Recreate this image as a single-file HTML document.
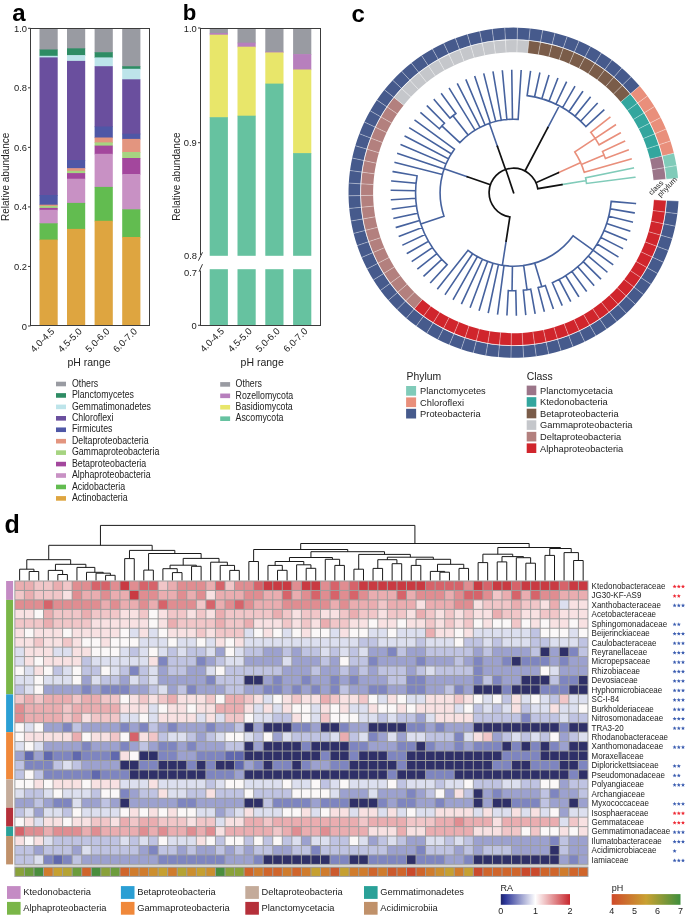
<!DOCTYPE html>
<html><head><meta charset="utf-8"><style>
html,body{margin:0;padding:0;background:#fff;}
svg{display:block;font-family:"Liberation Sans", sans-serif;will-change:transform;}
</style></head><body>
<svg width="685" height="917" viewBox="0 0 685 917">
<rect width="685" height="917" fill="#fff"/>
<text x="12.3" y="21" font-size="24" text-anchor="start" font-weight="bold" fill="#000">a</text>
<text x="182.8" y="19.9" font-size="22.2" text-anchor="start" font-weight="bold" fill="#000">b</text>
<text x="351.4" y="21.8" font-size="24" text-anchor="start" font-weight="bold" fill="#000">c</text>
<text x="4.4" y="532.9" font-size="25" text-anchor="start" font-weight="bold" fill="#000">d</text>
<rect x="39.5" y="28.3" width="18.2" height="21.8" fill="#999ba2"/>
<rect x="39.5" y="49.5" width="18.2" height="6.9" fill="#2e8c64"/>
<rect x="39.5" y="55.8" width="18.2" height="2.2" fill="#bde4ea"/>
<rect x="39.5" y="57.4" width="18.2" height="138.2" fill="#6a4f9e"/>
<rect x="39.5" y="195" width="18.2" height="10.3" fill="#4f57a6"/>
<rect x="39.5" y="204.7" width="18.2" height="1.8" fill="#e3957f"/>
<rect x="39.5" y="205.9" width="18.2" height="2.6" fill="#a6d481"/>
<rect x="39.5" y="207.9" width="18.2" height="2.5" fill="#a3479d"/>
<rect x="39.5" y="209.8" width="18.2" height="14.1" fill="#c891c4"/>
<rect x="39.5" y="223.3" width="18.2" height="16.9" fill="#62bc50"/>
<rect x="39.5" y="239.6" width="18.2" height="86.4" fill="#dea540"/>
<rect x="67" y="28.3" width="18.2" height="20.6" fill="#999ba2"/>
<rect x="67" y="48.3" width="18.2" height="7.4" fill="#2e8c64"/>
<rect x="67" y="55.1" width="18.2" height="6.4" fill="#bde4ea"/>
<rect x="67" y="60.9" width="18.2" height="99.7" fill="#6a4f9e"/>
<rect x="67" y="160" width="18.2" height="8.8" fill="#4f57a6"/>
<rect x="67" y="168.2" width="18.2" height="3.2" fill="#e3957f"/>
<rect x="67" y="170.8" width="18.2" height="2.9" fill="#a6d481"/>
<rect x="67" y="173.1" width="18.2" height="6.2" fill="#a3479d"/>
<rect x="67" y="178.7" width="18.2" height="24.8" fill="#c891c4"/>
<rect x="67" y="202.9" width="18.2" height="26.6" fill="#62bc50"/>
<rect x="67" y="228.9" width="18.2" height="97.1" fill="#dea540"/>
<rect x="94.6" y="28.3" width="18.2" height="24.5" fill="#999ba2"/>
<rect x="94.6" y="52.2" width="18.2" height="5.8" fill="#2e8c64"/>
<rect x="94.6" y="57.4" width="18.2" height="9.4" fill="#bde4ea"/>
<rect x="94.6" y="66.2" width="18.2" height="60.9" fill="#6a4f9e"/>
<rect x="94.6" y="126.5" width="18.2" height="11.6" fill="#4f57a6"/>
<rect x="94.6" y="137.5" width="18.2" height="5.5" fill="#e3957f"/>
<rect x="94.6" y="142.4" width="18.2" height="3.8" fill="#a6d481"/>
<rect x="94.6" y="145.6" width="18.2" height="8.8" fill="#a3479d"/>
<rect x="94.6" y="153.8" width="18.2" height="33.7" fill="#c891c4"/>
<rect x="94.6" y="186.9" width="18.2" height="34.5" fill="#62bc50"/>
<rect x="94.6" y="220.8" width="18.2" height="105.2" fill="#dea540"/>
<rect x="122.2" y="28.3" width="18.2" height="38.5" fill="#999ba2"/>
<rect x="122.2" y="66.2" width="18.2" height="3.2" fill="#2e8c64"/>
<rect x="122.2" y="68.8" width="18.2" height="11.1" fill="#bde4ea"/>
<rect x="122.2" y="79.3" width="18.2" height="55" fill="#6a4f9e"/>
<rect x="122.2" y="133.7" width="18.2" height="5.8" fill="#4f57a6"/>
<rect x="122.2" y="138.9" width="18.2" height="13.7" fill="#e3957f"/>
<rect x="122.2" y="152" width="18.2" height="6.6" fill="#a6d481"/>
<rect x="122.2" y="158" width="18.2" height="16.6" fill="#a3479d"/>
<rect x="122.2" y="174" width="18.2" height="35.9" fill="#c891c4"/>
<rect x="122.2" y="209.3" width="18.2" height="28.3" fill="#62bc50"/>
<rect x="122.2" y="237" width="18.2" height="89" fill="#dea540"/>
<rect x="30.5" y="28.5" width="119" height="297" fill="none" stroke="#3c3c3c" stroke-width="1"/>
<line x1="28" y1="326" x2="30.5" y2="326" stroke="#3c3c3c" stroke-width="1"/>
<text x="27" y="329.5" font-size="9.4" text-anchor="end" font-weight="normal" fill="#222">0</text>
<line x1="28" y1="266.46" x2="30.5" y2="266.46" stroke="#3c3c3c" stroke-width="1"/>
<text x="27" y="269.96" font-size="9.4" text-anchor="end" font-weight="normal" fill="#222">0.2</text>
<line x1="28" y1="206.92" x2="30.5" y2="206.92" stroke="#3c3c3c" stroke-width="1"/>
<text x="27" y="210.42" font-size="9.4" text-anchor="end" font-weight="normal" fill="#222">0.4</text>
<line x1="28" y1="147.38" x2="30.5" y2="147.38" stroke="#3c3c3c" stroke-width="1"/>
<text x="27" y="150.88" font-size="9.4" text-anchor="end" font-weight="normal" fill="#222">0.6</text>
<line x1="28" y1="87.84" x2="30.5" y2="87.84" stroke="#3c3c3c" stroke-width="1"/>
<text x="27" y="91.34" font-size="9.4" text-anchor="end" font-weight="normal" fill="#222">0.8</text>
<line x1="28" y1="28.3" x2="30.5" y2="28.3" stroke="#3c3c3c" stroke-width="1"/>
<text x="27" y="31.8" font-size="9.4" text-anchor="end" font-weight="normal" fill="#222">1.0</text>
<text transform="translate(9.4,176.9) rotate(-90) scale(1,1.12)" font-size="10" text-anchor="middle" fill="#222">Relative abundance</text>
<text transform="translate(55.1,332.0) rotate(-45)" font-size="9.5" text-anchor="end" fill="#222">4.0-4.5</text>
<text transform="translate(82.6,332.0) rotate(-45)" font-size="9.5" text-anchor="end" fill="#222">4.5-5.0</text>
<text transform="translate(110.2,332.0) rotate(-45)" font-size="9.5" text-anchor="end" fill="#222">5.0-6.0</text>
<text transform="translate(137.8,332.0) rotate(-45)" font-size="9.5" text-anchor="end" fill="#222">6.0-7.0</text>
<text x="89" y="366.2" font-size="10.5" text-anchor="middle" font-weight="normal" fill="#222">pH range</text>
<rect x="56" y="381.7" width="10" height="4.6" fill="#999ba2"/>
<text transform="translate(71.9,386.7) scale(1,1.17)" font-size="8.8" fill="#222">Others</text>
<rect x="56" y="393.14" width="10" height="4.6" fill="#2e8c64"/>
<text transform="translate(71.9,398.14) scale(1,1.17)" font-size="8.8" fill="#222">Planctomycetes</text>
<rect x="56" y="404.58" width="10" height="4.6" fill="#bde4ea"/>
<text transform="translate(71.9,409.58) scale(1,1.17)" font-size="8.8" fill="#222">Gemmatimonadetes</text>
<rect x="56" y="416.02" width="10" height="4.6" fill="#6a4f9e"/>
<text transform="translate(71.9,421.02) scale(1,1.17)" font-size="8.8" fill="#222">Chloroflexi</text>
<rect x="56" y="427.46" width="10" height="4.6" fill="#4f57a6"/>
<text transform="translate(71.9,432.46) scale(1,1.17)" font-size="8.8" fill="#222">Firmicutes</text>
<rect x="56" y="438.9" width="10" height="4.6" fill="#e3957f"/>
<text transform="translate(71.9,443.9) scale(1,1.17)" font-size="8.8" fill="#222">Deltaproteobacteria</text>
<rect x="56" y="450.34" width="10" height="4.6" fill="#a6d481"/>
<text transform="translate(71.9,455.34) scale(1,1.17)" font-size="8.8" fill="#222">Gammaproteobacteria</text>
<rect x="56" y="461.78" width="10" height="4.6" fill="#a3479d"/>
<text transform="translate(71.9,466.78) scale(1,1.17)" font-size="8.8" fill="#222">Betaproteobacteria</text>
<rect x="56" y="473.22" width="10" height="4.6" fill="#c891c4"/>
<text transform="translate(71.9,478.22) scale(1,1.17)" font-size="8.8" fill="#222">Alphaproteobacteria</text>
<rect x="56" y="484.66" width="10" height="4.6" fill="#62bc50"/>
<text transform="translate(71.9,489.66) scale(1,1.17)" font-size="8.8" fill="#222">Acidobacteria</text>
<rect x="56" y="496.1" width="10" height="4.6" fill="#dea540"/>
<text transform="translate(71.9,501.1) scale(1,1.17)" font-size="8.8" fill="#222">Actinobacteria</text>
<rect x="209.7" y="28" width="18.2" height="5.6" fill="#999ba2"/>
<rect x="209.7" y="33" width="18.2" height="2.3" fill="#b77fbd"/>
<rect x="209.7" y="34.7" width="18.2" height="83.1" fill="#e8e66a"/>
<rect x="209.7" y="117.2" width="18.2" height="138.6" fill="#66c2a0"/>
<rect x="209.7" y="269.2" width="18.2" height="56.1" fill="#66c2a0"/>
<rect x="237.5" y="28" width="18.2" height="15.3" fill="#999ba2"/>
<rect x="237.5" y="42.7" width="18.2" height="4.6" fill="#b77fbd"/>
<rect x="237.5" y="46.7" width="18.2" height="69.6" fill="#e8e66a"/>
<rect x="237.5" y="115.7" width="18.2" height="140.1" fill="#66c2a0"/>
<rect x="237.5" y="269.2" width="18.2" height="56.1" fill="#66c2a0"/>
<rect x="265.3" y="28" width="18.2" height="24.2" fill="#999ba2"/>
<rect x="265.3" y="51.6" width="18.2" height="1.4" fill="#b77fbd"/>
<rect x="265.3" y="52.4" width="18.2" height="31.8" fill="#e8e66a"/>
<rect x="265.3" y="83.6" width="18.2" height="172.2" fill="#66c2a0"/>
<rect x="265.3" y="269.2" width="18.2" height="56.1" fill="#66c2a0"/>
<rect x="293.1" y="28" width="18.2" height="26.7" fill="#999ba2"/>
<rect x="293.1" y="54.1" width="18.2" height="16" fill="#b77fbd"/>
<rect x="293.1" y="69.5" width="18.2" height="84.2" fill="#e8e66a"/>
<rect x="293.1" y="153.1" width="18.2" height="102.7" fill="#66c2a0"/>
<rect x="293.1" y="269.2" width="18.2" height="56.1" fill="#66c2a0"/>
<line x1="200" y1="28.5" x2="321" y2="28.5" stroke="#3c3c3c" stroke-width="1"/>
<line x1="320.5" y1="28.5" x2="320.5" y2="325.5" stroke="#3c3c3c" stroke-width="1"/>
<line x1="200" y1="325.5" x2="321" y2="325.5" stroke="#3c3c3c" stroke-width="1"/>
<line x1="200.5" y1="28.5" x2="200.5" y2="255" stroke="#3c3c3c" stroke-width="1"/>
<line x1="200.5" y1="270.5" x2="200.5" y2="325.5" stroke="#3c3c3c" stroke-width="1"/>
<line x1="202.5" y1="252.3" x2="198.4" y2="260.7" stroke="#3c3c3c" stroke-width="1"/>
<line x1="202.5" y1="264.2" x2="199" y2="271.8" stroke="#3c3c3c" stroke-width="1"/>
<line x1="198" y1="28" x2="200.5" y2="28" stroke="#3c3c3c" stroke-width="1"/>
<text x="196.8" y="31.5" font-size="9.4" text-anchor="end" font-weight="normal" fill="#222">1.0</text>
<line x1="198" y1="142.7" x2="200.5" y2="142.7" stroke="#3c3c3c" stroke-width="1"/>
<text x="196.8" y="146.2" font-size="9.4" text-anchor="end" font-weight="normal" fill="#222">0.9</text>
<text x="197" y="259.1" font-size="9.4" text-anchor="end" font-weight="normal" fill="#222">0.8</text>
<text x="197" y="275.7" font-size="9.4" text-anchor="end" font-weight="normal" fill="#222">0.7</text>
<line x1="198" y1="325.3" x2="200.5" y2="325.3" stroke="#3c3c3c" stroke-width="1"/>
<text x="196.8" y="328.8" font-size="9.4" text-anchor="end" font-weight="normal" fill="#222">0</text>
<text transform="translate(180.3,176.7) rotate(-90) scale(1,1.12)" font-size="10" text-anchor="middle" fill="#222">Relative abundance</text>
<text transform="translate(224.8,331.8) rotate(-45)" font-size="9.5" text-anchor="end" fill="#222">4.0-4.5</text>
<text transform="translate(252.6,331.8) rotate(-45)" font-size="9.5" text-anchor="end" fill="#222">4.5-5.0</text>
<text transform="translate(280.4,331.8) rotate(-45)" font-size="9.5" text-anchor="end" fill="#222">5.0-6.0</text>
<text transform="translate(308.2,331.8) rotate(-45)" font-size="9.5" text-anchor="end" fill="#222">6.0-7.0</text>
<text x="262.2" y="366.2" font-size="10.5" text-anchor="middle" font-weight="normal" fill="#222">pH range</text>
<rect x="220.2" y="382.1" width="9.9" height="4.6" fill="#999ba2"/>
<text transform="translate(235.6,387.1) scale(1,1.17)" font-size="8.8" fill="#222">Others</text>
<rect x="220.2" y="393.53" width="9.9" height="4.6" fill="#b77fbd"/>
<text transform="translate(235.6,398.53) scale(1,1.17)" font-size="8.8" fill="#222">Rozellomycota</text>
<rect x="220.2" y="404.96" width="9.9" height="4.6" fill="#e8e66a"/>
<text transform="translate(235.6,409.96) scale(1,1.17)" font-size="8.8" fill="#222">Basidiomycota</text>
<rect x="220.2" y="416.39" width="9.9" height="4.6" fill="#66c2a0"/>
<text transform="translate(235.6,421.39) scale(1,1.17)" font-size="8.8" fill="#222">Ascomycota</text>
<path d="M666.1,200.43 A152.7,152.7 0 0 1 665.06,212.1 L652.96,210.55 A140.5,140.5 0 0 0 653.92,199.81Z" fill="#d0252c"/>
<path d="M678.49,201.05 A165.1,165.1 0 0 1 677.36,213.68 L665.66,212.18 A153.3,153.3 0 0 0 666.7,200.46Z" fill="#465a8c"/>
<path d="M665.06,212.1 A152.7,152.7 0 0 1 663.13,223.67 L651.18,221.19 A140.5,140.5 0 0 0 652.96,210.55Z" fill="#d0252c"/>
<path d="M677.36,213.68 A165.1,165.1 0 0 1 675.27,226.18 L663.71,223.79 A153.3,153.3 0 0 0 665.66,212.18Z" fill="#465a8c"/>
<path d="M663.13,223.67 A152.7,152.7 0 0 1 660.31,235.05 L648.59,231.67 A140.5,140.5 0 0 0 651.18,221.19Z" fill="#d0252c"/>
<path d="M675.27,226.18 A165.1,165.1 0 0 1 672.22,238.49 L660.89,235.22 A153.3,153.3 0 0 0 663.71,223.79Z" fill="#465a8c"/>
<path d="M660.31,235.05 A152.7,152.7 0 0 1 656.63,246.18 L645.2,241.91 A140.5,140.5 0 0 0 648.59,231.67Z" fill="#d0252c"/>
<path d="M672.22,238.49 A165.1,165.1 0 0 1 668.24,250.53 L657.19,246.39 A153.3,153.3 0 0 0 660.89,235.22Z" fill="#465a8c"/>
<path d="M656.63,246.18 A152.7,152.7 0 0 1 652.1,257 L641.04,251.86 A140.5,140.5 0 0 0 645.2,241.91Z" fill="#d0252c"/>
<path d="M668.24,250.53 A165.1,165.1 0 0 1 663.35,262.22 L652.65,257.25 A153.3,153.3 0 0 0 657.19,246.39Z" fill="#465a8c"/>
<path d="M652.1,257 A152.7,152.7 0 0 1 646.76,267.44 L636.12,261.47 A140.5,140.5 0 0 0 641.04,251.86Z" fill="#d0252c"/>
<path d="M663.35,262.22 A165.1,165.1 0 0 1 657.57,273.51 L647.28,267.73 A153.3,153.3 0 0 0 652.65,257.25Z" fill="#465a8c"/>
<path d="M646.76,267.44 A152.7,152.7 0 0 1 640.63,277.43 L630.48,270.66 A140.5,140.5 0 0 0 636.12,261.47Z" fill="#d0252c"/>
<path d="M657.57,273.51 A165.1,165.1 0 0 1 650.95,284.32 L641.13,277.77 A153.3,153.3 0 0 0 647.28,267.73Z" fill="#465a8c"/>
<path d="M640.63,277.43 A152.7,152.7 0 0 1 633.76,286.93 L624.16,279.4 A140.5,140.5 0 0 0 630.48,270.66Z" fill="#d0252c"/>
<path d="M650.95,284.32 A165.1,165.1 0 0 1 643.51,294.58 L634.23,287.3 A153.3,153.3 0 0 0 641.13,277.77Z" fill="#465a8c"/>
<path d="M633.76,286.93 A152.7,152.7 0 0 1 626.17,295.87 L617.18,287.63 A140.5,140.5 0 0 0 624.16,279.4Z" fill="#d0252c"/>
<path d="M643.51,294.58 A165.1,165.1 0 0 1 635.31,304.25 L626.61,296.28 A153.3,153.3 0 0 0 634.23,287.3Z" fill="#465a8c"/>
<path d="M626.17,295.87 A152.7,152.7 0 0 1 617.92,304.21 L609.59,295.3 A140.5,140.5 0 0 0 617.18,287.63Z" fill="#d0252c"/>
<path d="M635.31,304.25 A165.1,165.1 0 0 1 626.4,313.26 L618.33,304.65 A153.3,153.3 0 0 0 626.61,296.28Z" fill="#465a8c"/>
<path d="M617.92,304.21 A152.7,152.7 0 0 1 609.06,311.88 L601.43,302.36 A140.5,140.5 0 0 0 609.59,295.3Z" fill="#d0252c"/>
<path d="M626.4,313.26 A165.1,165.1 0 0 1 616.81,321.56 L609.44,312.35 A153.3,153.3 0 0 0 618.33,304.65Z" fill="#465a8c"/>
<path d="M609.06,311.88 A152.7,152.7 0 0 1 599.63,318.86 L592.76,308.78 A140.5,140.5 0 0 0 601.43,302.36Z" fill="#d0252c"/>
<path d="M616.81,321.56 A165.1,165.1 0 0 1 606.62,329.1 L599.97,319.35 A153.3,153.3 0 0 0 609.44,312.35Z" fill="#465a8c"/>
<path d="M599.63,318.86 A152.7,152.7 0 0 1 589.7,325.09 L583.62,314.51 A140.5,140.5 0 0 0 592.76,308.78Z" fill="#d0252c"/>
<path d="M606.62,329.1 A165.1,165.1 0 0 1 595.88,335.84 L590,325.61 A153.3,153.3 0 0 0 599.97,319.35Z" fill="#465a8c"/>
<path d="M589.7,325.09 A152.7,152.7 0 0 1 579.32,330.53 L574.07,319.52 A140.5,140.5 0 0 0 583.62,314.51Z" fill="#d0252c"/>
<path d="M595.88,335.84 A165.1,165.1 0 0 1 584.65,341.73 L579.58,331.08 A153.3,153.3 0 0 0 590,325.61Z" fill="#465a8c"/>
<path d="M579.32,330.53 A152.7,152.7 0 0 1 568.55,335.17 L564.16,323.79 A140.5,140.5 0 0 0 574.07,319.52Z" fill="#d0252c"/>
<path d="M584.65,341.73 A165.1,165.1 0 0 1 573.01,346.74 L568.76,335.73 A153.3,153.3 0 0 0 579.58,331.08Z" fill="#465a8c"/>
<path d="M568.55,335.17 A152.7,152.7 0 0 1 557.45,338.97 L553.95,327.28 A140.5,140.5 0 0 0 564.16,323.79Z" fill="#d0252c"/>
<path d="M573.01,346.74 A165.1,165.1 0 0 1 561.02,350.84 L557.63,339.54 A153.3,153.3 0 0 0 568.76,335.73Z" fill="#465a8c"/>
<path d="M557.45,338.97 A152.7,152.7 0 0 1 546.1,341.9 L543.51,329.98 A140.5,140.5 0 0 0 553.95,327.28Z" fill="#d0252c"/>
<path d="M561.02,350.84 A165.1,165.1 0 0 1 548.74,354.02 L546.23,342.49 A153.3,153.3 0 0 0 557.63,339.54Z" fill="#465a8c"/>
<path d="M546.1,341.9 A152.7,152.7 0 0 1 534.56,343.95 L532.88,331.87 A140.5,140.5 0 0 0 543.51,329.98Z" fill="#d0252c"/>
<path d="M548.74,354.02 A165.1,165.1 0 0 1 536.26,356.24 L534.64,344.55 A153.3,153.3 0 0 0 546.23,342.49Z" fill="#465a8c"/>
<path d="M534.56,343.95 A152.7,152.7 0 0 1 522.89,345.12 L522.15,332.94 A140.5,140.5 0 0 0 532.88,331.87Z" fill="#d0252c"/>
<path d="M536.26,356.24 A165.1,165.1 0 0 1 523.64,357.49 L522.93,345.72 A153.3,153.3 0 0 0 534.64,344.55Z" fill="#465a8c"/>
<path d="M522.89,345.12 A152.7,152.7 0 0 1 511.17,345.38 L511.36,333.18 A140.5,140.5 0 0 0 522.15,332.94Z" fill="#d0252c"/>
<path d="M523.64,357.49 A165.1,165.1 0 0 1 510.97,357.78 L511.16,345.98 A153.3,153.3 0 0 0 522.93,345.72Z" fill="#465a8c"/>
<path d="M511.17,345.38 A152.7,152.7 0 0 1 499.46,344.74 L500.59,332.6 A140.5,140.5 0 0 0 511.36,333.18Z" fill="#d0252c"/>
<path d="M510.97,357.78 A165.1,165.1 0 0 1 498.31,357.09 L499.4,345.34 A153.3,153.3 0 0 0 511.16,345.98Z" fill="#465a8c"/>
<path d="M499.46,344.74 A152.7,152.7 0 0 1 487.84,343.21 L489.89,331.19 A140.5,140.5 0 0 0 500.59,332.6Z" fill="#d0252c"/>
<path d="M498.31,357.09 A165.1,165.1 0 0 1 485.74,355.43 L487.73,343.8 A153.3,153.3 0 0 0 499.4,345.34Z" fill="#465a8c"/>
<path d="M487.84,343.21 A152.7,152.7 0 0 1 476.36,340.79 L479.34,328.96 A140.5,140.5 0 0 0 489.89,331.19Z" fill="#d0252c"/>
<path d="M485.74,355.43 A165.1,165.1 0 0 1 473.34,352.82 L476.22,341.37 A153.3,153.3 0 0 0 487.73,343.8Z" fill="#465a8c"/>
<path d="M476.36,340.79 A152.7,152.7 0 0 1 465.11,337.5 L468.98,325.93 A140.5,140.5 0 0 0 479.34,328.96Z" fill="#d0252c"/>
<path d="M473.34,352.82 A165.1,165.1 0 0 1 461.17,349.25 L464.92,338.07 A153.3,153.3 0 0 0 476.22,341.37Z" fill="#465a8c"/>
<path d="M465.11,337.5 A152.7,152.7 0 0 1 454.14,333.35 L458.89,322.11 A140.5,140.5 0 0 0 468.98,325.93Z" fill="#d0252c"/>
<path d="M461.17,349.25 A165.1,165.1 0 0 1 449.31,344.77 L453.91,333.9 A153.3,153.3 0 0 0 464.92,338.07Z" fill="#465a8c"/>
<path d="M454.14,333.35 A152.7,152.7 0 0 1 443.53,328.37 L449.12,317.53 A140.5,140.5 0 0 0 458.89,322.11Z" fill="#d0252c"/>
<path d="M449.31,344.77 A165.1,165.1 0 0 1 437.84,339.39 L443.25,328.91 A153.3,153.3 0 0 0 453.91,333.9Z" fill="#465a8c"/>
<path d="M443.53,328.37 A152.7,152.7 0 0 1 433.32,322.6 L439.74,312.22 A140.5,140.5 0 0 0 449.12,317.53Z" fill="#d0252c"/>
<path d="M437.84,339.39 A165.1,165.1 0 0 1 426.8,333.14 L433.01,323.11 A153.3,153.3 0 0 0 443.25,328.91Z" fill="#465a8c"/>
<path d="M433.32,322.6 A152.7,152.7 0 0 1 423.59,316.05 L430.78,306.2 A140.5,140.5 0 0 0 439.74,312.22Z" fill="#d0252c"/>
<path d="M426.8,333.14 A165.1,165.1 0 0 1 416.28,326.07 L423.24,316.54 A153.3,153.3 0 0 0 433.01,323.11Z" fill="#465a8c"/>
<path d="M423.59,316.05 A152.7,152.7 0 0 1 414.39,308.78 L422.32,299.51 A140.5,140.5 0 0 0 430.78,306.2Z" fill="#d0252c"/>
<path d="M416.28,326.07 A165.1,165.1 0 0 1 406.34,318.21 L414,309.24 A153.3,153.3 0 0 0 423.24,316.54Z" fill="#465a8c"/>
<path d="M414.39,308.78 A152.7,152.7 0 0 1 405.78,300.83 L414.39,292.19 A140.5,140.5 0 0 0 422.32,299.51Z" fill="#b3807e"/>
<path d="M406.34,318.21 A165.1,165.1 0 0 1 397.02,309.61 L405.35,301.25 A153.3,153.3 0 0 0 414,309.24Z" fill="#465a8c"/>
<path d="M405.78,300.83 A152.7,152.7 0 0 1 397.8,292.24 L407.05,284.28 A140.5,140.5 0 0 0 414.39,292.19Z" fill="#b3807e"/>
<path d="M397.02,309.61 A165.1,165.1 0 0 1 388.4,300.32 L397.34,292.63 A153.3,153.3 0 0 0 405.35,301.25Z" fill="#465a8c"/>
<path d="M397.8,292.24 A152.7,152.7 0 0 1 390.5,283.06 L400.34,275.84 A140.5,140.5 0 0 0 407.05,284.28Z" fill="#b3807e"/>
<path d="M388.4,300.32 A165.1,165.1 0 0 1 380.51,290.39 L390.02,283.41 A153.3,153.3 0 0 0 397.34,292.63Z" fill="#465a8c"/>
<path d="M390.5,283.06 A152.7,152.7 0 0 1 383.93,273.35 L394.29,266.9 A140.5,140.5 0 0 0 400.34,275.84Z" fill="#b3807e"/>
<path d="M380.51,290.39 A165.1,165.1 0 0 1 373.4,279.89 L383.42,273.66 A153.3,153.3 0 0 0 390.02,283.41Z" fill="#465a8c"/>
<path d="M383.93,273.35 A152.7,152.7 0 0 1 378.13,263.16 L388.95,257.53 A140.5,140.5 0 0 0 394.29,266.9Z" fill="#b3807e"/>
<path d="M373.4,279.89 A165.1,165.1 0 0 1 367.13,268.88 L377.59,263.44 A153.3,153.3 0 0 0 383.42,273.66Z" fill="#465a8c"/>
<path d="M378.13,263.16 A152.7,152.7 0 0 1 373.12,252.56 L384.34,247.77 A140.5,140.5 0 0 0 388.95,257.53Z" fill="#b3807e"/>
<path d="M367.13,268.88 A165.1,165.1 0 0 1 361.71,257.42 L372.57,252.79 A153.3,153.3 0 0 0 377.59,263.44Z" fill="#465a8c"/>
<path d="M373.12,252.56 A152.7,152.7 0 0 1 368.94,241.6 L380.5,237.69 A140.5,140.5 0 0 0 384.34,247.77Z" fill="#b3807e"/>
<path d="M361.71,257.42 A165.1,165.1 0 0 1 357.19,245.57 L368.37,241.79 A153.3,153.3 0 0 0 372.57,252.79Z" fill="#465a8c"/>
<path d="M368.94,241.6 A152.7,152.7 0 0 1 365.62,230.36 L377.44,227.35 A140.5,140.5 0 0 0 380.5,237.69Z" fill="#b3807e"/>
<path d="M357.19,245.57 A165.1,165.1 0 0 1 353.6,233.41 L365.03,230.5 A153.3,153.3 0 0 0 368.37,241.79Z" fill="#465a8c"/>
<path d="M365.62,230.36 A152.7,152.7 0 0 1 363.16,218.89 L375.18,216.8 A140.5,140.5 0 0 0 377.44,227.35Z" fill="#b3807e"/>
<path d="M353.6,233.41 A165.1,165.1 0 0 1 350.95,221.02 L362.57,218.99 A153.3,153.3 0 0 0 365.03,230.5Z" fill="#465a8c"/>
<path d="M363.16,218.89 A152.7,152.7 0 0 1 361.6,207.27 L373.74,206.11 A140.5,140.5 0 0 0 375.18,216.8Z" fill="#b3807e"/>
<path d="M350.95,221.02 A165.1,165.1 0 0 1 349.25,208.45 L361,207.33 A153.3,153.3 0 0 0 362.57,218.99Z" fill="#465a8c"/>
<path d="M361.6,207.27 A152.7,152.7 0 0 1 360.93,195.56 L373.12,195.34 A140.5,140.5 0 0 0 373.74,206.11Z" fill="#b3807e"/>
<path d="M349.25,208.45 A165.1,165.1 0 0 1 348.53,195.8 L360.33,195.58 A153.3,153.3 0 0 0 361,207.33Z" fill="#465a8c"/>
<path d="M360.93,195.56 A152.7,152.7 0 0 1 361.16,183.84 L373.34,184.55 A140.5,140.5 0 0 0 373.12,195.34Z" fill="#b3807e"/>
<path d="M348.53,195.8 A165.1,165.1 0 0 1 348.78,183.12 L360.56,183.81 A153.3,153.3 0 0 0 360.33,195.58Z" fill="#465a8c"/>
<path d="M361.16,183.84 A152.7,152.7 0 0 1 362.29,172.17 L374.38,173.81 A140.5,140.5 0 0 0 373.34,184.55Z" fill="#b3807e"/>
<path d="M348.78,183.12 A165.1,165.1 0 0 1 350,170.5 L361.69,172.09 A153.3,153.3 0 0 0 360.56,183.81Z" fill="#465a8c"/>
<path d="M362.29,172.17 A152.7,152.7 0 0 1 364.31,160.62 L376.24,163.18 A140.5,140.5 0 0 0 374.38,173.81Z" fill="#b3807e"/>
<path d="M350,170.5 A165.1,165.1 0 0 1 352.18,158.02 L363.72,160.5 A153.3,153.3 0 0 0 361.69,172.09Z" fill="#465a8c"/>
<path d="M364.31,160.62 A152.7,152.7 0 0 1 367.21,149.26 L378.9,152.73 A140.5,140.5 0 0 0 376.24,163.18Z" fill="#b3807e"/>
<path d="M352.18,158.02 A165.1,165.1 0 0 1 355.32,145.73 L366.63,149.09 A153.3,153.3 0 0 0 363.72,160.5Z" fill="#465a8c"/>
<path d="M367.21,149.26 A152.7,152.7 0 0 1 370.97,138.16 L382.37,142.51 A140.5,140.5 0 0 0 378.9,152.73Z" fill="#b3807e"/>
<path d="M355.32,145.73 A165.1,165.1 0 0 1 359.39,133.73 L370.41,137.94 A153.3,153.3 0 0 0 366.63,149.09Z" fill="#465a8c"/>
<path d="M370.97,138.16 A152.7,152.7 0 0 1 375.58,127.37 L386.61,132.59 A140.5,140.5 0 0 0 382.37,142.51Z" fill="#b3807e"/>
<path d="M359.39,133.73 A165.1,165.1 0 0 1 364.37,122.07 L375.04,127.12 A153.3,153.3 0 0 0 370.41,137.94Z" fill="#465a8c"/>
<path d="M375.58,127.37 A152.7,152.7 0 0 1 381,116.98 L391.59,123.03 A140.5,140.5 0 0 0 386.61,132.59Z" fill="#b3807e"/>
<path d="M364.37,122.07 A165.1,165.1 0 0 1 370.23,110.83 L380.48,116.68 A153.3,153.3 0 0 0 375.04,127.12Z" fill="#465a8c"/>
<path d="M381,116.98 A152.7,152.7 0 0 1 387.2,107.02 L397.3,113.87 A140.5,140.5 0 0 0 391.59,123.03Z" fill="#b3807e"/>
<path d="M370.23,110.83 A165.1,165.1 0 0 1 376.94,100.07 L386.7,106.69 A153.3,153.3 0 0 0 380.48,116.68Z" fill="#465a8c"/>
<path d="M387.2,107.02 A152.7,152.7 0 0 1 394.15,97.58 L403.69,105.18 A140.5,140.5 0 0 0 397.3,113.87Z" fill="#b3807e"/>
<path d="M376.94,100.07 A165.1,165.1 0 0 1 384.45,89.85 L393.68,97.2 A153.3,153.3 0 0 0 386.7,106.69Z" fill="#465a8c"/>
<path d="M394.15,97.58 A152.7,152.7 0 0 1 401.8,88.69 L410.73,97 A140.5,140.5 0 0 0 403.69,105.18Z" fill="#c5c7cb"/>
<path d="M384.45,89.85 A165.1,165.1 0 0 1 392.72,80.25 L401.36,88.28 A153.3,153.3 0 0 0 393.68,97.2Z" fill="#465a8c"/>
<path d="M401.8,88.69 A152.7,152.7 0 0 1 410.11,80.42 L418.38,89.39 A140.5,140.5 0 0 0 410.73,97Z" fill="#c5c7cb"/>
<path d="M392.72,80.25 A165.1,165.1 0 0 1 401.7,71.3 L409.7,79.98 A153.3,153.3 0 0 0 401.36,88.28Z" fill="#465a8c"/>
<path d="M410.11,80.42 A152.7,152.7 0 0 1 419.03,72.81 L426.58,82.39 A140.5,140.5 0 0 0 418.38,89.39Z" fill="#c5c7cb"/>
<path d="M401.7,71.3 A165.1,165.1 0 0 1 411.35,63.08 L418.66,72.34 A153.3,153.3 0 0 0 409.7,79.98Z" fill="#465a8c"/>
<path d="M419.03,72.81 A152.7,152.7 0 0 1 428.51,65.91 L435.3,76.04 A140.5,140.5 0 0 0 426.58,82.39Z" fill="#c5c7cb"/>
<path d="M411.35,63.08 A165.1,165.1 0 0 1 421.6,55.61 L428.17,65.41 A153.3,153.3 0 0 0 418.66,72.34Z" fill="#465a8c"/>
<path d="M428.51,65.91 A152.7,152.7 0 0 1 438.49,59.75 L444.49,70.37 A140.5,140.5 0 0 0 435.3,76.04Z" fill="#c5c7cb"/>
<path d="M421.6,55.61 A165.1,165.1 0 0 1 432.39,48.96 L438.19,59.23 A153.3,153.3 0 0 0 428.17,65.41Z" fill="#465a8c"/>
<path d="M438.49,59.75 A152.7,152.7 0 0 1 448.91,54.38 L454.08,65.43 A140.5,140.5 0 0 0 444.49,70.37Z" fill="#c5c7cb"/>
<path d="M432.39,48.96 A165.1,165.1 0 0 1 443.65,43.15 L448.65,53.84 A153.3,153.3 0 0 0 438.19,59.23Z" fill="#465a8c"/>
<path d="M448.91,54.38 A152.7,152.7 0 0 1 459.71,49.82 L464.02,61.24 A140.5,140.5 0 0 0 454.08,65.43Z" fill="#c5c7cb"/>
<path d="M443.65,43.15 A165.1,165.1 0 0 1 455.34,38.22 L459.5,49.26 A153.3,153.3 0 0 0 448.65,53.84Z" fill="#465a8c"/>
<path d="M459.71,49.82 A152.7,152.7 0 0 1 470.83,46.11 L474.25,57.82 A140.5,140.5 0 0 0 464.02,61.24Z" fill="#c5c7cb"/>
<path d="M455.34,38.22 A165.1,165.1 0 0 1 467.36,34.21 L470.67,45.54 A153.3,153.3 0 0 0 459.5,49.26Z" fill="#465a8c"/>
<path d="M470.83,46.11 A152.7,152.7 0 0 1 482.21,43.26 L484.72,55.2 A140.5,140.5 0 0 0 474.25,57.82Z" fill="#c5c7cb"/>
<path d="M467.36,34.21 A165.1,165.1 0 0 1 479.66,31.13 L482.08,42.67 A153.3,153.3 0 0 0 470.67,45.54Z" fill="#465a8c"/>
<path d="M482.21,43.26 A152.7,152.7 0 0 1 493.77,41.29 L495.35,53.39 A140.5,140.5 0 0 0 484.72,55.2Z" fill="#c5c7cb"/>
<path d="M479.66,31.13 A165.1,165.1 0 0 1 492.16,29 L493.69,40.7 A153.3,153.3 0 0 0 482.08,42.67Z" fill="#465a8c"/>
<path d="M493.77,41.29 A152.7,152.7 0 0 1 505.44,40.22 L506.09,52.4 A140.5,140.5 0 0 0 495.35,53.39Z" fill="#c5c7cb"/>
<path d="M492.16,29 A165.1,165.1 0 0 1 504.78,27.84 L505.41,39.62 A153.3,153.3 0 0 0 493.69,40.7Z" fill="#465a8c"/>
<path d="M505.44,40.22 A152.7,152.7 0 0 1 517.17,40.04 L516.88,52.24 A140.5,140.5 0 0 0 506.09,52.4Z" fill="#c5c7cb"/>
<path d="M504.78,27.84 A165.1,165.1 0 0 1 517.46,27.65 L517.18,39.44 A153.3,153.3 0 0 0 505.41,39.62Z" fill="#465a8c"/>
<path d="M517.17,40.04 A152.7,152.7 0 0 1 528.87,40.77 L527.65,52.9 A140.5,140.5 0 0 0 516.88,52.24Z" fill="#c5c7cb"/>
<path d="M517.46,27.65 A165.1,165.1 0 0 1 530.11,28.43 L528.93,40.17 A153.3,153.3 0 0 0 517.18,39.44Z" fill="#465a8c"/>
<path d="M528.87,40.77 A152.7,152.7 0 0 1 540.48,42.38 L538.33,54.39 A140.5,140.5 0 0 0 527.65,52.9Z" fill="#7a5c49"/>
<path d="M530.11,28.43 A165.1,165.1 0 0 1 542.66,30.18 L540.59,41.79 A153.3,153.3 0 0 0 528.93,40.17Z" fill="#465a8c"/>
<path d="M540.48,42.38 A152.7,152.7 0 0 1 551.94,44.89 L548.87,56.7 A140.5,140.5 0 0 0 538.33,54.39Z" fill="#7a5c49"/>
<path d="M542.66,30.18 A165.1,165.1 0 0 1 555.05,32.89 L552.09,44.31 A153.3,153.3 0 0 0 540.59,41.79Z" fill="#465a8c"/>
<path d="M551.94,44.89 A152.7,152.7 0 0 1 563.16,48.27 L559.2,59.81 A140.5,140.5 0 0 0 548.87,56.7Z" fill="#7a5c49"/>
<path d="M555.05,32.89 A165.1,165.1 0 0 1 567.19,36.54 L563.36,47.7 A153.3,153.3 0 0 0 552.09,44.31Z" fill="#465a8c"/>
<path d="M563.16,48.27 A152.7,152.7 0 0 1 574.1,52.5 L569.27,63.7 A140.5,140.5 0 0 0 559.2,59.81Z" fill="#7a5c49"/>
<path d="M567.19,36.54 A165.1,165.1 0 0 1 579.01,41.11 L574.34,51.95 A153.3,153.3 0 0 0 563.36,47.7Z" fill="#465a8c"/>
<path d="M574.1,52.5 A152.7,152.7 0 0 1 584.68,57.55 L579,68.35 A140.5,140.5 0 0 0 569.27,63.7Z" fill="#7a5c49"/>
<path d="M579.01,41.11 A165.1,165.1 0 0 1 590.45,46.58 L584.96,57.02 A153.3,153.3 0 0 0 574.34,51.95Z" fill="#465a8c"/>
<path d="M584.68,57.55 A152.7,152.7 0 0 1 594.84,63.4 L588.35,73.73 A140.5,140.5 0 0 0 579,68.35Z" fill="#7a5c49"/>
<path d="M590.45,46.58 A165.1,165.1 0 0 1 601.44,52.91 L595.16,62.9 A153.3,153.3 0 0 0 584.96,57.02Z" fill="#465a8c"/>
<path d="M594.84,63.4 A152.7,152.7 0 0 1 604.52,70.02 L597.26,79.82 A140.5,140.5 0 0 0 588.35,73.73Z" fill="#7a5c49"/>
<path d="M601.44,52.91 A165.1,165.1 0 0 1 611.91,60.06 L604.88,69.54 A153.3,153.3 0 0 0 595.16,62.9Z" fill="#465a8c"/>
<path d="M604.52,70.02 A152.7,152.7 0 0 1 613.67,77.36 L605.67,86.57 A140.5,140.5 0 0 0 597.26,79.82Z" fill="#7a5c49"/>
<path d="M611.91,60.06 A165.1,165.1 0 0 1 621.79,67.99 L614.06,76.9 A153.3,153.3 0 0 0 604.88,69.54Z" fill="#465a8c"/>
<path d="M613.67,77.36 A152.7,152.7 0 0 1 622.22,85.38 L613.54,93.95 A140.5,140.5 0 0 0 605.67,86.57Z" fill="#7a5c49"/>
<path d="M621.79,67.99 A165.1,165.1 0 0 1 631.04,76.66 L622.65,84.95 A153.3,153.3 0 0 0 614.06,76.9Z" fill="#465a8c"/>
<path d="M622.22,85.38 A152.7,152.7 0 0 1 630.14,94.03 L620.83,101.91 A140.5,140.5 0 0 0 613.54,93.95Z" fill="#7a5c49"/>
<path d="M631.04,76.66 A165.1,165.1 0 0 1 639.6,86.01 L630.59,93.64 A153.3,153.3 0 0 0 622.65,84.95Z" fill="#465a8c"/>
<path d="M630.14,94.03 A152.7,152.7 0 0 1 637.36,103.26 L627.48,110.41 A140.5,140.5 0 0 0 620.83,101.91Z" fill="#33a69e"/>
<path d="M639.6,86.01 A165.1,165.1 0 0 1 647.41,96 L637.85,102.91 A153.3,153.3 0 0 0 630.59,93.64Z" fill="#e98f7b"/>
<path d="M637.36,103.26 A152.7,152.7 0 0 1 643.86,113.02 L633.46,119.39 A140.5,140.5 0 0 0 627.48,110.41Z" fill="#33a69e"/>
<path d="M647.41,96 A165.1,165.1 0 0 1 654.44,106.55 L644.37,112.71 A153.3,153.3 0 0 0 637.85,102.91Z" fill="#e98f7b"/>
<path d="M643.86,113.02 A152.7,152.7 0 0 1 649.59,123.25 L638.73,128.8 A140.5,140.5 0 0 0 633.46,119.39Z" fill="#33a69e"/>
<path d="M654.44,106.55 A165.1,165.1 0 0 1 660.64,117.61 L650.13,122.98 A153.3,153.3 0 0 0 644.37,112.71Z" fill="#e98f7b"/>
<path d="M649.59,123.25 A152.7,152.7 0 0 1 654.52,133.89 L643.26,138.59 A140.5,140.5 0 0 0 638.73,128.8Z" fill="#33a69e"/>
<path d="M660.64,117.61 A165.1,165.1 0 0 1 665.96,129.11 L655.07,133.66 A153.3,153.3 0 0 0 650.13,122.98Z" fill="#e98f7b"/>
<path d="M654.52,133.89 A152.7,152.7 0 0 1 658.62,144.88 L647.03,148.7 A140.5,140.5 0 0 0 643.26,138.59Z" fill="#33a69e"/>
<path d="M665.96,129.11 A165.1,165.1 0 0 1 670.39,140.99 L659.19,144.69 A153.3,153.3 0 0 0 655.07,133.66Z" fill="#e98f7b"/>
<path d="M658.62,144.88 A152.7,152.7 0 0 1 661.86,156.14 L650.01,159.06 A140.5,140.5 0 0 0 647.03,148.7Z" fill="#33a69e"/>
<path d="M670.39,140.99 A165.1,165.1 0 0 1 673.9,153.17 L662.44,156 A153.3,153.3 0 0 0 659.19,144.69Z" fill="#e98f7b"/>
<path d="M661.86,156.14 A152.7,152.7 0 0 1 664.23,167.63 L652.19,169.63 A140.5,140.5 0 0 0 650.01,159.06Z" fill="#9b7589"/>
<path d="M673.9,153.17 A165.1,165.1 0 0 1 676.46,165.59 L664.82,167.53 A153.3,153.3 0 0 0 662.44,156Z" fill="#80cbb9"/>
<path d="M664.23,167.63 A152.7,152.7 0 0 1 665.71,179.26 L653.55,180.33 A140.5,140.5 0 0 0 652.19,169.63Z" fill="#9b7589"/>
<path d="M676.46,165.59 A165.1,165.1 0 0 1 678.06,178.17 L666.3,179.21 A153.3,153.3 0 0 0 664.82,167.53Z" fill="#80cbb9"/>
<path d="M653.72,199.8L678.69,201.06M652.76,210.53L677.56,213.71M650.98,221.15L675.46,226.22M648.4,231.61L672.42,238.55M645.01,241.84L668.43,250.6M640.86,251.78L663.53,262.31M635.95,261.37L657.75,273.6M630.32,270.55L651.12,284.43M624,279.28L643.67,294.71M617.03,287.5L635.46,304.39M609.45,295.15L626.53,313.41M601.31,302.2L616.94,321.72M592.65,308.61L606.73,329.27M583.52,314.34L595.98,336.01M573.98,319.34L584.74,341.91M564.09,323.6L573.08,346.93M553.89,327.09L561.07,351.04M543.46,329.79L548.78,354.21M532.86,331.67L536.29,356.44M522.14,332.74L523.66,357.69M511.37,332.98L510.97,357.98M500.61,332.4L498.29,357.29M489.93,330.99L485.71,355.63M479.39,328.76L473.29,353.01M469.05,325.74L461.11,349.44M458.97,321.93L449.24,344.95M449.22,317.35L437.74,339.57M439.84,312.05L426.7,333.31M430.9,306.04L416.17,326.23M422.45,299.36L406.21,318.36M414.53,292.05L396.88,309.75M407.2,284.15L388.24,300.45M400.5,275.72L380.35,290.51M394.46,266.8L373.23,280M389.13,257.44L366.95,268.97M384.53,247.7L361.53,257.5M380.69,237.63L357.01,245.64M377.63,227.3L353.41,233.46M375.38,216.76L350.75,221.05M373.94,206.09L349.05,208.47M373.32,195.33L348.33,195.8M373.54,184.56L348.58,183.11M374.57,173.84L349.8,170.48M376.43,163.23L351.99,157.97M379.1,152.79L355.13,145.68M382.56,142.59L359.2,133.66M386.79,132.68L364.19,121.98M391.77,123.12L370.06,110.73M397.46,113.98L376.77,99.95M403.85,105.3L384.29,89.73M410.88,97.14L392.57,80.11M418.51,89.54L401.57,71.16M426.71,82.55L411.22,62.92M435.42,76.2L421.48,55.45M444.58,70.55L432.29,48.78M454.16,65.61L443.57,42.97M464.09,61.43L455.27,38.04M474.31,58.01L467.3,34.02M484.76,55.4L479.62,30.93M495.38,53.59L492.13,28.8M506.1,52.6L504.77,27.64M516.88,52.44L517.46,27.45M527.63,53.1L530.13,28.23M538.3,54.59L542.7,29.98M548.82,56.89L555.1,32.69M559.14,60L567.25,36.35M569.19,63.88L579.09,40.93M578.91,68.53L590.55,46.4M588.24,73.9L601.54,52.74M597.14,79.98L612.02,59.9M605.54,86.72L621.92,67.84M613.4,94.09L631.19,76.52M620.67,102.04L639.75,85.88M627.31,110.52L647.58,95.88M633.28,119.49L654.61,106.44M638.55,128.89L660.81,117.52M643.08,138.66L666.15,129.04M646.84,148.76L670.58,140.93M649.82,159.11L674.09,153.13M652,169.66L676.66,165.56M653.36,180.35L678.26,178.15" stroke="#fff" stroke-width="0.6" stroke-opacity="0.6" fill="none"/>
<path d="M666.4,200.44 A153,153 0 1 1 666.01,179.23" stroke="#fff" stroke-width="0.6" stroke-opacity="0.8" fill="none"/>
<path d="M573.13,235.8A73.5,73.5 0 0 1 468.03,250.37M573.13,235.8L592.98,250.17M611.21,201.41A98,98 0 0 1 552.35,282.71M611.21,201.41L635.32,203.56M610.26,208.88L634.12,212.87M608.73,216.24L632.22,222.06M606.64,223.47L629.62,231.07M604.01,230.52L626.33,239.86M600.84,237.35L622.38,248.37M597.16,243.91L617.79,256.56M592.98,250.17L612.58,264.36M588.34,256.09L606.79,271.75M583.25,261.64L600.45,278.66M577.76,266.78L593.6,285.07M571.88,271.49L586.28,290.94M565.67,275.73L578.52,296.23M559.14,279.48L570.39,300.9M552.35,282.71L561.92,304.94M534.71,263.1L541.74,286.57M545.33,285.42A98,98 0 0 1 538.12,287.58M545.33,285.42L553.16,308.32M538.12,287.58L544.18,311.01M523.69,265.5L527.05,289.77M530.77,289.18A98,98 0 0 1 523.31,290.22M530.77,289.18L535.01,313.01M523.31,290.22L525.71,314.3M512.43,266.19L512.04,290.69M515.8,290.68A98,98 0 0 1 508.28,290.56M515.8,290.68L516.35,314.87M508.28,290.56L506.96,314.72M503.99,265.57L497.62,313.85M498.43,264.62L488.37,312.27M492.95,263.24L479.27,309.98M487.6,261.45L470.37,307M482.4,259.25L461.73,303.35M477.39,256.66L453.4,299.04M472.59,253.69L445.41,294.11M468.03,250.37L437.83,288.58M443.97,216.24A73.5,73.5 0 0 1 454.39,149.16M443.97,216.24L420.76,224.08M447.12,264.7A98,98 0 0 1 417.07,175.81M447.12,264.7L430.7,282.48M441.79,259.39L424.06,275.85M436.88,253.68L417.94,268.74M432.43,247.61L412.39,261.17M428.46,241.22L407.43,253.21M424.98,234.55L403.1,244.88M422.03,227.62L399.42,236.25M419.62,220.5L396.42,227.36M417.77,213.2L394.1,218.27M416.48,205.79L392.49,209.02M415.76,198.3L391.6,199.68M415.62,190.78L391.42,190.3M416.06,183.26L391.97,180.93M417.07,175.81L393.23,171.63M442.39,174.51L395.2,162.46M443.99,169.1L397.87,153.46M446.01,163.83L401.22,144.7M448.42,158.73L405.24,136.22M451.22,153.83L409.89,128.07M454.39,149.16L415.15,120.3M459.79,142.64A73.5,73.5 0 0 1 518.14,119.34M459.79,142.64L441.85,125.95M439.34,128.75A98,98 0 0 1 444.46,123.24M439.34,128.75L421,112.96M444.46,123.24L427.39,106.09M468.08,134.99L452.91,115.76M450,118.14A98,98 0 0 1 455.9,113.48M450,118.14L434.29,99.73M455.9,113.48L441.66,93.92M475.01,130.14L449.45,88.69M479.93,127.37L457.62,84.08M485.04,124.98L466.12,80.1M490.32,122.98L474.9,76.79M495.74,121.4L483.9,74.16M501.26,120.24L493.09,72.23M506.86,119.51L502.39,71.02M512.49,119.21L511.76,70.51M518.14,119.34L521.14,70.73M527.14,95.64A98,98 0 0 1 585.9,126.55M527.14,95.64L530.48,71.67M534.54,96.96L539.72,73.32M541.83,98.85L548.8,75.68M548.95,101.3L557.67,78.72M555.85,104.28L566.29,82.44M562.51,107.78L574.59,86.81M568.89,111.78L582.54,91.8M574.93,116.26L590.08,97.39M580.62,121.2L597.16,103.54M585.9,126.55L603.76,110.21M506.11,241.12L502.36,265.34M467.28,176.71L444.12,168.72M497.43,146.44L489.35,123.32M547.81,127.65L559.22,105.96" stroke="#46629e" stroke-width="1.6" fill="none" stroke-linecap="square"/>
<path d="M574.78,151.97A73.5,73.5 0 0 1 584.23,172.38M574.78,151.97L595.18,138.39M590.77,132.29A98,98 0 0 1 599.1,144.81M590.77,132.29L609.82,117.37M595.18,138.39L615.32,124.98M599.1,144.81L620.22,132.98M581.43,164.39L604.04,154.96M602.52,151.51A98,98 0 0 1 605.42,158.46M602.52,151.51L624.48,141.34M605.42,158.46L628.1,150M584.23,172.38L631.04,158.91M558.32,172.68L580.68,162.67" stroke="#e98f7b" stroke-width="1.6" fill="none" stroke-linecap="square"/>
<path d="M585.59,177.86A73.5,73.5 0 0 1 586.51,183.42M585.59,177.86L633.28,168.02M586.51,183.42L634.82,177.28M561.93,184.65L586.1,180.63" stroke="#80cbb9" stroke-width="1.6" fill="none" stroke-linecap="square"/>
<path d="M509.85,216.91L506.11,241.12M490.44,184.71L467.28,176.71M505.52,169.57L497.43,146.44M525,171.02L547.81,127.65M535.96,182.69L558.32,172.68M537.77,188.68L561.93,184.65M509.85,216.91A24.5,24.5 0 1 1 537.77,188.68M513.6,192.7L505.83,169.47" stroke="#111" stroke-width="1.7" fill="none" stroke-linecap="square"/>
<text transform="translate(651.6,195.6) rotate(-45)" font-size="7.6" fill="#222">class</text>
<text transform="translate(660.6,197.6) rotate(-46)" font-size="7.6" fill="#222">phylum</text>
<text x="406.5" y="379.6" font-size="10.4" text-anchor="start" font-weight="normal" fill="#222">Phylum</text>
<rect x="406.1" y="386" width="10" height="9.7" fill="#80cbb9"/>
<text x="420.1" y="394.2" font-size="9.3" text-anchor="start" font-weight="normal" fill="#222">Planctomycetes</text>
<rect x="406.1" y="397.4" width="10" height="9.7" fill="#e98f7b"/>
<text x="420.1" y="405.6" font-size="9.3" text-anchor="start" font-weight="normal" fill="#222">Chloroflexi</text>
<rect x="406.1" y="408.8" width="10" height="9.7" fill="#465a8c"/>
<text x="420.1" y="417" font-size="9.3" text-anchor="start" font-weight="normal" fill="#222">Proteobacteria</text>
<text x="526.7" y="379.6" font-size="10.4" text-anchor="start" font-weight="normal" fill="#222">Class</text>
<rect x="526.7" y="385.6" width="9.6" height="9.6" fill="#9b7589"/>
<text x="540" y="393.8" font-size="9.3" text-anchor="start" font-weight="normal" fill="#222">Planctomycetacia</text>
<rect x="526.7" y="397.16" width="9.6" height="9.6" fill="#33a69e"/>
<text x="540" y="405.36" font-size="9.3" text-anchor="start" font-weight="normal" fill="#222">Ktedonobacteria</text>
<rect x="526.7" y="408.72" width="9.6" height="9.6" fill="#7a5c49"/>
<text x="540" y="416.92" font-size="9.3" text-anchor="start" font-weight="normal" fill="#222">Betaproteobacteria</text>
<rect x="526.7" y="420.28" width="9.6" height="9.6" fill="#c5c7cb"/>
<text x="540" y="428.48" font-size="9.3" text-anchor="start" font-weight="normal" fill="#222">Gammaproteobacteria</text>
<rect x="526.7" y="431.84" width="9.6" height="9.6" fill="#b3807e"/>
<text x="540" y="440.04" font-size="9.3" text-anchor="start" font-weight="normal" fill="#222">Deltaproteobacteria</text>
<rect x="526.7" y="443.4" width="9.6" height="9.6" fill="#d0252c"/>
<text x="540" y="451.6" font-size="9.3" text-anchor="start" font-weight="normal" fill="#222">Alphaproteobacteria</text>
<rect x="14.35" y="580.5" width="574.1" height="284.4" fill="#9d9d9d"/>
<rect x="15.35" y="581.5" width="8.55" height="8.45" fill="#eaadb0"/>
<rect x="24.9" y="581.5" width="8.55" height="8.45" fill="#eaadb0"/>
<rect x="34.45" y="581.5" width="8.55" height="8.45" fill="#f1c6c8"/>
<rect x="44.01" y="581.5" width="8.55" height="8.45" fill="#f1c6c8"/>
<rect x="53.56" y="581.5" width="8.55" height="8.45" fill="#eaadb0"/>
<rect x="63.11" y="581.5" width="8.55" height="8.45" fill="#f1c6c8"/>
<rect x="72.66" y="581.5" width="8.55" height="8.45" fill="#e08d91"/>
<rect x="82.21" y="581.5" width="8.55" height="8.45" fill="#e08d91"/>
<rect x="91.76" y="581.5" width="8.55" height="8.45" fill="#d6636a"/>
<rect x="101.31" y="581.5" width="8.55" height="8.45" fill="#d6636a"/>
<rect x="110.87" y="581.5" width="8.55" height="8.45" fill="#e08d91"/>
<rect x="120.42" y="581.5" width="8.55" height="8.45" fill="#c93a42"/>
<rect x="129.97" y="581.5" width="8.55" height="8.45" fill="#e08d91"/>
<rect x="139.52" y="581.5" width="8.55" height="8.45" fill="#d6636a"/>
<rect x="149.07" y="581.5" width="8.55" height="8.45" fill="#d6636a"/>
<rect x="158.62" y="581.5" width="8.55" height="8.45" fill="#f1c6c8"/>
<rect x="168.18" y="581.5" width="8.55" height="8.45" fill="#eaadb0"/>
<rect x="177.73" y="581.5" width="8.55" height="8.45" fill="#e08d91"/>
<rect x="187.28" y="581.5" width="8.55" height="8.45" fill="#e08d91"/>
<rect x="196.83" y="581.5" width="8.55" height="8.45" fill="#e08d91"/>
<rect x="206.38" y="581.5" width="8.55" height="8.45" fill="#eaadb0"/>
<rect x="215.94" y="581.5" width="8.55" height="8.45" fill="#d6636a"/>
<rect x="225.49" y="581.5" width="8.55" height="8.45" fill="#f1c6c8"/>
<rect x="235.04" y="581.5" width="8.55" height="8.45" fill="#e08d91"/>
<rect x="244.59" y="581.5" width="8.55" height="8.45" fill="#e08d91"/>
<rect x="254.14" y="581.5" width="8.55" height="8.45" fill="#d6636a"/>
<rect x="263.69" y="581.5" width="8.55" height="8.45" fill="#c93a42"/>
<rect x="273.25" y="581.5" width="8.55" height="8.45" fill="#c93a42"/>
<rect x="282.8" y="581.5" width="8.55" height="8.45" fill="#c93a42"/>
<rect x="292.35" y="581.5" width="8.55" height="8.45" fill="#e08d91"/>
<rect x="301.9" y="581.5" width="8.55" height="8.45" fill="#c93a42"/>
<rect x="311.45" y="581.5" width="8.55" height="8.45" fill="#c93a42"/>
<rect x="321" y="581.5" width="8.55" height="8.45" fill="#e08d91"/>
<rect x="330.56" y="581.5" width="8.55" height="8.45" fill="#d6636a"/>
<rect x="340.11" y="581.5" width="8.55" height="8.45" fill="#e08d91"/>
<rect x="349.66" y="581.5" width="8.55" height="8.45" fill="#d6636a"/>
<rect x="359.21" y="581.5" width="8.55" height="8.45" fill="#c93a42"/>
<rect x="368.76" y="581.5" width="8.55" height="8.45" fill="#c93a42"/>
<rect x="378.31" y="581.5" width="8.55" height="8.45" fill="#c93a42"/>
<rect x="387.87" y="581.5" width="8.55" height="8.45" fill="#c93a42"/>
<rect x="397.42" y="581.5" width="8.55" height="8.45" fill="#c93a42"/>
<rect x="406.97" y="581.5" width="8.55" height="8.45" fill="#c93a42"/>
<rect x="416.52" y="581.5" width="8.55" height="8.45" fill="#c93a42"/>
<rect x="426.07" y="581.5" width="8.55" height="8.45" fill="#d6636a"/>
<rect x="435.62" y="581.5" width="8.55" height="8.45" fill="#d6636a"/>
<rect x="445.18" y="581.5" width="8.55" height="8.45" fill="#d6636a"/>
<rect x="454.73" y="581.5" width="8.55" height="8.45" fill="#d6636a"/>
<rect x="464.28" y="581.5" width="8.55" height="8.45" fill="#e08d91"/>
<rect x="473.83" y="581.5" width="8.55" height="8.45" fill="#c93a42"/>
<rect x="483.38" y="581.5" width="8.55" height="8.45" fill="#d6636a"/>
<rect x="492.93" y="581.5" width="8.55" height="8.45" fill="#c93a42"/>
<rect x="502.49" y="581.5" width="8.55" height="8.45" fill="#c93a42"/>
<rect x="512.04" y="581.5" width="8.55" height="8.45" fill="#d6636a"/>
<rect x="521.59" y="581.5" width="8.55" height="8.45" fill="#c93a42"/>
<rect x="531.14" y="581.5" width="8.55" height="8.45" fill="#c93a42"/>
<rect x="540.69" y="581.5" width="8.55" height="8.45" fill="#c93a42"/>
<rect x="550.24" y="581.5" width="8.55" height="8.45" fill="#c93a42"/>
<rect x="559.8" y="581.5" width="8.55" height="8.45" fill="#d6636a"/>
<rect x="569.35" y="581.5" width="8.55" height="8.45" fill="#c93a42"/>
<rect x="578.9" y="581.5" width="8.55" height="8.45" fill="#c93a42"/>
<rect x="15.35" y="590.95" width="8.55" height="8.45" fill="#f1c6c8"/>
<rect x="24.9" y="590.95" width="8.55" height="8.45" fill="#eaadb0"/>
<rect x="34.45" y="590.95" width="8.55" height="8.45" fill="#f1c6c8"/>
<rect x="44.01" y="590.95" width="8.55" height="8.45" fill="#f1c6c8"/>
<rect x="53.56" y="590.95" width="8.55" height="8.45" fill="#f1c6c8"/>
<rect x="63.11" y="590.95" width="8.55" height="8.45" fill="#f8e1e2"/>
<rect x="72.66" y="590.95" width="8.55" height="8.45" fill="#e08d91"/>
<rect x="82.21" y="590.95" width="8.55" height="8.45" fill="#eaadb0"/>
<rect x="91.76" y="590.95" width="8.55" height="8.45" fill="#eaadb0"/>
<rect x="101.31" y="590.95" width="8.55" height="8.45" fill="#e08d91"/>
<rect x="110.87" y="590.95" width="8.55" height="8.45" fill="#eaadb0"/>
<rect x="120.42" y="590.95" width="8.55" height="8.45" fill="#eaadb0"/>
<rect x="129.97" y="590.95" width="8.55" height="8.45" fill="#c93a42"/>
<rect x="139.52" y="590.95" width="8.55" height="8.45" fill="#e08d91"/>
<rect x="149.07" y="590.95" width="8.55" height="8.45" fill="#e08d91"/>
<rect x="158.62" y="590.95" width="8.55" height="8.45" fill="#eaadb0"/>
<rect x="168.18" y="590.95" width="8.55" height="8.45" fill="#eaadb0"/>
<rect x="177.73" y="590.95" width="8.55" height="8.45" fill="#e08d91"/>
<rect x="187.28" y="590.95" width="8.55" height="8.45" fill="#eaadb0"/>
<rect x="196.83" y="590.95" width="8.55" height="8.45" fill="#e08d91"/>
<rect x="206.38" y="590.95" width="8.55" height="8.45" fill="#f8e1e2"/>
<rect x="215.94" y="590.95" width="8.55" height="8.45" fill="#eaadb0"/>
<rect x="225.49" y="590.95" width="8.55" height="8.45" fill="#eaadb0"/>
<rect x="235.04" y="590.95" width="8.55" height="8.45" fill="#eaadb0"/>
<rect x="244.59" y="590.95" width="8.55" height="8.45" fill="#e08d91"/>
<rect x="254.14" y="590.95" width="8.55" height="8.45" fill="#e08d91"/>
<rect x="263.69" y="590.95" width="8.55" height="8.45" fill="#eaadb0"/>
<rect x="273.25" y="590.95" width="8.55" height="8.45" fill="#eaadb0"/>
<rect x="282.8" y="590.95" width="8.55" height="8.45" fill="#d6636a"/>
<rect x="292.35" y="590.95" width="8.55" height="8.45" fill="#eaadb0"/>
<rect x="301.9" y="590.95" width="8.55" height="8.45" fill="#e08d91"/>
<rect x="311.45" y="590.95" width="8.55" height="8.45" fill="#d6636a"/>
<rect x="321" y="590.95" width="8.55" height="8.45" fill="#e08d91"/>
<rect x="330.56" y="590.95" width="8.55" height="8.45" fill="#d6636a"/>
<rect x="340.11" y="590.95" width="8.55" height="8.45" fill="#e08d91"/>
<rect x="349.66" y="590.95" width="8.55" height="8.45" fill="#d6636a"/>
<rect x="359.21" y="590.95" width="8.55" height="8.45" fill="#e08d91"/>
<rect x="368.76" y="590.95" width="8.55" height="8.45" fill="#eaadb0"/>
<rect x="378.31" y="590.95" width="8.55" height="8.45" fill="#eaadb0"/>
<rect x="387.87" y="590.95" width="8.55" height="8.45" fill="#eaadb0"/>
<rect x="397.42" y="590.95" width="8.55" height="8.45" fill="#d6636a"/>
<rect x="406.97" y="590.95" width="8.55" height="8.45" fill="#eaadb0"/>
<rect x="416.52" y="590.95" width="8.55" height="8.45" fill="#e08d91"/>
<rect x="426.07" y="590.95" width="8.55" height="8.45" fill="#e08d91"/>
<rect x="435.62" y="590.95" width="8.55" height="8.45" fill="#e08d91"/>
<rect x="445.18" y="590.95" width="8.55" height="8.45" fill="#eaadb0"/>
<rect x="454.73" y="590.95" width="8.55" height="8.45" fill="#e08d91"/>
<rect x="464.28" y="590.95" width="8.55" height="8.45" fill="#d6636a"/>
<rect x="473.83" y="590.95" width="8.55" height="8.45" fill="#d6636a"/>
<rect x="483.38" y="590.95" width="8.55" height="8.45" fill="#e08d91"/>
<rect x="492.93" y="590.95" width="8.55" height="8.45" fill="#f1c6c8"/>
<rect x="502.49" y="590.95" width="8.55" height="8.45" fill="#eaadb0"/>
<rect x="512.04" y="590.95" width="8.55" height="8.45" fill="#d6636a"/>
<rect x="521.59" y="590.95" width="8.55" height="8.45" fill="#eaadb0"/>
<rect x="531.14" y="590.95" width="8.55" height="8.45" fill="#d6636a"/>
<rect x="540.69" y="590.95" width="8.55" height="8.45" fill="#e08d91"/>
<rect x="550.24" y="590.95" width="8.55" height="8.45" fill="#e08d91"/>
<rect x="559.8" y="590.95" width="8.55" height="8.45" fill="#eaadb0"/>
<rect x="569.35" y="590.95" width="8.55" height="8.45" fill="#eaadb0"/>
<rect x="578.9" y="590.95" width="8.55" height="8.45" fill="#eaadb0"/>
<rect x="15.35" y="600.39" width="8.55" height="8.45" fill="#e08d91"/>
<rect x="24.9" y="600.39" width="8.55" height="8.45" fill="#e08d91"/>
<rect x="34.45" y="600.39" width="8.55" height="8.45" fill="#e08d91"/>
<rect x="44.01" y="600.39" width="8.55" height="8.45" fill="#d6636a"/>
<rect x="53.56" y="600.39" width="8.55" height="8.45" fill="#e08d91"/>
<rect x="63.11" y="600.39" width="8.55" height="8.45" fill="#e08d91"/>
<rect x="72.66" y="600.39" width="8.55" height="8.45" fill="#e08d91"/>
<rect x="82.21" y="600.39" width="8.55" height="8.45" fill="#e08d91"/>
<rect x="91.76" y="600.39" width="8.55" height="8.45" fill="#e08d91"/>
<rect x="101.31" y="600.39" width="8.55" height="8.45" fill="#eaadb0"/>
<rect x="110.87" y="600.39" width="8.55" height="8.45" fill="#e08d91"/>
<rect x="120.42" y="600.39" width="8.55" height="8.45" fill="#eaadb0"/>
<rect x="129.97" y="600.39" width="8.55" height="8.45" fill="#eaadb0"/>
<rect x="139.52" y="600.39" width="8.55" height="8.45" fill="#e08d91"/>
<rect x="149.07" y="600.39" width="8.55" height="8.45" fill="#eaadb0"/>
<rect x="158.62" y="600.39" width="8.55" height="8.45" fill="#d6636a"/>
<rect x="168.18" y="600.39" width="8.55" height="8.45" fill="#e08d91"/>
<rect x="177.73" y="600.39" width="8.55" height="8.45" fill="#e08d91"/>
<rect x="187.28" y="600.39" width="8.55" height="8.45" fill="#e08d91"/>
<rect x="196.83" y="600.39" width="8.55" height="8.45" fill="#f1c6c8"/>
<rect x="206.38" y="600.39" width="8.55" height="8.45" fill="#d6636a"/>
<rect x="215.94" y="600.39" width="8.55" height="8.45" fill="#eaadb0"/>
<rect x="225.49" y="600.39" width="8.55" height="8.45" fill="#e08d91"/>
<rect x="235.04" y="600.39" width="8.55" height="8.45" fill="#d6636a"/>
<rect x="244.59" y="600.39" width="8.55" height="8.45" fill="#e08d91"/>
<rect x="254.14" y="600.39" width="8.55" height="8.45" fill="#eaadb0"/>
<rect x="263.69" y="600.39" width="8.55" height="8.45" fill="#eaadb0"/>
<rect x="273.25" y="600.39" width="8.55" height="8.45" fill="#eaadb0"/>
<rect x="282.8" y="600.39" width="8.55" height="8.45" fill="#e08d91"/>
<rect x="292.35" y="600.39" width="8.55" height="8.45" fill="#e08d91"/>
<rect x="301.9" y="600.39" width="8.55" height="8.45" fill="#e08d91"/>
<rect x="311.45" y="600.39" width="8.55" height="8.45" fill="#e08d91"/>
<rect x="321" y="600.39" width="8.55" height="8.45" fill="#e08d91"/>
<rect x="330.56" y="600.39" width="8.55" height="8.45" fill="#eaadb0"/>
<rect x="340.11" y="600.39" width="8.55" height="8.45" fill="#e08d91"/>
<rect x="349.66" y="600.39" width="8.55" height="8.45" fill="#eaadb0"/>
<rect x="359.21" y="600.39" width="8.55" height="8.45" fill="#eaadb0"/>
<rect x="368.76" y="600.39" width="8.55" height="8.45" fill="#eaadb0"/>
<rect x="378.31" y="600.39" width="8.55" height="8.45" fill="#f1c6c8"/>
<rect x="387.87" y="600.39" width="8.55" height="8.45" fill="#eaadb0"/>
<rect x="397.42" y="600.39" width="8.55" height="8.45" fill="#eaadb0"/>
<rect x="406.97" y="600.39" width="8.55" height="8.45" fill="#eaadb0"/>
<rect x="416.52" y="600.39" width="8.55" height="8.45" fill="#f8e1e2"/>
<rect x="426.07" y="600.39" width="8.55" height="8.45" fill="#eaadb0"/>
<rect x="435.62" y="600.39" width="8.55" height="8.45" fill="#eaadb0"/>
<rect x="445.18" y="600.39" width="8.55" height="8.45" fill="#eaadb0"/>
<rect x="454.73" y="600.39" width="8.55" height="8.45" fill="#e08d91"/>
<rect x="464.28" y="600.39" width="8.55" height="8.45" fill="#e08d91"/>
<rect x="473.83" y="600.39" width="8.55" height="8.45" fill="#f8e1e2"/>
<rect x="483.38" y="600.39" width="8.55" height="8.45" fill="#f1c6c8"/>
<rect x="492.93" y="600.39" width="8.55" height="8.45" fill="#f1c6c8"/>
<rect x="502.49" y="600.39" width="8.55" height="8.45" fill="#f1c6c8"/>
<rect x="512.04" y="600.39" width="8.55" height="8.45" fill="#eaadb0"/>
<rect x="521.59" y="600.39" width="8.55" height="8.45" fill="#f1c6c8"/>
<rect x="531.14" y="600.39" width="8.55" height="8.45" fill="#f1c6c8"/>
<rect x="540.69" y="600.39" width="8.55" height="8.45" fill="#f8e1e2"/>
<rect x="550.24" y="600.39" width="8.55" height="8.45" fill="#eaadb0"/>
<rect x="559.8" y="600.39" width="8.55" height="8.45" fill="#dcdfef"/>
<rect x="569.35" y="600.39" width="8.55" height="8.45" fill="#f8e1e2"/>
<rect x="578.9" y="600.39" width="8.55" height="8.45" fill="#f8e1e2"/>
<rect x="15.35" y="609.84" width="8.55" height="8.45" fill="#f8e1e2"/>
<rect x="24.9" y="609.84" width="8.55" height="8.45" fill="#f8e1e2"/>
<rect x="34.45" y="609.84" width="8.55" height="8.45" fill="#fbf8f8"/>
<rect x="44.01" y="609.84" width="8.55" height="8.45" fill="#eaadb0"/>
<rect x="53.56" y="609.84" width="8.55" height="8.45" fill="#f1c6c8"/>
<rect x="63.11" y="609.84" width="8.55" height="8.45" fill="#f1c6c8"/>
<rect x="72.66" y="609.84" width="8.55" height="8.45" fill="#f1c6c8"/>
<rect x="82.21" y="609.84" width="8.55" height="8.45" fill="#eaadb0"/>
<rect x="91.76" y="609.84" width="8.55" height="8.45" fill="#f1c6c8"/>
<rect x="101.31" y="609.84" width="8.55" height="8.45" fill="#f1c6c8"/>
<rect x="110.87" y="609.84" width="8.55" height="8.45" fill="#f1c6c8"/>
<rect x="120.42" y="609.84" width="8.55" height="8.45" fill="#f8e1e2"/>
<rect x="129.97" y="609.84" width="8.55" height="8.45" fill="#f8e1e2"/>
<rect x="139.52" y="609.84" width="8.55" height="8.45" fill="#f1c6c8"/>
<rect x="149.07" y="609.84" width="8.55" height="8.45" fill="#fbf8f8"/>
<rect x="158.62" y="609.84" width="8.55" height="8.45" fill="#f8e1e2"/>
<rect x="168.18" y="609.84" width="8.55" height="8.45" fill="#f1c6c8"/>
<rect x="177.73" y="609.84" width="8.55" height="8.45" fill="#f1c6c8"/>
<rect x="187.28" y="609.84" width="8.55" height="8.45" fill="#f8e1e2"/>
<rect x="196.83" y="609.84" width="8.55" height="8.45" fill="#f1c6c8"/>
<rect x="206.38" y="609.84" width="8.55" height="8.45" fill="#f8e1e2"/>
<rect x="215.94" y="609.84" width="8.55" height="8.45" fill="#eaadb0"/>
<rect x="225.49" y="609.84" width="8.55" height="8.45" fill="#f1c6c8"/>
<rect x="235.04" y="609.84" width="8.55" height="8.45" fill="#f1c6c8"/>
<rect x="244.59" y="609.84" width="8.55" height="8.45" fill="#f1c6c8"/>
<rect x="254.14" y="609.84" width="8.55" height="8.45" fill="#f1c6c8"/>
<rect x="263.69" y="609.84" width="8.55" height="8.45" fill="#f1c6c8"/>
<rect x="273.25" y="609.84" width="8.55" height="8.45" fill="#eaadb0"/>
<rect x="282.8" y="609.84" width="8.55" height="8.45" fill="#f1c6c8"/>
<rect x="292.35" y="609.84" width="8.55" height="8.45" fill="#f8e1e2"/>
<rect x="301.9" y="609.84" width="8.55" height="8.45" fill="#f1c6c8"/>
<rect x="311.45" y="609.84" width="8.55" height="8.45" fill="#f1c6c8"/>
<rect x="321" y="609.84" width="8.55" height="8.45" fill="#f8e1e2"/>
<rect x="330.56" y="609.84" width="8.55" height="8.45" fill="#f8e1e2"/>
<rect x="340.11" y="609.84" width="8.55" height="8.45" fill="#f1c6c8"/>
<rect x="349.66" y="609.84" width="8.55" height="8.45" fill="#eaadb0"/>
<rect x="359.21" y="609.84" width="8.55" height="8.45" fill="#f1c6c8"/>
<rect x="368.76" y="609.84" width="8.55" height="8.45" fill="#f1c6c8"/>
<rect x="378.31" y="609.84" width="8.55" height="8.45" fill="#f8e1e2"/>
<rect x="387.87" y="609.84" width="8.55" height="8.45" fill="#f1c6c8"/>
<rect x="397.42" y="609.84" width="8.55" height="8.45" fill="#f1c6c8"/>
<rect x="406.97" y="609.84" width="8.55" height="8.45" fill="#f8e1e2"/>
<rect x="416.52" y="609.84" width="8.55" height="8.45" fill="#eaadb0"/>
<rect x="426.07" y="609.84" width="8.55" height="8.45" fill="#f1c6c8"/>
<rect x="435.62" y="609.84" width="8.55" height="8.45" fill="#f8e1e2"/>
<rect x="445.18" y="609.84" width="8.55" height="8.45" fill="#f1c6c8"/>
<rect x="454.73" y="609.84" width="8.55" height="8.45" fill="#f8e1e2"/>
<rect x="464.28" y="609.84" width="8.55" height="8.45" fill="#f1c6c8"/>
<rect x="473.83" y="609.84" width="8.55" height="8.45" fill="#f8e1e2"/>
<rect x="483.38" y="609.84" width="8.55" height="8.45" fill="#f8e1e2"/>
<rect x="492.93" y="609.84" width="8.55" height="8.45" fill="#eaadb0"/>
<rect x="502.49" y="609.84" width="8.55" height="8.45" fill="#f1c6c8"/>
<rect x="512.04" y="609.84" width="8.55" height="8.45" fill="#f1c6c8"/>
<rect x="521.59" y="609.84" width="8.55" height="8.45" fill="#f8e1e2"/>
<rect x="531.14" y="609.84" width="8.55" height="8.45" fill="#f8e1e2"/>
<rect x="540.69" y="609.84" width="8.55" height="8.45" fill="#f1c6c8"/>
<rect x="550.24" y="609.84" width="8.55" height="8.45" fill="#f1c6c8"/>
<rect x="559.8" y="609.84" width="8.55" height="8.45" fill="#f8e1e2"/>
<rect x="569.35" y="609.84" width="8.55" height="8.45" fill="#f8e1e2"/>
<rect x="578.9" y="609.84" width="8.55" height="8.45" fill="#f8e1e2"/>
<rect x="15.35" y="619.29" width="8.55" height="8.45" fill="#f1c6c8"/>
<rect x="24.9" y="619.29" width="8.55" height="8.45" fill="#f1c6c8"/>
<rect x="34.45" y="619.29" width="8.55" height="8.45" fill="#f1c6c8"/>
<rect x="44.01" y="619.29" width="8.55" height="8.45" fill="#eaadb0"/>
<rect x="53.56" y="619.29" width="8.55" height="8.45" fill="#f1c6c8"/>
<rect x="63.11" y="619.29" width="8.55" height="8.45" fill="#f1c6c8"/>
<rect x="72.66" y="619.29" width="8.55" height="8.45" fill="#f1c6c8"/>
<rect x="82.21" y="619.29" width="8.55" height="8.45" fill="#f1c6c8"/>
<rect x="91.76" y="619.29" width="8.55" height="8.45" fill="#f8e1e2"/>
<rect x="101.31" y="619.29" width="8.55" height="8.45" fill="#f8e1e2"/>
<rect x="110.87" y="619.29" width="8.55" height="8.45" fill="#f8e1e2"/>
<rect x="120.42" y="619.29" width="8.55" height="8.45" fill="#f8e1e2"/>
<rect x="129.97" y="619.29" width="8.55" height="8.45" fill="#f8e1e2"/>
<rect x="139.52" y="619.29" width="8.55" height="8.45" fill="#f8e1e2"/>
<rect x="149.07" y="619.29" width="8.55" height="8.45" fill="#fbf8f8"/>
<rect x="158.62" y="619.29" width="8.55" height="8.45" fill="#f8e1e2"/>
<rect x="168.18" y="619.29" width="8.55" height="8.45" fill="#eaadb0"/>
<rect x="177.73" y="619.29" width="8.55" height="8.45" fill="#f1c6c8"/>
<rect x="187.28" y="619.29" width="8.55" height="8.45" fill="#f1c6c8"/>
<rect x="196.83" y="619.29" width="8.55" height="8.45" fill="#f1c6c8"/>
<rect x="206.38" y="619.29" width="8.55" height="8.45" fill="#f1c6c8"/>
<rect x="215.94" y="619.29" width="8.55" height="8.45" fill="#eaadb0"/>
<rect x="225.49" y="619.29" width="8.55" height="8.45" fill="#f1c6c8"/>
<rect x="235.04" y="619.29" width="8.55" height="8.45" fill="#f1c6c8"/>
<rect x="244.59" y="619.29" width="8.55" height="8.45" fill="#eaadb0"/>
<rect x="254.14" y="619.29" width="8.55" height="8.45" fill="#f8e1e2"/>
<rect x="263.69" y="619.29" width="8.55" height="8.45" fill="#f8e1e2"/>
<rect x="273.25" y="619.29" width="8.55" height="8.45" fill="#f8e1e2"/>
<rect x="282.8" y="619.29" width="8.55" height="8.45" fill="#f1c6c8"/>
<rect x="292.35" y="619.29" width="8.55" height="8.45" fill="#f8e1e2"/>
<rect x="301.9" y="619.29" width="8.55" height="8.45" fill="#f1c6c8"/>
<rect x="311.45" y="619.29" width="8.55" height="8.45" fill="#f8e1e2"/>
<rect x="321" y="619.29" width="8.55" height="8.45" fill="#eaadb0"/>
<rect x="330.56" y="619.29" width="8.55" height="8.45" fill="#f1c6c8"/>
<rect x="340.11" y="619.29" width="8.55" height="8.45" fill="#f1c6c8"/>
<rect x="349.66" y="619.29" width="8.55" height="8.45" fill="#f8e1e2"/>
<rect x="359.21" y="619.29" width="8.55" height="8.45" fill="#f8e1e2"/>
<rect x="368.76" y="619.29" width="8.55" height="8.45" fill="#fbf8f8"/>
<rect x="378.31" y="619.29" width="8.55" height="8.45" fill="#f8e1e2"/>
<rect x="387.87" y="619.29" width="8.55" height="8.45" fill="#f8e1e2"/>
<rect x="397.42" y="619.29" width="8.55" height="8.45" fill="#fbf8f8"/>
<rect x="406.97" y="619.29" width="8.55" height="8.45" fill="#f8e1e2"/>
<rect x="416.52" y="619.29" width="8.55" height="8.45" fill="#f8e1e2"/>
<rect x="426.07" y="619.29" width="8.55" height="8.45" fill="#f1c6c8"/>
<rect x="435.62" y="619.29" width="8.55" height="8.45" fill="#f8e1e2"/>
<rect x="445.18" y="619.29" width="8.55" height="8.45" fill="#f1c6c8"/>
<rect x="454.73" y="619.29" width="8.55" height="8.45" fill="#f8e1e2"/>
<rect x="464.28" y="619.29" width="8.55" height="8.45" fill="#f1c6c8"/>
<rect x="473.83" y="619.29" width="8.55" height="8.45" fill="#fbf8f8"/>
<rect x="483.38" y="619.29" width="8.55" height="8.45" fill="#f8e1e2"/>
<rect x="492.93" y="619.29" width="8.55" height="8.45" fill="#fbf8f8"/>
<rect x="502.49" y="619.29" width="8.55" height="8.45" fill="#fbf8f8"/>
<rect x="512.04" y="619.29" width="8.55" height="8.45" fill="#f1c6c8"/>
<rect x="521.59" y="619.29" width="8.55" height="8.45" fill="#fbf8f8"/>
<rect x="531.14" y="619.29" width="8.55" height="8.45" fill="#f8e1e2"/>
<rect x="540.69" y="619.29" width="8.55" height="8.45" fill="#fbf8f8"/>
<rect x="550.24" y="619.29" width="8.55" height="8.45" fill="#f8e1e2"/>
<rect x="559.8" y="619.29" width="8.55" height="8.45" fill="#f8e1e2"/>
<rect x="569.35" y="619.29" width="8.55" height="8.45" fill="#fbf8f8"/>
<rect x="578.9" y="619.29" width="8.55" height="8.45" fill="#f8e1e2"/>
<rect x="15.35" y="628.73" width="8.55" height="8.45" fill="#f8e1e2"/>
<rect x="24.9" y="628.73" width="8.55" height="8.45" fill="#fbf8f8"/>
<rect x="34.45" y="628.73" width="8.55" height="8.45" fill="#f8e1e2"/>
<rect x="44.01" y="628.73" width="8.55" height="8.45" fill="#f8e1e2"/>
<rect x="53.56" y="628.73" width="8.55" height="8.45" fill="#f8e1e2"/>
<rect x="63.11" y="628.73" width="8.55" height="8.45" fill="#fbf8f8"/>
<rect x="72.66" y="628.73" width="8.55" height="8.45" fill="#f8e1e2"/>
<rect x="82.21" y="628.73" width="8.55" height="8.45" fill="#f8e1e2"/>
<rect x="91.76" y="628.73" width="8.55" height="8.45" fill="#f8e1e2"/>
<rect x="101.31" y="628.73" width="8.55" height="8.45" fill="#f8e1e2"/>
<rect x="110.87" y="628.73" width="8.55" height="8.45" fill="#f8e1e2"/>
<rect x="120.42" y="628.73" width="8.55" height="8.45" fill="#fbf8f8"/>
<rect x="129.97" y="628.73" width="8.55" height="8.45" fill="#dcdfef"/>
<rect x="139.52" y="628.73" width="8.55" height="8.45" fill="#f8e1e2"/>
<rect x="149.07" y="628.73" width="8.55" height="8.45" fill="#dcdfef"/>
<rect x="158.62" y="628.73" width="8.55" height="8.45" fill="#fbf8f8"/>
<rect x="168.18" y="628.73" width="8.55" height="8.45" fill="#f8e1e2"/>
<rect x="177.73" y="628.73" width="8.55" height="8.45" fill="#f8e1e2"/>
<rect x="187.28" y="628.73" width="8.55" height="8.45" fill="#f8e1e2"/>
<rect x="196.83" y="628.73" width="8.55" height="8.45" fill="#f1c6c8"/>
<rect x="206.38" y="628.73" width="8.55" height="8.45" fill="#f8e1e2"/>
<rect x="215.94" y="628.73" width="8.55" height="8.45" fill="#f1c6c8"/>
<rect x="225.49" y="628.73" width="8.55" height="8.45" fill="#f1c6c8"/>
<rect x="235.04" y="628.73" width="8.55" height="8.45" fill="#f1c6c8"/>
<rect x="244.59" y="628.73" width="8.55" height="8.45" fill="#dcdfef"/>
<rect x="254.14" y="628.73" width="8.55" height="8.45" fill="#fbf8f8"/>
<rect x="263.69" y="628.73" width="8.55" height="8.45" fill="#f8e1e2"/>
<rect x="273.25" y="628.73" width="8.55" height="8.45" fill="#fbf8f8"/>
<rect x="282.8" y="628.73" width="8.55" height="8.45" fill="#dcdfef"/>
<rect x="292.35" y="628.73" width="8.55" height="8.45" fill="#fbf8f8"/>
<rect x="301.9" y="628.73" width="8.55" height="8.45" fill="#f8e1e2"/>
<rect x="311.45" y="628.73" width="8.55" height="8.45" fill="#fbf8f8"/>
<rect x="321" y="628.73" width="8.55" height="8.45" fill="#fbf8f8"/>
<rect x="330.56" y="628.73" width="8.55" height="8.45" fill="#dcdfef"/>
<rect x="340.11" y="628.73" width="8.55" height="8.45" fill="#f8e1e2"/>
<rect x="349.66" y="628.73" width="8.55" height="8.45" fill="#fbf8f8"/>
<rect x="359.21" y="628.73" width="8.55" height="8.45" fill="#fbf8f8"/>
<rect x="368.76" y="628.73" width="8.55" height="8.45" fill="#dcdfef"/>
<rect x="378.31" y="628.73" width="8.55" height="8.45" fill="#dcdfef"/>
<rect x="387.87" y="628.73" width="8.55" height="8.45" fill="#fbf8f8"/>
<rect x="397.42" y="628.73" width="8.55" height="8.45" fill="#dcdfef"/>
<rect x="406.97" y="628.73" width="8.55" height="8.45" fill="#dcdfef"/>
<rect x="416.52" y="628.73" width="8.55" height="8.45" fill="#dcdfef"/>
<rect x="426.07" y="628.73" width="8.55" height="8.45" fill="#eaadb0"/>
<rect x="435.62" y="628.73" width="8.55" height="8.45" fill="#f8e1e2"/>
<rect x="445.18" y="628.73" width="8.55" height="8.45" fill="#f8e1e2"/>
<rect x="454.73" y="628.73" width="8.55" height="8.45" fill="#fbf8f8"/>
<rect x="464.28" y="628.73" width="8.55" height="8.45" fill="#f8e1e2"/>
<rect x="473.83" y="628.73" width="8.55" height="8.45" fill="#dcdfef"/>
<rect x="483.38" y="628.73" width="8.55" height="8.45" fill="#dcdfef"/>
<rect x="492.93" y="628.73" width="8.55" height="8.45" fill="#dcdfef"/>
<rect x="502.49" y="628.73" width="8.55" height="8.45" fill="#dcdfef"/>
<rect x="512.04" y="628.73" width="8.55" height="8.45" fill="#dcdfef"/>
<rect x="521.59" y="628.73" width="8.55" height="8.45" fill="#dcdfef"/>
<rect x="531.14" y="628.73" width="8.55" height="8.45" fill="#bfc3e2"/>
<rect x="540.69" y="628.73" width="8.55" height="8.45" fill="#fbf8f8"/>
<rect x="550.24" y="628.73" width="8.55" height="8.45" fill="#fbf8f8"/>
<rect x="559.8" y="628.73" width="8.55" height="8.45" fill="#fbf8f8"/>
<rect x="569.35" y="628.73" width="8.55" height="8.45" fill="#dcdfef"/>
<rect x="578.9" y="628.73" width="8.55" height="8.45" fill="#fbf8f8"/>
<rect x="15.35" y="638.18" width="8.55" height="8.45" fill="#f8e1e2"/>
<rect x="24.9" y="638.18" width="8.55" height="8.45" fill="#f8e1e2"/>
<rect x="34.45" y="638.18" width="8.55" height="8.45" fill="#f1c6c8"/>
<rect x="44.01" y="638.18" width="8.55" height="8.45" fill="#f8e1e2"/>
<rect x="53.56" y="638.18" width="8.55" height="8.45" fill="#f8e1e2"/>
<rect x="63.11" y="638.18" width="8.55" height="8.45" fill="#f1c6c8"/>
<rect x="72.66" y="638.18" width="8.55" height="8.45" fill="#f8e1e2"/>
<rect x="82.21" y="638.18" width="8.55" height="8.45" fill="#fbf8f8"/>
<rect x="91.76" y="638.18" width="8.55" height="8.45" fill="#fbf8f8"/>
<rect x="101.31" y="638.18" width="8.55" height="8.45" fill="#f8e1e2"/>
<rect x="110.87" y="638.18" width="8.55" height="8.45" fill="#fbf8f8"/>
<rect x="120.42" y="638.18" width="8.55" height="8.45" fill="#fbf8f8"/>
<rect x="129.97" y="638.18" width="8.55" height="8.45" fill="#fbf8f8"/>
<rect x="139.52" y="638.18" width="8.55" height="8.45" fill="#dcdfef"/>
<rect x="149.07" y="638.18" width="8.55" height="8.45" fill="#dcdfef"/>
<rect x="158.62" y="638.18" width="8.55" height="8.45" fill="#dcdfef"/>
<rect x="168.18" y="638.18" width="8.55" height="8.45" fill="#fbf8f8"/>
<rect x="177.73" y="638.18" width="8.55" height="8.45" fill="#dcdfef"/>
<rect x="187.28" y="638.18" width="8.55" height="8.45" fill="#dcdfef"/>
<rect x="196.83" y="638.18" width="8.55" height="8.45" fill="#fbf8f8"/>
<rect x="206.38" y="638.18" width="8.55" height="8.45" fill="#dcdfef"/>
<rect x="215.94" y="638.18" width="8.55" height="8.45" fill="#f8e1e2"/>
<rect x="225.49" y="638.18" width="8.55" height="8.45" fill="#fbf8f8"/>
<rect x="235.04" y="638.18" width="8.55" height="8.45" fill="#f8e1e2"/>
<rect x="244.59" y="638.18" width="8.55" height="8.45" fill="#dcdfef"/>
<rect x="254.14" y="638.18" width="8.55" height="8.45" fill="#dcdfef"/>
<rect x="263.69" y="638.18" width="8.55" height="8.45" fill="#dcdfef"/>
<rect x="273.25" y="638.18" width="8.55" height="8.45" fill="#dcdfef"/>
<rect x="282.8" y="638.18" width="8.55" height="8.45" fill="#dcdfef"/>
<rect x="292.35" y="638.18" width="8.55" height="8.45" fill="#dcdfef"/>
<rect x="301.9" y="638.18" width="8.55" height="8.45" fill="#dcdfef"/>
<rect x="311.45" y="638.18" width="8.55" height="8.45" fill="#dcdfef"/>
<rect x="321" y="638.18" width="8.55" height="8.45" fill="#dcdfef"/>
<rect x="330.56" y="638.18" width="8.55" height="8.45" fill="#dcdfef"/>
<rect x="340.11" y="638.18" width="8.55" height="8.45" fill="#dcdfef"/>
<rect x="349.66" y="638.18" width="8.55" height="8.45" fill="#dcdfef"/>
<rect x="359.21" y="638.18" width="8.55" height="8.45" fill="#bfc3e2"/>
<rect x="368.76" y="638.18" width="8.55" height="8.45" fill="#bfc3e2"/>
<rect x="378.31" y="638.18" width="8.55" height="8.45" fill="#dcdfef"/>
<rect x="387.87" y="638.18" width="8.55" height="8.45" fill="#dcdfef"/>
<rect x="397.42" y="638.18" width="8.55" height="8.45" fill="#dcdfef"/>
<rect x="406.97" y="638.18" width="8.55" height="8.45" fill="#dcdfef"/>
<rect x="416.52" y="638.18" width="8.55" height="8.45" fill="#bfc3e2"/>
<rect x="426.07" y="638.18" width="8.55" height="8.45" fill="#dcdfef"/>
<rect x="435.62" y="638.18" width="8.55" height="8.45" fill="#dcdfef"/>
<rect x="445.18" y="638.18" width="8.55" height="8.45" fill="#dcdfef"/>
<rect x="454.73" y="638.18" width="8.55" height="8.45" fill="#fbf8f8"/>
<rect x="464.28" y="638.18" width="8.55" height="8.45" fill="#bfc3e2"/>
<rect x="473.83" y="638.18" width="8.55" height="8.45" fill="#bfc3e2"/>
<rect x="483.38" y="638.18" width="8.55" height="8.45" fill="#dcdfef"/>
<rect x="492.93" y="638.18" width="8.55" height="8.45" fill="#bfc3e2"/>
<rect x="502.49" y="638.18" width="8.55" height="8.45" fill="#dcdfef"/>
<rect x="512.04" y="638.18" width="8.55" height="8.45" fill="#dcdfef"/>
<rect x="521.59" y="638.18" width="8.55" height="8.45" fill="#dcdfef"/>
<rect x="531.14" y="638.18" width="8.55" height="8.45" fill="#bfc3e2"/>
<rect x="540.69" y="638.18" width="8.55" height="8.45" fill="#bfc3e2"/>
<rect x="550.24" y="638.18" width="8.55" height="8.45" fill="#dcdfef"/>
<rect x="559.8" y="638.18" width="8.55" height="8.45" fill="#dcdfef"/>
<rect x="569.35" y="638.18" width="8.55" height="8.45" fill="#dcdfef"/>
<rect x="578.9" y="638.18" width="8.55" height="8.45" fill="#bfc3e2"/>
<rect x="15.35" y="647.63" width="8.55" height="8.45" fill="#dcdfef"/>
<rect x="24.9" y="647.63" width="8.55" height="8.45" fill="#f8e1e2"/>
<rect x="34.45" y="647.63" width="8.55" height="8.45" fill="#f8e1e2"/>
<rect x="44.01" y="647.63" width="8.55" height="8.45" fill="#f8e1e2"/>
<rect x="53.56" y="647.63" width="8.55" height="8.45" fill="#dcdfef"/>
<rect x="63.11" y="647.63" width="8.55" height="8.45" fill="#dcdfef"/>
<rect x="72.66" y="647.63" width="8.55" height="8.45" fill="#f8e1e2"/>
<rect x="82.21" y="647.63" width="8.55" height="8.45" fill="#f8e1e2"/>
<rect x="91.76" y="647.63" width="8.55" height="8.45" fill="#fbf8f8"/>
<rect x="101.31" y="647.63" width="8.55" height="8.45" fill="#fbf8f8"/>
<rect x="110.87" y="647.63" width="8.55" height="8.45" fill="#fbf8f8"/>
<rect x="120.42" y="647.63" width="8.55" height="8.45" fill="#dcdfef"/>
<rect x="129.97" y="647.63" width="8.55" height="8.45" fill="#bfc3e2"/>
<rect x="139.52" y="647.63" width="8.55" height="8.45" fill="#dcdfef"/>
<rect x="149.07" y="647.63" width="8.55" height="8.45" fill="#fbf8f8"/>
<rect x="158.62" y="647.63" width="8.55" height="8.45" fill="#dcdfef"/>
<rect x="168.18" y="647.63" width="8.55" height="8.45" fill="#bfc3e2"/>
<rect x="177.73" y="647.63" width="8.55" height="8.45" fill="#dcdfef"/>
<rect x="187.28" y="647.63" width="8.55" height="8.45" fill="#bfc3e2"/>
<rect x="196.83" y="647.63" width="8.55" height="8.45" fill="#bfc3e2"/>
<rect x="206.38" y="647.63" width="8.55" height="8.45" fill="#dcdfef"/>
<rect x="215.94" y="647.63" width="8.55" height="8.45" fill="#9ca1cf"/>
<rect x="225.49" y="647.63" width="8.55" height="8.45" fill="#fbf8f8"/>
<rect x="235.04" y="647.63" width="8.55" height="8.45" fill="#dcdfef"/>
<rect x="244.59" y="647.63" width="8.55" height="8.45" fill="#bfc3e2"/>
<rect x="254.14" y="647.63" width="8.55" height="8.45" fill="#bfc3e2"/>
<rect x="263.69" y="647.63" width="8.55" height="8.45" fill="#9ca1cf"/>
<rect x="273.25" y="647.63" width="8.55" height="8.45" fill="#9ca1cf"/>
<rect x="282.8" y="647.63" width="8.55" height="8.45" fill="#bfc3e2"/>
<rect x="292.35" y="647.63" width="8.55" height="8.45" fill="#9ca1cf"/>
<rect x="301.9" y="647.63" width="8.55" height="8.45" fill="#bfc3e2"/>
<rect x="311.45" y="647.63" width="8.55" height="8.45" fill="#bfc3e2"/>
<rect x="321" y="647.63" width="8.55" height="8.45" fill="#dcdfef"/>
<rect x="330.56" y="647.63" width="8.55" height="8.45" fill="#bfc3e2"/>
<rect x="340.11" y="647.63" width="8.55" height="8.45" fill="#dcdfef"/>
<rect x="349.66" y="647.63" width="8.55" height="8.45" fill="#bfc3e2"/>
<rect x="359.21" y="647.63" width="8.55" height="8.45" fill="#dcdfef"/>
<rect x="368.76" y="647.63" width="8.55" height="8.45" fill="#9ca1cf"/>
<rect x="378.31" y="647.63" width="8.55" height="8.45" fill="#9ca1cf"/>
<rect x="387.87" y="647.63" width="8.55" height="8.45" fill="#7e85c0"/>
<rect x="397.42" y="647.63" width="8.55" height="8.45" fill="#bfc3e2"/>
<rect x="406.97" y="647.63" width="8.55" height="8.45" fill="#9ca1cf"/>
<rect x="416.52" y="647.63" width="8.55" height="8.45" fill="#9ca1cf"/>
<rect x="426.07" y="647.63" width="8.55" height="8.45" fill="#bfc3e2"/>
<rect x="435.62" y="647.63" width="8.55" height="8.45" fill="#bfc3e2"/>
<rect x="445.18" y="647.63" width="8.55" height="8.45" fill="#bfc3e2"/>
<rect x="454.73" y="647.63" width="8.55" height="8.45" fill="#bfc3e2"/>
<rect x="464.28" y="647.63" width="8.55" height="8.45" fill="#bfc3e2"/>
<rect x="473.83" y="647.63" width="8.55" height="8.45" fill="#9ca1cf"/>
<rect x="483.38" y="647.63" width="8.55" height="8.45" fill="#bfc3e2"/>
<rect x="492.93" y="647.63" width="8.55" height="8.45" fill="#9ca1cf"/>
<rect x="502.49" y="647.63" width="8.55" height="8.45" fill="#9ca1cf"/>
<rect x="512.04" y="647.63" width="8.55" height="8.45" fill="#9ca1cf"/>
<rect x="521.59" y="647.63" width="8.55" height="8.45" fill="#9ca1cf"/>
<rect x="531.14" y="647.63" width="8.55" height="8.45" fill="#bfc3e2"/>
<rect x="540.69" y="647.63" width="8.55" height="8.45" fill="#2f3068"/>
<rect x="550.24" y="647.63" width="8.55" height="8.45" fill="#9ca1cf"/>
<rect x="559.8" y="647.63" width="8.55" height="8.45" fill="#2f3068"/>
<rect x="569.35" y="647.63" width="8.55" height="8.45" fill="#7e85c0"/>
<rect x="578.9" y="647.63" width="8.55" height="8.45" fill="#bfc3e2"/>
<rect x="15.35" y="657.07" width="8.55" height="8.45" fill="#dcdfef"/>
<rect x="24.9" y="657.07" width="8.55" height="8.45" fill="#f8e1e2"/>
<rect x="34.45" y="657.07" width="8.55" height="8.45" fill="#fbf8f8"/>
<rect x="44.01" y="657.07" width="8.55" height="8.45" fill="#f8e1e2"/>
<rect x="53.56" y="657.07" width="8.55" height="8.45" fill="#f8e1e2"/>
<rect x="63.11" y="657.07" width="8.55" height="8.45" fill="#f8e1e2"/>
<rect x="72.66" y="657.07" width="8.55" height="8.45" fill="#f8e1e2"/>
<rect x="82.21" y="657.07" width="8.55" height="8.45" fill="#bfc3e2"/>
<rect x="91.76" y="657.07" width="8.55" height="8.45" fill="#dcdfef"/>
<rect x="101.31" y="657.07" width="8.55" height="8.45" fill="#dcdfef"/>
<rect x="110.87" y="657.07" width="8.55" height="8.45" fill="#dcdfef"/>
<rect x="120.42" y="657.07" width="8.55" height="8.45" fill="#dcdfef"/>
<rect x="129.97" y="657.07" width="8.55" height="8.45" fill="#dcdfef"/>
<rect x="139.52" y="657.07" width="8.55" height="8.45" fill="#dcdfef"/>
<rect x="149.07" y="657.07" width="8.55" height="8.45" fill="#f8e1e2"/>
<rect x="158.62" y="657.07" width="8.55" height="8.45" fill="#7e85c0"/>
<rect x="168.18" y="657.07" width="8.55" height="8.45" fill="#bfc3e2"/>
<rect x="177.73" y="657.07" width="8.55" height="8.45" fill="#bfc3e2"/>
<rect x="187.28" y="657.07" width="8.55" height="8.45" fill="#bfc3e2"/>
<rect x="196.83" y="657.07" width="8.55" height="8.45" fill="#7e85c0"/>
<rect x="206.38" y="657.07" width="8.55" height="8.45" fill="#9ca1cf"/>
<rect x="215.94" y="657.07" width="8.55" height="8.45" fill="#bfc3e2"/>
<rect x="225.49" y="657.07" width="8.55" height="8.45" fill="#dcdfef"/>
<rect x="235.04" y="657.07" width="8.55" height="8.45" fill="#dcdfef"/>
<rect x="244.59" y="657.07" width="8.55" height="8.45" fill="#9ca1cf"/>
<rect x="254.14" y="657.07" width="8.55" height="8.45" fill="#9ca1cf"/>
<rect x="263.69" y="657.07" width="8.55" height="8.45" fill="#9ca1cf"/>
<rect x="273.25" y="657.07" width="8.55" height="8.45" fill="#9ca1cf"/>
<rect x="282.8" y="657.07" width="8.55" height="8.45" fill="#dcdfef"/>
<rect x="292.35" y="657.07" width="8.55" height="8.45" fill="#9ca1cf"/>
<rect x="301.9" y="657.07" width="8.55" height="8.45" fill="#9ca1cf"/>
<rect x="311.45" y="657.07" width="8.55" height="8.45" fill="#9ca1cf"/>
<rect x="321" y="657.07" width="8.55" height="8.45" fill="#bfc3e2"/>
<rect x="330.56" y="657.07" width="8.55" height="8.45" fill="#9ca1cf"/>
<rect x="340.11" y="657.07" width="8.55" height="8.45" fill="#fbf8f8"/>
<rect x="349.66" y="657.07" width="8.55" height="8.45" fill="#bfc3e2"/>
<rect x="359.21" y="657.07" width="8.55" height="8.45" fill="#bfc3e2"/>
<rect x="368.76" y="657.07" width="8.55" height="8.45" fill="#7e85c0"/>
<rect x="378.31" y="657.07" width="8.55" height="8.45" fill="#9ca1cf"/>
<rect x="387.87" y="657.07" width="8.55" height="8.45" fill="#9ca1cf"/>
<rect x="397.42" y="657.07" width="8.55" height="8.45" fill="#9ca1cf"/>
<rect x="406.97" y="657.07" width="8.55" height="8.45" fill="#9ca1cf"/>
<rect x="416.52" y="657.07" width="8.55" height="8.45" fill="#7e85c0"/>
<rect x="426.07" y="657.07" width="8.55" height="8.45" fill="#9ca1cf"/>
<rect x="435.62" y="657.07" width="8.55" height="8.45" fill="#9ca1cf"/>
<rect x="445.18" y="657.07" width="8.55" height="8.45" fill="#9ca1cf"/>
<rect x="454.73" y="657.07" width="8.55" height="8.45" fill="#bfc3e2"/>
<rect x="464.28" y="657.07" width="8.55" height="8.45" fill="#9ca1cf"/>
<rect x="473.83" y="657.07" width="8.55" height="8.45" fill="#7e85c0"/>
<rect x="483.38" y="657.07" width="8.55" height="8.45" fill="#9ca1cf"/>
<rect x="492.93" y="657.07" width="8.55" height="8.45" fill="#9ca1cf"/>
<rect x="502.49" y="657.07" width="8.55" height="8.45" fill="#7e85c0"/>
<rect x="512.04" y="657.07" width="8.55" height="8.45" fill="#2f3068"/>
<rect x="521.59" y="657.07" width="8.55" height="8.45" fill="#7e85c0"/>
<rect x="531.14" y="657.07" width="8.55" height="8.45" fill="#7e85c0"/>
<rect x="540.69" y="657.07" width="8.55" height="8.45" fill="#7e85c0"/>
<rect x="550.24" y="657.07" width="8.55" height="8.45" fill="#9ca1cf"/>
<rect x="559.8" y="657.07" width="8.55" height="8.45" fill="#7e85c0"/>
<rect x="569.35" y="657.07" width="8.55" height="8.45" fill="#9ca1cf"/>
<rect x="578.9" y="657.07" width="8.55" height="8.45" fill="#9ca1cf"/>
<rect x="15.35" y="666.52" width="8.55" height="8.45" fill="#fbf8f8"/>
<rect x="24.9" y="666.52" width="8.55" height="8.45" fill="#dcdfef"/>
<rect x="34.45" y="666.52" width="8.55" height="8.45" fill="#f8e1e2"/>
<rect x="44.01" y="666.52" width="8.55" height="8.45" fill="#fbf8f8"/>
<rect x="53.56" y="666.52" width="8.55" height="8.45" fill="#bfc3e2"/>
<rect x="63.11" y="666.52" width="8.55" height="8.45" fill="#dcdfef"/>
<rect x="72.66" y="666.52" width="8.55" height="8.45" fill="#fbf8f8"/>
<rect x="82.21" y="666.52" width="8.55" height="8.45" fill="#bfc3e2"/>
<rect x="91.76" y="666.52" width="8.55" height="8.45" fill="#bfc3e2"/>
<rect x="101.31" y="666.52" width="8.55" height="8.45" fill="#fbf8f8"/>
<rect x="110.87" y="666.52" width="8.55" height="8.45" fill="#dcdfef"/>
<rect x="120.42" y="666.52" width="8.55" height="8.45" fill="#bfc3e2"/>
<rect x="129.97" y="666.52" width="8.55" height="8.45" fill="#7e85c0"/>
<rect x="139.52" y="666.52" width="8.55" height="8.45" fill="#bfc3e2"/>
<rect x="149.07" y="666.52" width="8.55" height="8.45" fill="#dcdfef"/>
<rect x="158.62" y="666.52" width="8.55" height="8.45" fill="#9ca1cf"/>
<rect x="168.18" y="666.52" width="8.55" height="8.45" fill="#bfc3e2"/>
<rect x="177.73" y="666.52" width="8.55" height="8.45" fill="#bfc3e2"/>
<rect x="187.28" y="666.52" width="8.55" height="8.45" fill="#9ca1cf"/>
<rect x="196.83" y="666.52" width="8.55" height="8.45" fill="#9ca1cf"/>
<rect x="206.38" y="666.52" width="8.55" height="8.45" fill="#dcdfef"/>
<rect x="215.94" y="666.52" width="8.55" height="8.45" fill="#fbf8f8"/>
<rect x="225.49" y="666.52" width="8.55" height="8.45" fill="#bfc3e2"/>
<rect x="235.04" y="666.52" width="8.55" height="8.45" fill="#bfc3e2"/>
<rect x="244.59" y="666.52" width="8.55" height="8.45" fill="#bfc3e2"/>
<rect x="254.14" y="666.52" width="8.55" height="8.45" fill="#bfc3e2"/>
<rect x="263.69" y="666.52" width="8.55" height="8.45" fill="#bfc3e2"/>
<rect x="273.25" y="666.52" width="8.55" height="8.45" fill="#bfc3e2"/>
<rect x="282.8" y="666.52" width="8.55" height="8.45" fill="#9ca1cf"/>
<rect x="292.35" y="666.52" width="8.55" height="8.45" fill="#9ca1cf"/>
<rect x="301.9" y="666.52" width="8.55" height="8.45" fill="#9ca1cf"/>
<rect x="311.45" y="666.52" width="8.55" height="8.45" fill="#bfc3e2"/>
<rect x="321" y="666.52" width="8.55" height="8.45" fill="#9ca1cf"/>
<rect x="330.56" y="666.52" width="8.55" height="8.45" fill="#9ca1cf"/>
<rect x="340.11" y="666.52" width="8.55" height="8.45" fill="#bfc3e2"/>
<rect x="349.66" y="666.52" width="8.55" height="8.45" fill="#9ca1cf"/>
<rect x="359.21" y="666.52" width="8.55" height="8.45" fill="#bfc3e2"/>
<rect x="368.76" y="666.52" width="8.55" height="8.45" fill="#9ca1cf"/>
<rect x="378.31" y="666.52" width="8.55" height="8.45" fill="#bfc3e2"/>
<rect x="387.87" y="666.52" width="8.55" height="8.45" fill="#bfc3e2"/>
<rect x="397.42" y="666.52" width="8.55" height="8.45" fill="#bfc3e2"/>
<rect x="406.97" y="666.52" width="8.55" height="8.45" fill="#9ca1cf"/>
<rect x="416.52" y="666.52" width="8.55" height="8.45" fill="#bfc3e2"/>
<rect x="426.07" y="666.52" width="8.55" height="8.45" fill="#dcdfef"/>
<rect x="435.62" y="666.52" width="8.55" height="8.45" fill="#bfc3e2"/>
<rect x="445.18" y="666.52" width="8.55" height="8.45" fill="#bfc3e2"/>
<rect x="454.73" y="666.52" width="8.55" height="8.45" fill="#bfc3e2"/>
<rect x="464.28" y="666.52" width="8.55" height="8.45" fill="#bfc3e2"/>
<rect x="473.83" y="666.52" width="8.55" height="8.45" fill="#7e85c0"/>
<rect x="483.38" y="666.52" width="8.55" height="8.45" fill="#9ca1cf"/>
<rect x="492.93" y="666.52" width="8.55" height="8.45" fill="#9ca1cf"/>
<rect x="502.49" y="666.52" width="8.55" height="8.45" fill="#9ca1cf"/>
<rect x="512.04" y="666.52" width="8.55" height="8.45" fill="#9ca1cf"/>
<rect x="521.59" y="666.52" width="8.55" height="8.45" fill="#9ca1cf"/>
<rect x="531.14" y="666.52" width="8.55" height="8.45" fill="#9ca1cf"/>
<rect x="540.69" y="666.52" width="8.55" height="8.45" fill="#fbf8f8"/>
<rect x="550.24" y="666.52" width="8.55" height="8.45" fill="#dcdfef"/>
<rect x="559.8" y="666.52" width="8.55" height="8.45" fill="#9ca1cf"/>
<rect x="569.35" y="666.52" width="8.55" height="8.45" fill="#9ca1cf"/>
<rect x="578.9" y="666.52" width="8.55" height="8.45" fill="#9ca1cf"/>
<rect x="15.35" y="675.97" width="8.55" height="8.45" fill="#dcdfef"/>
<rect x="24.9" y="675.97" width="8.55" height="8.45" fill="#dcdfef"/>
<rect x="34.45" y="675.97" width="8.55" height="8.45" fill="#fbf8f8"/>
<rect x="44.01" y="675.97" width="8.55" height="8.45" fill="#dcdfef"/>
<rect x="53.56" y="675.97" width="8.55" height="8.45" fill="#dcdfef"/>
<rect x="63.11" y="675.97" width="8.55" height="8.45" fill="#dcdfef"/>
<rect x="72.66" y="675.97" width="8.55" height="8.45" fill="#fbf8f8"/>
<rect x="82.21" y="675.97" width="8.55" height="8.45" fill="#9ca1cf"/>
<rect x="91.76" y="675.97" width="8.55" height="8.45" fill="#dcdfef"/>
<rect x="101.31" y="675.97" width="8.55" height="8.45" fill="#bfc3e2"/>
<rect x="110.87" y="675.97" width="8.55" height="8.45" fill="#bfc3e2"/>
<rect x="120.42" y="675.97" width="8.55" height="8.45" fill="#9ca1cf"/>
<rect x="129.97" y="675.97" width="8.55" height="8.45" fill="#dcdfef"/>
<rect x="139.52" y="675.97" width="8.55" height="8.45" fill="#bfc3e2"/>
<rect x="149.07" y="675.97" width="8.55" height="8.45" fill="#dcdfef"/>
<rect x="158.62" y="675.97" width="8.55" height="8.45" fill="#9ca1cf"/>
<rect x="168.18" y="675.97" width="8.55" height="8.45" fill="#9ca1cf"/>
<rect x="177.73" y="675.97" width="8.55" height="8.45" fill="#9ca1cf"/>
<rect x="187.28" y="675.97" width="8.55" height="8.45" fill="#9ca1cf"/>
<rect x="196.83" y="675.97" width="8.55" height="8.45" fill="#9ca1cf"/>
<rect x="206.38" y="675.97" width="8.55" height="8.45" fill="#7e85c0"/>
<rect x="215.94" y="675.97" width="8.55" height="8.45" fill="#bfc3e2"/>
<rect x="225.49" y="675.97" width="8.55" height="8.45" fill="#bfc3e2"/>
<rect x="235.04" y="675.97" width="8.55" height="8.45" fill="#bfc3e2"/>
<rect x="244.59" y="675.97" width="8.55" height="8.45" fill="#2f3068"/>
<rect x="254.14" y="675.97" width="8.55" height="8.45" fill="#2f3068"/>
<rect x="263.69" y="675.97" width="8.55" height="8.45" fill="#9ca1cf"/>
<rect x="273.25" y="675.97" width="8.55" height="8.45" fill="#7e85c0"/>
<rect x="282.8" y="675.97" width="8.55" height="8.45" fill="#9ca1cf"/>
<rect x="292.35" y="675.97" width="8.55" height="8.45" fill="#9ca1cf"/>
<rect x="301.9" y="675.97" width="8.55" height="8.45" fill="#7e85c0"/>
<rect x="311.45" y="675.97" width="8.55" height="8.45" fill="#9ca1cf"/>
<rect x="321" y="675.97" width="8.55" height="8.45" fill="#9ca1cf"/>
<rect x="330.56" y="675.97" width="8.55" height="8.45" fill="#7e85c0"/>
<rect x="340.11" y="675.97" width="8.55" height="8.45" fill="#9ca1cf"/>
<rect x="349.66" y="675.97" width="8.55" height="8.45" fill="#7e85c0"/>
<rect x="359.21" y="675.97" width="8.55" height="8.45" fill="#9ca1cf"/>
<rect x="368.76" y="675.97" width="8.55" height="8.45" fill="#9ca1cf"/>
<rect x="378.31" y="675.97" width="8.55" height="8.45" fill="#9ca1cf"/>
<rect x="387.87" y="675.97" width="8.55" height="8.45" fill="#bfc3e2"/>
<rect x="397.42" y="675.97" width="8.55" height="8.45" fill="#bfc3e2"/>
<rect x="406.97" y="675.97" width="8.55" height="8.45" fill="#7e85c0"/>
<rect x="416.52" y="675.97" width="8.55" height="8.45" fill="#7e85c0"/>
<rect x="426.07" y="675.97" width="8.55" height="8.45" fill="#9ca1cf"/>
<rect x="435.62" y="675.97" width="8.55" height="8.45" fill="#9ca1cf"/>
<rect x="445.18" y="675.97" width="8.55" height="8.45" fill="#9ca1cf"/>
<rect x="454.73" y="675.97" width="8.55" height="8.45" fill="#9ca1cf"/>
<rect x="464.28" y="675.97" width="8.55" height="8.45" fill="#9ca1cf"/>
<rect x="473.83" y="675.97" width="8.55" height="8.45" fill="#7e85c0"/>
<rect x="483.38" y="675.97" width="8.55" height="8.45" fill="#bfc3e2"/>
<rect x="492.93" y="675.97" width="8.55" height="8.45" fill="#7e85c0"/>
<rect x="502.49" y="675.97" width="8.55" height="8.45" fill="#9ca1cf"/>
<rect x="512.04" y="675.97" width="8.55" height="8.45" fill="#9ca1cf"/>
<rect x="521.59" y="675.97" width="8.55" height="8.45" fill="#2f3068"/>
<rect x="531.14" y="675.97" width="8.55" height="8.45" fill="#2f3068"/>
<rect x="540.69" y="675.97" width="8.55" height="8.45" fill="#2f3068"/>
<rect x="550.24" y="675.97" width="8.55" height="8.45" fill="#bfc3e2"/>
<rect x="559.8" y="675.97" width="8.55" height="8.45" fill="#7e85c0"/>
<rect x="569.35" y="675.97" width="8.55" height="8.45" fill="#7e85c0"/>
<rect x="578.9" y="675.97" width="8.55" height="8.45" fill="#2f3068"/>
<rect x="15.35" y="685.41" width="8.55" height="8.45" fill="#bfc3e2"/>
<rect x="24.9" y="685.41" width="8.55" height="8.45" fill="#dcdfef"/>
<rect x="34.45" y="685.41" width="8.55" height="8.45" fill="#fbf8f8"/>
<rect x="44.01" y="685.41" width="8.55" height="8.45" fill="#9ca1cf"/>
<rect x="53.56" y="685.41" width="8.55" height="8.45" fill="#9ca1cf"/>
<rect x="63.11" y="685.41" width="8.55" height="8.45" fill="#9ca1cf"/>
<rect x="72.66" y="685.41" width="8.55" height="8.45" fill="#9ca1cf"/>
<rect x="82.21" y="685.41" width="8.55" height="8.45" fill="#7e85c0"/>
<rect x="91.76" y="685.41" width="8.55" height="8.45" fill="#9ca1cf"/>
<rect x="101.31" y="685.41" width="8.55" height="8.45" fill="#7e85c0"/>
<rect x="110.87" y="685.41" width="8.55" height="8.45" fill="#7e85c0"/>
<rect x="120.42" y="685.41" width="8.55" height="8.45" fill="#7e85c0"/>
<rect x="129.97" y="685.41" width="8.55" height="8.45" fill="#9ca1cf"/>
<rect x="139.52" y="685.41" width="8.55" height="8.45" fill="#9ca1cf"/>
<rect x="149.07" y="685.41" width="8.55" height="8.45" fill="#bfc3e2"/>
<rect x="158.62" y="685.41" width="8.55" height="8.45" fill="#dcdfef"/>
<rect x="168.18" y="685.41" width="8.55" height="8.45" fill="#9ca1cf"/>
<rect x="177.73" y="685.41" width="8.55" height="8.45" fill="#bfc3e2"/>
<rect x="187.28" y="685.41" width="8.55" height="8.45" fill="#7e85c0"/>
<rect x="196.83" y="685.41" width="8.55" height="8.45" fill="#9ca1cf"/>
<rect x="206.38" y="685.41" width="8.55" height="8.45" fill="#9ca1cf"/>
<rect x="215.94" y="685.41" width="8.55" height="8.45" fill="#9ca1cf"/>
<rect x="225.49" y="685.41" width="8.55" height="8.45" fill="#bfc3e2"/>
<rect x="235.04" y="685.41" width="8.55" height="8.45" fill="#bfc3e2"/>
<rect x="244.59" y="685.41" width="8.55" height="8.45" fill="#9ca1cf"/>
<rect x="254.14" y="685.41" width="8.55" height="8.45" fill="#9ca1cf"/>
<rect x="263.69" y="685.41" width="8.55" height="8.45" fill="#7e85c0"/>
<rect x="273.25" y="685.41" width="8.55" height="8.45" fill="#7e85c0"/>
<rect x="282.8" y="685.41" width="8.55" height="8.45" fill="#9ca1cf"/>
<rect x="292.35" y="685.41" width="8.55" height="8.45" fill="#7e85c0"/>
<rect x="301.9" y="685.41" width="8.55" height="8.45" fill="#9ca1cf"/>
<rect x="311.45" y="685.41" width="8.55" height="8.45" fill="#7e85c0"/>
<rect x="321" y="685.41" width="8.55" height="8.45" fill="#9ca1cf"/>
<rect x="330.56" y="685.41" width="8.55" height="8.45" fill="#7e85c0"/>
<rect x="340.11" y="685.41" width="8.55" height="8.45" fill="#bfc3e2"/>
<rect x="349.66" y="685.41" width="8.55" height="8.45" fill="#9ca1cf"/>
<rect x="359.21" y="685.41" width="8.55" height="8.45" fill="#9ca1cf"/>
<rect x="368.76" y="685.41" width="8.55" height="8.45" fill="#7e85c0"/>
<rect x="378.31" y="685.41" width="8.55" height="8.45" fill="#7e85c0"/>
<rect x="387.87" y="685.41" width="8.55" height="8.45" fill="#9ca1cf"/>
<rect x="397.42" y="685.41" width="8.55" height="8.45" fill="#9ca1cf"/>
<rect x="406.97" y="685.41" width="8.55" height="8.45" fill="#7e85c0"/>
<rect x="416.52" y="685.41" width="8.55" height="8.45" fill="#7e85c0"/>
<rect x="426.07" y="685.41" width="8.55" height="8.45" fill="#9ca1cf"/>
<rect x="435.62" y="685.41" width="8.55" height="8.45" fill="#9ca1cf"/>
<rect x="445.18" y="685.41" width="8.55" height="8.45" fill="#bfc3e2"/>
<rect x="454.73" y="685.41" width="8.55" height="8.45" fill="#7e85c0"/>
<rect x="464.28" y="685.41" width="8.55" height="8.45" fill="#9ca1cf"/>
<rect x="473.83" y="685.41" width="8.55" height="8.45" fill="#2f3068"/>
<rect x="483.38" y="685.41" width="8.55" height="8.45" fill="#2f3068"/>
<rect x="492.93" y="685.41" width="8.55" height="8.45" fill="#2f3068"/>
<rect x="502.49" y="685.41" width="8.55" height="8.45" fill="#7e85c0"/>
<rect x="512.04" y="685.41" width="8.55" height="8.45" fill="#2f3068"/>
<rect x="521.59" y="685.41" width="8.55" height="8.45" fill="#2f3068"/>
<rect x="531.14" y="685.41" width="8.55" height="8.45" fill="#2f3068"/>
<rect x="540.69" y="685.41" width="8.55" height="8.45" fill="#7e85c0"/>
<rect x="550.24" y="685.41" width="8.55" height="8.45" fill="#7e85c0"/>
<rect x="559.8" y="685.41" width="8.55" height="8.45" fill="#7e85c0"/>
<rect x="569.35" y="685.41" width="8.55" height="8.45" fill="#2f3068"/>
<rect x="578.9" y="685.41" width="8.55" height="8.45" fill="#2f3068"/>
<rect x="15.35" y="694.86" width="8.55" height="8.45" fill="#f1c6c8"/>
<rect x="24.9" y="694.86" width="8.55" height="8.45" fill="#eaadb0"/>
<rect x="34.45" y="694.86" width="8.55" height="8.45" fill="#f1c6c8"/>
<rect x="44.01" y="694.86" width="8.55" height="8.45" fill="#eaadb0"/>
<rect x="53.56" y="694.86" width="8.55" height="8.45" fill="#eaadb0"/>
<rect x="63.11" y="694.86" width="8.55" height="8.45" fill="#eaadb0"/>
<rect x="72.66" y="694.86" width="8.55" height="8.45" fill="#f1c6c8"/>
<rect x="82.21" y="694.86" width="8.55" height="8.45" fill="#eaadb0"/>
<rect x="91.76" y="694.86" width="8.55" height="8.45" fill="#eaadb0"/>
<rect x="101.31" y="694.86" width="8.55" height="8.45" fill="#f1c6c8"/>
<rect x="110.87" y="694.86" width="8.55" height="8.45" fill="#f1c6c8"/>
<rect x="120.42" y="694.86" width="8.55" height="8.45" fill="#fbf8f8"/>
<rect x="129.97" y="694.86" width="8.55" height="8.45" fill="#f8e1e2"/>
<rect x="139.52" y="694.86" width="8.55" height="8.45" fill="#f1c6c8"/>
<rect x="149.07" y="694.86" width="8.55" height="8.45" fill="#f8e1e2"/>
<rect x="158.62" y="694.86" width="8.55" height="8.45" fill="#f1c6c8"/>
<rect x="168.18" y="694.86" width="8.55" height="8.45" fill="#eaadb0"/>
<rect x="177.73" y="694.86" width="8.55" height="8.45" fill="#f8e1e2"/>
<rect x="187.28" y="694.86" width="8.55" height="8.45" fill="#f8e1e2"/>
<rect x="196.83" y="694.86" width="8.55" height="8.45" fill="#f8e1e2"/>
<rect x="206.38" y="694.86" width="8.55" height="8.45" fill="#f1c6c8"/>
<rect x="215.94" y="694.86" width="8.55" height="8.45" fill="#fbf8f8"/>
<rect x="225.49" y="694.86" width="8.55" height="8.45" fill="#eaadb0"/>
<rect x="235.04" y="694.86" width="8.55" height="8.45" fill="#eaadb0"/>
<rect x="244.59" y="694.86" width="8.55" height="8.45" fill="#f1c6c8"/>
<rect x="254.14" y="694.86" width="8.55" height="8.45" fill="#f8e1e2"/>
<rect x="263.69" y="694.86" width="8.55" height="8.45" fill="#dcdfef"/>
<rect x="273.25" y="694.86" width="8.55" height="8.45" fill="#fbf8f8"/>
<rect x="282.8" y="694.86" width="8.55" height="8.45" fill="#f8e1e2"/>
<rect x="292.35" y="694.86" width="8.55" height="8.45" fill="#f1c6c8"/>
<rect x="301.9" y="694.86" width="8.55" height="8.45" fill="#f8e1e2"/>
<rect x="311.45" y="694.86" width="8.55" height="8.45" fill="#f8e1e2"/>
<rect x="321" y="694.86" width="8.55" height="8.45" fill="#eaadb0"/>
<rect x="330.56" y="694.86" width="8.55" height="8.45" fill="#f1c6c8"/>
<rect x="340.11" y="694.86" width="8.55" height="8.45" fill="#f8e1e2"/>
<rect x="349.66" y="694.86" width="8.55" height="8.45" fill="#f8e1e2"/>
<rect x="359.21" y="694.86" width="8.55" height="8.45" fill="#f1c6c8"/>
<rect x="368.76" y="694.86" width="8.55" height="8.45" fill="#fbf8f8"/>
<rect x="378.31" y="694.86" width="8.55" height="8.45" fill="#dcdfef"/>
<rect x="387.87" y="694.86" width="8.55" height="8.45" fill="#f8e1e2"/>
<rect x="397.42" y="694.86" width="8.55" height="8.45" fill="#fbf8f8"/>
<rect x="406.97" y="694.86" width="8.55" height="8.45" fill="#dcdfef"/>
<rect x="416.52" y="694.86" width="8.55" height="8.45" fill="#dcdfef"/>
<rect x="426.07" y="694.86" width="8.55" height="8.45" fill="#f8e1e2"/>
<rect x="435.62" y="694.86" width="8.55" height="8.45" fill="#f8e1e2"/>
<rect x="445.18" y="694.86" width="8.55" height="8.45" fill="#f8e1e2"/>
<rect x="454.73" y="694.86" width="8.55" height="8.45" fill="#f1c6c8"/>
<rect x="464.28" y="694.86" width="8.55" height="8.45" fill="#f8e1e2"/>
<rect x="473.83" y="694.86" width="8.55" height="8.45" fill="#fbf8f8"/>
<rect x="483.38" y="694.86" width="8.55" height="8.45" fill="#dcdfef"/>
<rect x="492.93" y="694.86" width="8.55" height="8.45" fill="#fbf8f8"/>
<rect x="502.49" y="694.86" width="8.55" height="8.45" fill="#bfc3e2"/>
<rect x="512.04" y="694.86" width="8.55" height="8.45" fill="#f8e1e2"/>
<rect x="521.59" y="694.86" width="8.55" height="8.45" fill="#dcdfef"/>
<rect x="531.14" y="694.86" width="8.55" height="8.45" fill="#fbf8f8"/>
<rect x="540.69" y="694.86" width="8.55" height="8.45" fill="#dcdfef"/>
<rect x="550.24" y="694.86" width="8.55" height="8.45" fill="#bfc3e2"/>
<rect x="559.8" y="694.86" width="8.55" height="8.45" fill="#f1c6c8"/>
<rect x="569.35" y="694.86" width="8.55" height="8.45" fill="#dcdfef"/>
<rect x="578.9" y="694.86" width="8.55" height="8.45" fill="#dcdfef"/>
<rect x="15.35" y="704.31" width="8.55" height="8.45" fill="#e08d91"/>
<rect x="24.9" y="704.31" width="8.55" height="8.45" fill="#eaadb0"/>
<rect x="34.45" y="704.31" width="8.55" height="8.45" fill="#eaadb0"/>
<rect x="44.01" y="704.31" width="8.55" height="8.45" fill="#eaadb0"/>
<rect x="53.56" y="704.31" width="8.55" height="8.45" fill="#eaadb0"/>
<rect x="63.11" y="704.31" width="8.55" height="8.45" fill="#f1c6c8"/>
<rect x="72.66" y="704.31" width="8.55" height="8.45" fill="#eaadb0"/>
<rect x="82.21" y="704.31" width="8.55" height="8.45" fill="#eaadb0"/>
<rect x="91.76" y="704.31" width="8.55" height="8.45" fill="#eaadb0"/>
<rect x="101.31" y="704.31" width="8.55" height="8.45" fill="#eaadb0"/>
<rect x="110.87" y="704.31" width="8.55" height="8.45" fill="#eaadb0"/>
<rect x="120.42" y="704.31" width="8.55" height="8.45" fill="#f8e1e2"/>
<rect x="129.97" y="704.31" width="8.55" height="8.45" fill="#f8e1e2"/>
<rect x="139.52" y="704.31" width="8.55" height="8.45" fill="#f8e1e2"/>
<rect x="149.07" y="704.31" width="8.55" height="8.45" fill="#dcdfef"/>
<rect x="158.62" y="704.31" width="8.55" height="8.45" fill="#fbf8f8"/>
<rect x="168.18" y="704.31" width="8.55" height="8.45" fill="#f8e1e2"/>
<rect x="177.73" y="704.31" width="8.55" height="8.45" fill="#f8e1e2"/>
<rect x="187.28" y="704.31" width="8.55" height="8.45" fill="#fbf8f8"/>
<rect x="196.83" y="704.31" width="8.55" height="8.45" fill="#f8e1e2"/>
<rect x="206.38" y="704.31" width="8.55" height="8.45" fill="#f8e1e2"/>
<rect x="215.94" y="704.31" width="8.55" height="8.45" fill="#eaadb0"/>
<rect x="225.49" y="704.31" width="8.55" height="8.45" fill="#eaadb0"/>
<rect x="235.04" y="704.31" width="8.55" height="8.45" fill="#eaadb0"/>
<rect x="244.59" y="704.31" width="8.55" height="8.45" fill="#f8e1e2"/>
<rect x="254.14" y="704.31" width="8.55" height="8.45" fill="#dcdfef"/>
<rect x="263.69" y="704.31" width="8.55" height="8.45" fill="#f8e1e2"/>
<rect x="273.25" y="704.31" width="8.55" height="8.45" fill="#dcdfef"/>
<rect x="282.8" y="704.31" width="8.55" height="8.45" fill="#f8e1e2"/>
<rect x="292.35" y="704.31" width="8.55" height="8.45" fill="#fbf8f8"/>
<rect x="301.9" y="704.31" width="8.55" height="8.45" fill="#fbf8f8"/>
<rect x="311.45" y="704.31" width="8.55" height="8.45" fill="#dcdfef"/>
<rect x="321" y="704.31" width="8.55" height="8.45" fill="#f8e1e2"/>
<rect x="330.56" y="704.31" width="8.55" height="8.45" fill="#fbf8f8"/>
<rect x="340.11" y="704.31" width="8.55" height="8.45" fill="#f8e1e2"/>
<rect x="349.66" y="704.31" width="8.55" height="8.45" fill="#dcdfef"/>
<rect x="359.21" y="704.31" width="8.55" height="8.45" fill="#dcdfef"/>
<rect x="368.76" y="704.31" width="8.55" height="8.45" fill="#f8e1e2"/>
<rect x="378.31" y="704.31" width="8.55" height="8.45" fill="#fbf8f8"/>
<rect x="387.87" y="704.31" width="8.55" height="8.45" fill="#fbf8f8"/>
<rect x="397.42" y="704.31" width="8.55" height="8.45" fill="#f8e1e2"/>
<rect x="406.97" y="704.31" width="8.55" height="8.45" fill="#fbf8f8"/>
<rect x="416.52" y="704.31" width="8.55" height="8.45" fill="#f8e1e2"/>
<rect x="426.07" y="704.31" width="8.55" height="8.45" fill="#f8e1e2"/>
<rect x="435.62" y="704.31" width="8.55" height="8.45" fill="#f8e1e2"/>
<rect x="445.18" y="704.31" width="8.55" height="8.45" fill="#f8e1e2"/>
<rect x="454.73" y="704.31" width="8.55" height="8.45" fill="#dcdfef"/>
<rect x="464.28" y="704.31" width="8.55" height="8.45" fill="#fbf8f8"/>
<rect x="473.83" y="704.31" width="8.55" height="8.45" fill="#bfc3e2"/>
<rect x="483.38" y="704.31" width="8.55" height="8.45" fill="#dcdfef"/>
<rect x="492.93" y="704.31" width="8.55" height="8.45" fill="#bfc3e2"/>
<rect x="502.49" y="704.31" width="8.55" height="8.45" fill="#dcdfef"/>
<rect x="512.04" y="704.31" width="8.55" height="8.45" fill="#f8e1e2"/>
<rect x="521.59" y="704.31" width="8.55" height="8.45" fill="#bfc3e2"/>
<rect x="531.14" y="704.31" width="8.55" height="8.45" fill="#dcdfef"/>
<rect x="540.69" y="704.31" width="8.55" height="8.45" fill="#dcdfef"/>
<rect x="550.24" y="704.31" width="8.55" height="8.45" fill="#f8e1e2"/>
<rect x="559.8" y="704.31" width="8.55" height="8.45" fill="#dcdfef"/>
<rect x="569.35" y="704.31" width="8.55" height="8.45" fill="#dcdfef"/>
<rect x="578.9" y="704.31" width="8.55" height="8.45" fill="#fbf8f8"/>
<rect x="15.35" y="713.75" width="8.55" height="8.45" fill="#e08d91"/>
<rect x="24.9" y="713.75" width="8.55" height="8.45" fill="#eaadb0"/>
<rect x="34.45" y="713.75" width="8.55" height="8.45" fill="#eaadb0"/>
<rect x="44.01" y="713.75" width="8.55" height="8.45" fill="#eaadb0"/>
<rect x="53.56" y="713.75" width="8.55" height="8.45" fill="#eaadb0"/>
<rect x="63.11" y="713.75" width="8.55" height="8.45" fill="#f1c6c8"/>
<rect x="72.66" y="713.75" width="8.55" height="8.45" fill="#eaadb0"/>
<rect x="82.21" y="713.75" width="8.55" height="8.45" fill="#f8e1e2"/>
<rect x="91.76" y="713.75" width="8.55" height="8.45" fill="#f1c6c8"/>
<rect x="101.31" y="713.75" width="8.55" height="8.45" fill="#f1c6c8"/>
<rect x="110.87" y="713.75" width="8.55" height="8.45" fill="#f1c6c8"/>
<rect x="120.42" y="713.75" width="8.55" height="8.45" fill="#dcdfef"/>
<rect x="129.97" y="713.75" width="8.55" height="8.45" fill="#dcdfef"/>
<rect x="139.52" y="713.75" width="8.55" height="8.45" fill="#fbf8f8"/>
<rect x="149.07" y="713.75" width="8.55" height="8.45" fill="#dcdfef"/>
<rect x="158.62" y="713.75" width="8.55" height="8.45" fill="#f8e1e2"/>
<rect x="168.18" y="713.75" width="8.55" height="8.45" fill="#f8e1e2"/>
<rect x="177.73" y="713.75" width="8.55" height="8.45" fill="#f8e1e2"/>
<rect x="187.28" y="713.75" width="8.55" height="8.45" fill="#f8e1e2"/>
<rect x="196.83" y="713.75" width="8.55" height="8.45" fill="#dcdfef"/>
<rect x="206.38" y="713.75" width="8.55" height="8.45" fill="#f8e1e2"/>
<rect x="215.94" y="713.75" width="8.55" height="8.45" fill="#dcdfef"/>
<rect x="225.49" y="713.75" width="8.55" height="8.45" fill="#f1c6c8"/>
<rect x="235.04" y="713.75" width="8.55" height="8.45" fill="#f1c6c8"/>
<rect x="244.59" y="713.75" width="8.55" height="8.45" fill="#fbf8f8"/>
<rect x="254.14" y="713.75" width="8.55" height="8.45" fill="#dcdfef"/>
<rect x="263.69" y="713.75" width="8.55" height="8.45" fill="#dcdfef"/>
<rect x="273.25" y="713.75" width="8.55" height="8.45" fill="#bfc3e2"/>
<rect x="282.8" y="713.75" width="8.55" height="8.45" fill="#bfc3e2"/>
<rect x="292.35" y="713.75" width="8.55" height="8.45" fill="#f8e1e2"/>
<rect x="301.9" y="713.75" width="8.55" height="8.45" fill="#fbf8f8"/>
<rect x="311.45" y="713.75" width="8.55" height="8.45" fill="#dcdfef"/>
<rect x="321" y="713.75" width="8.55" height="8.45" fill="#f1c6c8"/>
<rect x="330.56" y="713.75" width="8.55" height="8.45" fill="#fbf8f8"/>
<rect x="340.11" y="713.75" width="8.55" height="8.45" fill="#fbf8f8"/>
<rect x="349.66" y="713.75" width="8.55" height="8.45" fill="#fbf8f8"/>
<rect x="359.21" y="713.75" width="8.55" height="8.45" fill="#dcdfef"/>
<rect x="368.76" y="713.75" width="8.55" height="8.45" fill="#dcdfef"/>
<rect x="378.31" y="713.75" width="8.55" height="8.45" fill="#bfc3e2"/>
<rect x="387.87" y="713.75" width="8.55" height="8.45" fill="#dcdfef"/>
<rect x="397.42" y="713.75" width="8.55" height="8.45" fill="#bfc3e2"/>
<rect x="406.97" y="713.75" width="8.55" height="8.45" fill="#bfc3e2"/>
<rect x="416.52" y="713.75" width="8.55" height="8.45" fill="#9ca1cf"/>
<rect x="426.07" y="713.75" width="8.55" height="8.45" fill="#dcdfef"/>
<rect x="435.62" y="713.75" width="8.55" height="8.45" fill="#f8e1e2"/>
<rect x="445.18" y="713.75" width="8.55" height="8.45" fill="#f8e1e2"/>
<rect x="454.73" y="713.75" width="8.55" height="8.45" fill="#f8e1e2"/>
<rect x="464.28" y="713.75" width="8.55" height="8.45" fill="#f8e1e2"/>
<rect x="473.83" y="713.75" width="8.55" height="8.45" fill="#bfc3e2"/>
<rect x="483.38" y="713.75" width="8.55" height="8.45" fill="#bfc3e2"/>
<rect x="492.93" y="713.75" width="8.55" height="8.45" fill="#bfc3e2"/>
<rect x="502.49" y="713.75" width="8.55" height="8.45" fill="#bfc3e2"/>
<rect x="512.04" y="713.75" width="8.55" height="8.45" fill="#bfc3e2"/>
<rect x="521.59" y="713.75" width="8.55" height="8.45" fill="#7e85c0"/>
<rect x="531.14" y="713.75" width="8.55" height="8.45" fill="#bfc3e2"/>
<rect x="540.69" y="713.75" width="8.55" height="8.45" fill="#bfc3e2"/>
<rect x="550.24" y="713.75" width="8.55" height="8.45" fill="#bfc3e2"/>
<rect x="559.8" y="713.75" width="8.55" height="8.45" fill="#dcdfef"/>
<rect x="569.35" y="713.75" width="8.55" height="8.45" fill="#bfc3e2"/>
<rect x="578.9" y="713.75" width="8.55" height="8.45" fill="#bfc3e2"/>
<rect x="15.35" y="723.2" width="8.55" height="8.45" fill="#fbf8f8"/>
<rect x="24.9" y="723.2" width="8.55" height="8.45" fill="#dcdfef"/>
<rect x="34.45" y="723.2" width="8.55" height="8.45" fill="#fbf8f8"/>
<rect x="44.01" y="723.2" width="8.55" height="8.45" fill="#9ca1cf"/>
<rect x="53.56" y="723.2" width="8.55" height="8.45" fill="#9ca1cf"/>
<rect x="63.11" y="723.2" width="8.55" height="8.45" fill="#7e85c0"/>
<rect x="72.66" y="723.2" width="8.55" height="8.45" fill="#bfc3e2"/>
<rect x="82.21" y="723.2" width="8.55" height="8.45" fill="#9ca1cf"/>
<rect x="91.76" y="723.2" width="8.55" height="8.45" fill="#9ca1cf"/>
<rect x="101.31" y="723.2" width="8.55" height="8.45" fill="#9ca1cf"/>
<rect x="110.87" y="723.2" width="8.55" height="8.45" fill="#9ca1cf"/>
<rect x="120.42" y="723.2" width="8.55" height="8.45" fill="#7e85c0"/>
<rect x="129.97" y="723.2" width="8.55" height="8.45" fill="#9ca1cf"/>
<rect x="139.52" y="723.2" width="8.55" height="8.45" fill="#7e85c0"/>
<rect x="149.07" y="723.2" width="8.55" height="8.45" fill="#bfc3e2"/>
<rect x="158.62" y="723.2" width="8.55" height="8.45" fill="#9ca1cf"/>
<rect x="168.18" y="723.2" width="8.55" height="8.45" fill="#7e85c0"/>
<rect x="177.73" y="723.2" width="8.55" height="8.45" fill="#9ca1cf"/>
<rect x="187.28" y="723.2" width="8.55" height="8.45" fill="#9ca1cf"/>
<rect x="196.83" y="723.2" width="8.55" height="8.45" fill="#9ca1cf"/>
<rect x="206.38" y="723.2" width="8.55" height="8.45" fill="#7e85c0"/>
<rect x="215.94" y="723.2" width="8.55" height="8.45" fill="#9ca1cf"/>
<rect x="225.49" y="723.2" width="8.55" height="8.45" fill="#9ca1cf"/>
<rect x="235.04" y="723.2" width="8.55" height="8.45" fill="#bfc3e2"/>
<rect x="244.59" y="723.2" width="8.55" height="8.45" fill="#2f3068"/>
<rect x="254.14" y="723.2" width="8.55" height="8.45" fill="#9ca1cf"/>
<rect x="263.69" y="723.2" width="8.55" height="8.45" fill="#2f3068"/>
<rect x="273.25" y="723.2" width="8.55" height="8.45" fill="#2f3068"/>
<rect x="282.8" y="723.2" width="8.55" height="8.45" fill="#2f3068"/>
<rect x="292.35" y="723.2" width="8.55" height="8.45" fill="#7e85c0"/>
<rect x="301.9" y="723.2" width="8.55" height="8.45" fill="#7e85c0"/>
<rect x="311.45" y="723.2" width="8.55" height="8.45" fill="#9ca1cf"/>
<rect x="321" y="723.2" width="8.55" height="8.45" fill="#2f3068"/>
<rect x="330.56" y="723.2" width="8.55" height="8.45" fill="#2f3068"/>
<rect x="340.11" y="723.2" width="8.55" height="8.45" fill="#7e85c0"/>
<rect x="349.66" y="723.2" width="8.55" height="8.45" fill="#9ca1cf"/>
<rect x="359.21" y="723.2" width="8.55" height="8.45" fill="#9ca1cf"/>
<rect x="368.76" y="723.2" width="8.55" height="8.45" fill="#2f3068"/>
<rect x="378.31" y="723.2" width="8.55" height="8.45" fill="#2f3068"/>
<rect x="387.87" y="723.2" width="8.55" height="8.45" fill="#2f3068"/>
<rect x="397.42" y="723.2" width="8.55" height="8.45" fill="#2f3068"/>
<rect x="406.97" y="723.2" width="8.55" height="8.45" fill="#7e85c0"/>
<rect x="416.52" y="723.2" width="8.55" height="8.45" fill="#7e85c0"/>
<rect x="426.07" y="723.2" width="8.55" height="8.45" fill="#9ca1cf"/>
<rect x="435.62" y="723.2" width="8.55" height="8.45" fill="#7e85c0"/>
<rect x="445.18" y="723.2" width="8.55" height="8.45" fill="#9ca1cf"/>
<rect x="454.73" y="723.2" width="8.55" height="8.45" fill="#9ca1cf"/>
<rect x="464.28" y="723.2" width="8.55" height="8.45" fill="#9ca1cf"/>
<rect x="473.83" y="723.2" width="8.55" height="8.45" fill="#2f3068"/>
<rect x="483.38" y="723.2" width="8.55" height="8.45" fill="#2f3068"/>
<rect x="492.93" y="723.2" width="8.55" height="8.45" fill="#2f3068"/>
<rect x="502.49" y="723.2" width="8.55" height="8.45" fill="#2f3068"/>
<rect x="512.04" y="723.2" width="8.55" height="8.45" fill="#2f3068"/>
<rect x="521.59" y="723.2" width="8.55" height="8.45" fill="#2f3068"/>
<rect x="531.14" y="723.2" width="8.55" height="8.45" fill="#2f3068"/>
<rect x="540.69" y="723.2" width="8.55" height="8.45" fill="#2f3068"/>
<rect x="550.24" y="723.2" width="8.55" height="8.45" fill="#2f3068"/>
<rect x="559.8" y="723.2" width="8.55" height="8.45" fill="#7e85c0"/>
<rect x="569.35" y="723.2" width="8.55" height="8.45" fill="#2f3068"/>
<rect x="578.9" y="723.2" width="8.55" height="8.45" fill="#2f3068"/>
<rect x="15.35" y="732.65" width="8.55" height="8.45" fill="#fbf8f8"/>
<rect x="24.9" y="732.65" width="8.55" height="8.45" fill="#f8e1e2"/>
<rect x="34.45" y="732.65" width="8.55" height="8.45" fill="#f8e1e2"/>
<rect x="44.01" y="732.65" width="8.55" height="8.45" fill="#f8e1e2"/>
<rect x="53.56" y="732.65" width="8.55" height="8.45" fill="#f8e1e2"/>
<rect x="63.11" y="732.65" width="8.55" height="8.45" fill="#f8e1e2"/>
<rect x="72.66" y="732.65" width="8.55" height="8.45" fill="#eaadb0"/>
<rect x="82.21" y="732.65" width="8.55" height="8.45" fill="#fbf8f8"/>
<rect x="91.76" y="732.65" width="8.55" height="8.45" fill="#f8e1e2"/>
<rect x="101.31" y="732.65" width="8.55" height="8.45" fill="#f8e1e2"/>
<rect x="110.87" y="732.65" width="8.55" height="8.45" fill="#f1c6c8"/>
<rect x="120.42" y="732.65" width="8.55" height="8.45" fill="#fbf8f8"/>
<rect x="129.97" y="732.65" width="8.55" height="8.45" fill="#d6636a"/>
<rect x="139.52" y="732.65" width="8.55" height="8.45" fill="#f8e1e2"/>
<rect x="149.07" y="732.65" width="8.55" height="8.45" fill="#f1c6c8"/>
<rect x="158.62" y="732.65" width="8.55" height="8.45" fill="#bfc3e2"/>
<rect x="168.18" y="732.65" width="8.55" height="8.45" fill="#dcdfef"/>
<rect x="177.73" y="732.65" width="8.55" height="8.45" fill="#dcdfef"/>
<rect x="187.28" y="732.65" width="8.55" height="8.45" fill="#bfc3e2"/>
<rect x="196.83" y="732.65" width="8.55" height="8.45" fill="#9ca1cf"/>
<rect x="206.38" y="732.65" width="8.55" height="8.45" fill="#bfc3e2"/>
<rect x="215.94" y="732.65" width="8.55" height="8.45" fill="#dcdfef"/>
<rect x="225.49" y="732.65" width="8.55" height="8.45" fill="#fbf8f8"/>
<rect x="235.04" y="732.65" width="8.55" height="8.45" fill="#fbf8f8"/>
<rect x="244.59" y="732.65" width="8.55" height="8.45" fill="#dcdfef"/>
<rect x="254.14" y="732.65" width="8.55" height="8.45" fill="#bfc3e2"/>
<rect x="263.69" y="732.65" width="8.55" height="8.45" fill="#fbf8f8"/>
<rect x="273.25" y="732.65" width="8.55" height="8.45" fill="#9ca1cf"/>
<rect x="282.8" y="732.65" width="8.55" height="8.45" fill="#dcdfef"/>
<rect x="292.35" y="732.65" width="8.55" height="8.45" fill="#bfc3e2"/>
<rect x="301.9" y="732.65" width="8.55" height="8.45" fill="#bfc3e2"/>
<rect x="311.45" y="732.65" width="8.55" height="8.45" fill="#bfc3e2"/>
<rect x="321" y="732.65" width="8.55" height="8.45" fill="#bfc3e2"/>
<rect x="330.56" y="732.65" width="8.55" height="8.45" fill="#dcdfef"/>
<rect x="340.11" y="732.65" width="8.55" height="8.45" fill="#eaadb0"/>
<rect x="349.66" y="732.65" width="8.55" height="8.45" fill="#bfc3e2"/>
<rect x="359.21" y="732.65" width="8.55" height="8.45" fill="#dcdfef"/>
<rect x="368.76" y="732.65" width="8.55" height="8.45" fill="#7e85c0"/>
<rect x="378.31" y="732.65" width="8.55" height="8.45" fill="#9ca1cf"/>
<rect x="387.87" y="732.65" width="8.55" height="8.45" fill="#dcdfef"/>
<rect x="397.42" y="732.65" width="8.55" height="8.45" fill="#9ca1cf"/>
<rect x="406.97" y="732.65" width="8.55" height="8.45" fill="#dcdfef"/>
<rect x="416.52" y="732.65" width="8.55" height="8.45" fill="#dcdfef"/>
<rect x="426.07" y="732.65" width="8.55" height="8.45" fill="#bfc3e2"/>
<rect x="435.62" y="732.65" width="8.55" height="8.45" fill="#bfc3e2"/>
<rect x="445.18" y="732.65" width="8.55" height="8.45" fill="#bfc3e2"/>
<rect x="454.73" y="732.65" width="8.55" height="8.45" fill="#7e85c0"/>
<rect x="464.28" y="732.65" width="8.55" height="8.45" fill="#dcdfef"/>
<rect x="473.83" y="732.65" width="8.55" height="8.45" fill="#f8e1e2"/>
<rect x="483.38" y="732.65" width="8.55" height="8.45" fill="#f1c6c8"/>
<rect x="492.93" y="732.65" width="8.55" height="8.45" fill="#9ca1cf"/>
<rect x="502.49" y="732.65" width="8.55" height="8.45" fill="#bfc3e2"/>
<rect x="512.04" y="732.65" width="8.55" height="8.45" fill="#dcdfef"/>
<rect x="521.59" y="732.65" width="8.55" height="8.45" fill="#bfc3e2"/>
<rect x="531.14" y="732.65" width="8.55" height="8.45" fill="#dcdfef"/>
<rect x="540.69" y="732.65" width="8.55" height="8.45" fill="#bfc3e2"/>
<rect x="550.24" y="732.65" width="8.55" height="8.45" fill="#fbf8f8"/>
<rect x="559.8" y="732.65" width="8.55" height="8.45" fill="#9ca1cf"/>
<rect x="569.35" y="732.65" width="8.55" height="8.45" fill="#bfc3e2"/>
<rect x="578.9" y="732.65" width="8.55" height="8.45" fill="#dcdfef"/>
<rect x="15.35" y="742.09" width="8.55" height="8.45" fill="#dcdfef"/>
<rect x="24.9" y="742.09" width="8.55" height="8.45" fill="#fbf8f8"/>
<rect x="34.45" y="742.09" width="8.55" height="8.45" fill="#dcdfef"/>
<rect x="44.01" y="742.09" width="8.55" height="8.45" fill="#9ca1cf"/>
<rect x="53.56" y="742.09" width="8.55" height="8.45" fill="#9ca1cf"/>
<rect x="63.11" y="742.09" width="8.55" height="8.45" fill="#9ca1cf"/>
<rect x="72.66" y="742.09" width="8.55" height="8.45" fill="#9ca1cf"/>
<rect x="82.21" y="742.09" width="8.55" height="8.45" fill="#7e85c0"/>
<rect x="91.76" y="742.09" width="8.55" height="8.45" fill="#9ca1cf"/>
<rect x="101.31" y="742.09" width="8.55" height="8.45" fill="#9ca1cf"/>
<rect x="110.87" y="742.09" width="8.55" height="8.45" fill="#9ca1cf"/>
<rect x="120.42" y="742.09" width="8.55" height="8.45" fill="#7e85c0"/>
<rect x="129.97" y="742.09" width="8.55" height="8.45" fill="#9ca1cf"/>
<rect x="139.52" y="742.09" width="8.55" height="8.45" fill="#bfc3e2"/>
<rect x="149.07" y="742.09" width="8.55" height="8.45" fill="#9ca1cf"/>
<rect x="158.62" y="742.09" width="8.55" height="8.45" fill="#7e85c0"/>
<rect x="168.18" y="742.09" width="8.55" height="8.45" fill="#7e85c0"/>
<rect x="177.73" y="742.09" width="8.55" height="8.45" fill="#9ca1cf"/>
<rect x="187.28" y="742.09" width="8.55" height="8.45" fill="#7e85c0"/>
<rect x="196.83" y="742.09" width="8.55" height="8.45" fill="#9ca1cf"/>
<rect x="206.38" y="742.09" width="8.55" height="8.45" fill="#9ca1cf"/>
<rect x="215.94" y="742.09" width="8.55" height="8.45" fill="#9ca1cf"/>
<rect x="225.49" y="742.09" width="8.55" height="8.45" fill="#bfc3e2"/>
<rect x="235.04" y="742.09" width="8.55" height="8.45" fill="#bfc3e2"/>
<rect x="244.59" y="742.09" width="8.55" height="8.45" fill="#2f3068"/>
<rect x="254.14" y="742.09" width="8.55" height="8.45" fill="#9ca1cf"/>
<rect x="263.69" y="742.09" width="8.55" height="8.45" fill="#2f3068"/>
<rect x="273.25" y="742.09" width="8.55" height="8.45" fill="#2f3068"/>
<rect x="282.8" y="742.09" width="8.55" height="8.45" fill="#2f3068"/>
<rect x="292.35" y="742.09" width="8.55" height="8.45" fill="#2f3068"/>
<rect x="301.9" y="742.09" width="8.55" height="8.45" fill="#7e85c0"/>
<rect x="311.45" y="742.09" width="8.55" height="8.45" fill="#2f3068"/>
<rect x="321" y="742.09" width="8.55" height="8.45" fill="#2f3068"/>
<rect x="330.56" y="742.09" width="8.55" height="8.45" fill="#2f3068"/>
<rect x="340.11" y="742.09" width="8.55" height="8.45" fill="#2f3068"/>
<rect x="349.66" y="742.09" width="8.55" height="8.45" fill="#7e85c0"/>
<rect x="359.21" y="742.09" width="8.55" height="8.45" fill="#7e85c0"/>
<rect x="368.76" y="742.09" width="8.55" height="8.45" fill="#9ca1cf"/>
<rect x="378.31" y="742.09" width="8.55" height="8.45" fill="#9ca1cf"/>
<rect x="387.87" y="742.09" width="8.55" height="8.45" fill="#9ca1cf"/>
<rect x="397.42" y="742.09" width="8.55" height="8.45" fill="#7e85c0"/>
<rect x="406.97" y="742.09" width="8.55" height="8.45" fill="#7e85c0"/>
<rect x="416.52" y="742.09" width="8.55" height="8.45" fill="#2f3068"/>
<rect x="426.07" y="742.09" width="8.55" height="8.45" fill="#7e85c0"/>
<rect x="435.62" y="742.09" width="8.55" height="8.45" fill="#9ca1cf"/>
<rect x="445.18" y="742.09" width="8.55" height="8.45" fill="#9ca1cf"/>
<rect x="454.73" y="742.09" width="8.55" height="8.45" fill="#7e85c0"/>
<rect x="464.28" y="742.09" width="8.55" height="8.45" fill="#9ca1cf"/>
<rect x="473.83" y="742.09" width="8.55" height="8.45" fill="#7e85c0"/>
<rect x="483.38" y="742.09" width="8.55" height="8.45" fill="#7e85c0"/>
<rect x="492.93" y="742.09" width="8.55" height="8.45" fill="#7e85c0"/>
<rect x="502.49" y="742.09" width="8.55" height="8.45" fill="#2f3068"/>
<rect x="512.04" y="742.09" width="8.55" height="8.45" fill="#7e85c0"/>
<rect x="521.59" y="742.09" width="8.55" height="8.45" fill="#2f3068"/>
<rect x="531.14" y="742.09" width="8.55" height="8.45" fill="#7e85c0"/>
<rect x="540.69" y="742.09" width="8.55" height="8.45" fill="#2f3068"/>
<rect x="550.24" y="742.09" width="8.55" height="8.45" fill="#7e85c0"/>
<rect x="559.8" y="742.09" width="8.55" height="8.45" fill="#9ca1cf"/>
<rect x="569.35" y="742.09" width="8.55" height="8.45" fill="#2f3068"/>
<rect x="578.9" y="742.09" width="8.55" height="8.45" fill="#2f3068"/>
<rect x="15.35" y="751.54" width="8.55" height="8.45" fill="#9ca1cf"/>
<rect x="24.9" y="751.54" width="8.55" height="8.45" fill="#6068ae"/>
<rect x="34.45" y="751.54" width="8.55" height="8.45" fill="#9ca1cf"/>
<rect x="44.01" y="751.54" width="8.55" height="8.45" fill="#6068ae"/>
<rect x="53.56" y="751.54" width="8.55" height="8.45" fill="#7e85c0"/>
<rect x="63.11" y="751.54" width="8.55" height="8.45" fill="#7e85c0"/>
<rect x="72.66" y="751.54" width="8.55" height="8.45" fill="#6068ae"/>
<rect x="82.21" y="751.54" width="8.55" height="8.45" fill="#7e85c0"/>
<rect x="91.76" y="751.54" width="8.55" height="8.45" fill="#7e85c0"/>
<rect x="101.31" y="751.54" width="8.55" height="8.45" fill="#7e85c0"/>
<rect x="110.87" y="751.54" width="8.55" height="8.45" fill="#6068ae"/>
<rect x="120.42" y="751.54" width="8.55" height="8.45" fill="#f8e1e2"/>
<rect x="129.97" y="751.54" width="8.55" height="8.45" fill="#fbf8f8"/>
<rect x="139.52" y="751.54" width="8.55" height="8.45" fill="#2f3068"/>
<rect x="149.07" y="751.54" width="8.55" height="8.45" fill="#2f3068"/>
<rect x="158.62" y="751.54" width="8.55" height="8.45" fill="#7e85c0"/>
<rect x="168.18" y="751.54" width="8.55" height="8.45" fill="#7e85c0"/>
<rect x="177.73" y="751.54" width="8.55" height="8.45" fill="#9ca1cf"/>
<rect x="187.28" y="751.54" width="8.55" height="8.45" fill="#9ca1cf"/>
<rect x="196.83" y="751.54" width="8.55" height="8.45" fill="#7e85c0"/>
<rect x="206.38" y="751.54" width="8.55" height="8.45" fill="#7e85c0"/>
<rect x="215.94" y="751.54" width="8.55" height="8.45" fill="#7e85c0"/>
<rect x="225.49" y="751.54" width="8.55" height="8.45" fill="#6068ae"/>
<rect x="235.04" y="751.54" width="8.55" height="8.45" fill="#6068ae"/>
<rect x="244.59" y="751.54" width="8.55" height="8.45" fill="#2f3068"/>
<rect x="254.14" y="751.54" width="8.55" height="8.45" fill="#2f3068"/>
<rect x="263.69" y="751.54" width="8.55" height="8.45" fill="#2f3068"/>
<rect x="273.25" y="751.54" width="8.55" height="8.45" fill="#2f3068"/>
<rect x="282.8" y="751.54" width="8.55" height="8.45" fill="#2f3068"/>
<rect x="292.35" y="751.54" width="8.55" height="8.45" fill="#2f3068"/>
<rect x="301.9" y="751.54" width="8.55" height="8.45" fill="#2f3068"/>
<rect x="311.45" y="751.54" width="8.55" height="8.45" fill="#2f3068"/>
<rect x="321" y="751.54" width="8.55" height="8.45" fill="#7e85c0"/>
<rect x="330.56" y="751.54" width="8.55" height="8.45" fill="#2f3068"/>
<rect x="340.11" y="751.54" width="8.55" height="8.45" fill="#2f3068"/>
<rect x="349.66" y="751.54" width="8.55" height="8.45" fill="#7e85c0"/>
<rect x="359.21" y="751.54" width="8.55" height="8.45" fill="#2f3068"/>
<rect x="368.76" y="751.54" width="8.55" height="8.45" fill="#2f3068"/>
<rect x="378.31" y="751.54" width="8.55" height="8.45" fill="#2f3068"/>
<rect x="387.87" y="751.54" width="8.55" height="8.45" fill="#7e85c0"/>
<rect x="397.42" y="751.54" width="8.55" height="8.45" fill="#7e85c0"/>
<rect x="406.97" y="751.54" width="8.55" height="8.45" fill="#2f3068"/>
<rect x="416.52" y="751.54" width="8.55" height="8.45" fill="#2f3068"/>
<rect x="426.07" y="751.54" width="8.55" height="8.45" fill="#2f3068"/>
<rect x="435.62" y="751.54" width="8.55" height="8.45" fill="#2f3068"/>
<rect x="445.18" y="751.54" width="8.55" height="8.45" fill="#2f3068"/>
<rect x="454.73" y="751.54" width="8.55" height="8.45" fill="#2f3068"/>
<rect x="464.28" y="751.54" width="8.55" height="8.45" fill="#2f3068"/>
<rect x="473.83" y="751.54" width="8.55" height="8.45" fill="#2f3068"/>
<rect x="483.38" y="751.54" width="8.55" height="8.45" fill="#2f3068"/>
<rect x="492.93" y="751.54" width="8.55" height="8.45" fill="#2f3068"/>
<rect x="502.49" y="751.54" width="8.55" height="8.45" fill="#7e85c0"/>
<rect x="512.04" y="751.54" width="8.55" height="8.45" fill="#7e85c0"/>
<rect x="521.59" y="751.54" width="8.55" height="8.45" fill="#7e85c0"/>
<rect x="531.14" y="751.54" width="8.55" height="8.45" fill="#7e85c0"/>
<rect x="540.69" y="751.54" width="8.55" height="8.45" fill="#2f3068"/>
<rect x="550.24" y="751.54" width="8.55" height="8.45" fill="#2f3068"/>
<rect x="559.8" y="751.54" width="8.55" height="8.45" fill="#2f3068"/>
<rect x="569.35" y="751.54" width="8.55" height="8.45" fill="#2f3068"/>
<rect x="578.9" y="751.54" width="8.55" height="8.45" fill="#2f3068"/>
<rect x="15.35" y="760.99" width="8.55" height="8.45" fill="#bfc3e2"/>
<rect x="24.9" y="760.99" width="8.55" height="8.45" fill="#7e85c0"/>
<rect x="34.45" y="760.99" width="8.55" height="8.45" fill="#7e85c0"/>
<rect x="44.01" y="760.99" width="8.55" height="8.45" fill="#7e85c0"/>
<rect x="53.56" y="760.99" width="8.55" height="8.45" fill="#bfc3e2"/>
<rect x="63.11" y="760.99" width="8.55" height="8.45" fill="#dcdfef"/>
<rect x="72.66" y="760.99" width="8.55" height="8.45" fill="#bfc3e2"/>
<rect x="82.21" y="760.99" width="8.55" height="8.45" fill="#9ca1cf"/>
<rect x="91.76" y="760.99" width="8.55" height="8.45" fill="#9ca1cf"/>
<rect x="101.31" y="760.99" width="8.55" height="8.45" fill="#9ca1cf"/>
<rect x="110.87" y="760.99" width="8.55" height="8.45" fill="#9ca1cf"/>
<rect x="120.42" y="760.99" width="8.55" height="8.45" fill="#2f3068"/>
<rect x="129.97" y="760.99" width="8.55" height="8.45" fill="#2f3068"/>
<rect x="139.52" y="760.99" width="8.55" height="8.45" fill="#7e85c0"/>
<rect x="149.07" y="760.99" width="8.55" height="8.45" fill="#7e85c0"/>
<rect x="158.62" y="760.99" width="8.55" height="8.45" fill="#2f3068"/>
<rect x="168.18" y="760.99" width="8.55" height="8.45" fill="#2f3068"/>
<rect x="177.73" y="760.99" width="8.55" height="8.45" fill="#2f3068"/>
<rect x="187.28" y="760.99" width="8.55" height="8.45" fill="#7e85c0"/>
<rect x="196.83" y="760.99" width="8.55" height="8.45" fill="#2f3068"/>
<rect x="206.38" y="760.99" width="8.55" height="8.45" fill="#7e85c0"/>
<rect x="215.94" y="760.99" width="8.55" height="8.45" fill="#2f3068"/>
<rect x="225.49" y="760.99" width="8.55" height="8.45" fill="#2f3068"/>
<rect x="235.04" y="760.99" width="8.55" height="8.45" fill="#6068ae"/>
<rect x="244.59" y="760.99" width="8.55" height="8.45" fill="#9ca1cf"/>
<rect x="254.14" y="760.99" width="8.55" height="8.45" fill="#7e85c0"/>
<rect x="263.69" y="760.99" width="8.55" height="8.45" fill="#2f3068"/>
<rect x="273.25" y="760.99" width="8.55" height="8.45" fill="#7e85c0"/>
<rect x="282.8" y="760.99" width="8.55" height="8.45" fill="#7e85c0"/>
<rect x="292.35" y="760.99" width="8.55" height="8.45" fill="#2f3068"/>
<rect x="301.9" y="760.99" width="8.55" height="8.45" fill="#7e85c0"/>
<rect x="311.45" y="760.99" width="8.55" height="8.45" fill="#9ca1cf"/>
<rect x="321" y="760.99" width="8.55" height="8.45" fill="#9ca1cf"/>
<rect x="330.56" y="760.99" width="8.55" height="8.45" fill="#7e85c0"/>
<rect x="340.11" y="760.99" width="8.55" height="8.45" fill="#7e85c0"/>
<rect x="349.66" y="760.99" width="8.55" height="8.45" fill="#2f3068"/>
<rect x="359.21" y="760.99" width="8.55" height="8.45" fill="#2f3068"/>
<rect x="368.76" y="760.99" width="8.55" height="8.45" fill="#2f3068"/>
<rect x="378.31" y="760.99" width="8.55" height="8.45" fill="#2f3068"/>
<rect x="387.87" y="760.99" width="8.55" height="8.45" fill="#2f3068"/>
<rect x="397.42" y="760.99" width="8.55" height="8.45" fill="#7e85c0"/>
<rect x="406.97" y="760.99" width="8.55" height="8.45" fill="#2f3068"/>
<rect x="416.52" y="760.99" width="8.55" height="8.45" fill="#2f3068"/>
<rect x="426.07" y="760.99" width="8.55" height="8.45" fill="#2f3068"/>
<rect x="435.62" y="760.99" width="8.55" height="8.45" fill="#2f3068"/>
<rect x="445.18" y="760.99" width="8.55" height="8.45" fill="#2f3068"/>
<rect x="454.73" y="760.99" width="8.55" height="8.45" fill="#2f3068"/>
<rect x="464.28" y="760.99" width="8.55" height="8.45" fill="#2f3068"/>
<rect x="473.83" y="760.99" width="8.55" height="8.45" fill="#2f3068"/>
<rect x="483.38" y="760.99" width="8.55" height="8.45" fill="#2f3068"/>
<rect x="492.93" y="760.99" width="8.55" height="8.45" fill="#7e85c0"/>
<rect x="502.49" y="760.99" width="8.55" height="8.45" fill="#7e85c0"/>
<rect x="512.04" y="760.99" width="8.55" height="8.45" fill="#2f3068"/>
<rect x="521.59" y="760.99" width="8.55" height="8.45" fill="#2f3068"/>
<rect x="531.14" y="760.99" width="8.55" height="8.45" fill="#7e85c0"/>
<rect x="540.69" y="760.99" width="8.55" height="8.45" fill="#7e85c0"/>
<rect x="550.24" y="760.99" width="8.55" height="8.45" fill="#7e85c0"/>
<rect x="559.8" y="760.99" width="8.55" height="8.45" fill="#2f3068"/>
<rect x="569.35" y="760.99" width="8.55" height="8.45" fill="#2f3068"/>
<rect x="578.9" y="760.99" width="8.55" height="8.45" fill="#7e85c0"/>
<rect x="15.35" y="770.43" width="8.55" height="8.45" fill="#bfc3e2"/>
<rect x="24.9" y="770.43" width="8.55" height="8.45" fill="#fbf8f8"/>
<rect x="34.45" y="770.43" width="8.55" height="8.45" fill="#bfc3e2"/>
<rect x="44.01" y="770.43" width="8.55" height="8.45" fill="#7e85c0"/>
<rect x="53.56" y="770.43" width="8.55" height="8.45" fill="#7e85c0"/>
<rect x="63.11" y="770.43" width="8.55" height="8.45" fill="#7e85c0"/>
<rect x="72.66" y="770.43" width="8.55" height="8.45" fill="#7e85c0"/>
<rect x="82.21" y="770.43" width="8.55" height="8.45" fill="#7e85c0"/>
<rect x="91.76" y="770.43" width="8.55" height="8.45" fill="#6068ae"/>
<rect x="101.31" y="770.43" width="8.55" height="8.45" fill="#7e85c0"/>
<rect x="110.87" y="770.43" width="8.55" height="8.45" fill="#7e85c0"/>
<rect x="120.42" y="770.43" width="8.55" height="8.45" fill="#7e85c0"/>
<rect x="129.97" y="770.43" width="8.55" height="8.45" fill="#2f3068"/>
<rect x="139.52" y="770.43" width="8.55" height="8.45" fill="#2f3068"/>
<rect x="149.07" y="770.43" width="8.55" height="8.45" fill="#2f3068"/>
<rect x="158.62" y="770.43" width="8.55" height="8.45" fill="#2f3068"/>
<rect x="168.18" y="770.43" width="8.55" height="8.45" fill="#2f3068"/>
<rect x="177.73" y="770.43" width="8.55" height="8.45" fill="#2f3068"/>
<rect x="187.28" y="770.43" width="8.55" height="8.45" fill="#2f3068"/>
<rect x="196.83" y="770.43" width="8.55" height="8.45" fill="#2f3068"/>
<rect x="206.38" y="770.43" width="8.55" height="8.45" fill="#7e85c0"/>
<rect x="215.94" y="770.43" width="8.55" height="8.45" fill="#7e85c0"/>
<rect x="225.49" y="770.43" width="8.55" height="8.45" fill="#7e85c0"/>
<rect x="235.04" y="770.43" width="8.55" height="8.45" fill="#9ca1cf"/>
<rect x="244.59" y="770.43" width="8.55" height="8.45" fill="#2f3068"/>
<rect x="254.14" y="770.43" width="8.55" height="8.45" fill="#2f3068"/>
<rect x="263.69" y="770.43" width="8.55" height="8.45" fill="#2f3068"/>
<rect x="273.25" y="770.43" width="8.55" height="8.45" fill="#2f3068"/>
<rect x="282.8" y="770.43" width="8.55" height="8.45" fill="#2f3068"/>
<rect x="292.35" y="770.43" width="8.55" height="8.45" fill="#2f3068"/>
<rect x="301.9" y="770.43" width="8.55" height="8.45" fill="#2f3068"/>
<rect x="311.45" y="770.43" width="8.55" height="8.45" fill="#2f3068"/>
<rect x="321" y="770.43" width="8.55" height="8.45" fill="#2f3068"/>
<rect x="330.56" y="770.43" width="8.55" height="8.45" fill="#2f3068"/>
<rect x="340.11" y="770.43" width="8.55" height="8.45" fill="#2f3068"/>
<rect x="349.66" y="770.43" width="8.55" height="8.45" fill="#2f3068"/>
<rect x="359.21" y="770.43" width="8.55" height="8.45" fill="#2f3068"/>
<rect x="368.76" y="770.43" width="8.55" height="8.45" fill="#2f3068"/>
<rect x="378.31" y="770.43" width="8.55" height="8.45" fill="#2f3068"/>
<rect x="387.87" y="770.43" width="8.55" height="8.45" fill="#7e85c0"/>
<rect x="397.42" y="770.43" width="8.55" height="8.45" fill="#2f3068"/>
<rect x="406.97" y="770.43" width="8.55" height="8.45" fill="#2f3068"/>
<rect x="416.52" y="770.43" width="8.55" height="8.45" fill="#2f3068"/>
<rect x="426.07" y="770.43" width="8.55" height="8.45" fill="#7e85c0"/>
<rect x="435.62" y="770.43" width="8.55" height="8.45" fill="#7e85c0"/>
<rect x="445.18" y="770.43" width="8.55" height="8.45" fill="#7e85c0"/>
<rect x="454.73" y="770.43" width="8.55" height="8.45" fill="#2f3068"/>
<rect x="464.28" y="770.43" width="8.55" height="8.45" fill="#2f3068"/>
<rect x="473.83" y="770.43" width="8.55" height="8.45" fill="#2f3068"/>
<rect x="483.38" y="770.43" width="8.55" height="8.45" fill="#2f3068"/>
<rect x="492.93" y="770.43" width="8.55" height="8.45" fill="#2f3068"/>
<rect x="502.49" y="770.43" width="8.55" height="8.45" fill="#2f3068"/>
<rect x="512.04" y="770.43" width="8.55" height="8.45" fill="#2f3068"/>
<rect x="521.59" y="770.43" width="8.55" height="8.45" fill="#2f3068"/>
<rect x="531.14" y="770.43" width="8.55" height="8.45" fill="#2f3068"/>
<rect x="540.69" y="770.43" width="8.55" height="8.45" fill="#2f3068"/>
<rect x="550.24" y="770.43" width="8.55" height="8.45" fill="#2f3068"/>
<rect x="559.8" y="770.43" width="8.55" height="8.45" fill="#2f3068"/>
<rect x="569.35" y="770.43" width="8.55" height="8.45" fill="#7e85c0"/>
<rect x="578.9" y="770.43" width="8.55" height="8.45" fill="#2f3068"/>
<rect x="15.35" y="779.88" width="8.55" height="8.45" fill="#fbf8f8"/>
<rect x="24.9" y="779.88" width="8.55" height="8.45" fill="#fbf8f8"/>
<rect x="34.45" y="779.88" width="8.55" height="8.45" fill="#f8e1e2"/>
<rect x="44.01" y="779.88" width="8.55" height="8.45" fill="#fbf8f8"/>
<rect x="53.56" y="779.88" width="8.55" height="8.45" fill="#f8e1e2"/>
<rect x="63.11" y="779.88" width="8.55" height="8.45" fill="#f8e1e2"/>
<rect x="72.66" y="779.88" width="8.55" height="8.45" fill="#f8e1e2"/>
<rect x="82.21" y="779.88" width="8.55" height="8.45" fill="#fbf8f8"/>
<rect x="91.76" y="779.88" width="8.55" height="8.45" fill="#f8e1e2"/>
<rect x="101.31" y="779.88" width="8.55" height="8.45" fill="#f8e1e2"/>
<rect x="110.87" y="779.88" width="8.55" height="8.45" fill="#f8e1e2"/>
<rect x="120.42" y="779.88" width="8.55" height="8.45" fill="#dcdfef"/>
<rect x="129.97" y="779.88" width="8.55" height="8.45" fill="#dcdfef"/>
<rect x="139.52" y="779.88" width="8.55" height="8.45" fill="#dcdfef"/>
<rect x="149.07" y="779.88" width="8.55" height="8.45" fill="#f8e1e2"/>
<rect x="158.62" y="779.88" width="8.55" height="8.45" fill="#dcdfef"/>
<rect x="168.18" y="779.88" width="8.55" height="8.45" fill="#dcdfef"/>
<rect x="177.73" y="779.88" width="8.55" height="8.45" fill="#dcdfef"/>
<rect x="187.28" y="779.88" width="8.55" height="8.45" fill="#dcdfef"/>
<rect x="196.83" y="779.88" width="8.55" height="8.45" fill="#dcdfef"/>
<rect x="206.38" y="779.88" width="8.55" height="8.45" fill="#bfc3e2"/>
<rect x="215.94" y="779.88" width="8.55" height="8.45" fill="#dcdfef"/>
<rect x="225.49" y="779.88" width="8.55" height="8.45" fill="#fbf8f8"/>
<rect x="235.04" y="779.88" width="8.55" height="8.45" fill="#fbf8f8"/>
<rect x="244.59" y="779.88" width="8.55" height="8.45" fill="#dcdfef"/>
<rect x="254.14" y="779.88" width="8.55" height="8.45" fill="#dcdfef"/>
<rect x="263.69" y="779.88" width="8.55" height="8.45" fill="#dcdfef"/>
<rect x="273.25" y="779.88" width="8.55" height="8.45" fill="#dcdfef"/>
<rect x="282.8" y="779.88" width="8.55" height="8.45" fill="#fbf8f8"/>
<rect x="292.35" y="779.88" width="8.55" height="8.45" fill="#dcdfef"/>
<rect x="301.9" y="779.88" width="8.55" height="8.45" fill="#dcdfef"/>
<rect x="311.45" y="779.88" width="8.55" height="8.45" fill="#fbf8f8"/>
<rect x="321" y="779.88" width="8.55" height="8.45" fill="#bfc3e2"/>
<rect x="330.56" y="779.88" width="8.55" height="8.45" fill="#dcdfef"/>
<rect x="340.11" y="779.88" width="8.55" height="8.45" fill="#fbf8f8"/>
<rect x="349.66" y="779.88" width="8.55" height="8.45" fill="#dcdfef"/>
<rect x="359.21" y="779.88" width="8.55" height="8.45" fill="#dcdfef"/>
<rect x="368.76" y="779.88" width="8.55" height="8.45" fill="#dcdfef"/>
<rect x="378.31" y="779.88" width="8.55" height="8.45" fill="#dcdfef"/>
<rect x="387.87" y="779.88" width="8.55" height="8.45" fill="#fbf8f8"/>
<rect x="397.42" y="779.88" width="8.55" height="8.45" fill="#bfc3e2"/>
<rect x="406.97" y="779.88" width="8.55" height="8.45" fill="#dcdfef"/>
<rect x="416.52" y="779.88" width="8.55" height="8.45" fill="#dcdfef"/>
<rect x="426.07" y="779.88" width="8.55" height="8.45" fill="#dcdfef"/>
<rect x="435.62" y="779.88" width="8.55" height="8.45" fill="#bfc3e2"/>
<rect x="445.18" y="779.88" width="8.55" height="8.45" fill="#dcdfef"/>
<rect x="454.73" y="779.88" width="8.55" height="8.45" fill="#dcdfef"/>
<rect x="464.28" y="779.88" width="8.55" height="8.45" fill="#fbf8f8"/>
<rect x="473.83" y="779.88" width="8.55" height="8.45" fill="#bfc3e2"/>
<rect x="483.38" y="779.88" width="8.55" height="8.45" fill="#bfc3e2"/>
<rect x="492.93" y="779.88" width="8.55" height="8.45" fill="#bfc3e2"/>
<rect x="502.49" y="779.88" width="8.55" height="8.45" fill="#dcdfef"/>
<rect x="512.04" y="779.88" width="8.55" height="8.45" fill="#dcdfef"/>
<rect x="521.59" y="779.88" width="8.55" height="8.45" fill="#bfc3e2"/>
<rect x="531.14" y="779.88" width="8.55" height="8.45" fill="#bfc3e2"/>
<rect x="540.69" y="779.88" width="8.55" height="8.45" fill="#fbf8f8"/>
<rect x="550.24" y="779.88" width="8.55" height="8.45" fill="#fbf8f8"/>
<rect x="559.8" y="779.88" width="8.55" height="8.45" fill="#9ca1cf"/>
<rect x="569.35" y="779.88" width="8.55" height="8.45" fill="#bfc3e2"/>
<rect x="578.9" y="779.88" width="8.55" height="8.45" fill="#bfc3e2"/>
<rect x="15.35" y="789.33" width="8.55" height="8.45" fill="#dcdfef"/>
<rect x="24.9" y="789.33" width="8.55" height="8.45" fill="#bfc3e2"/>
<rect x="34.45" y="789.33" width="8.55" height="8.45" fill="#bfc3e2"/>
<rect x="44.01" y="789.33" width="8.55" height="8.45" fill="#dcdfef"/>
<rect x="53.56" y="789.33" width="8.55" height="8.45" fill="#fbf8f8"/>
<rect x="63.11" y="789.33" width="8.55" height="8.45" fill="#dcdfef"/>
<rect x="72.66" y="789.33" width="8.55" height="8.45" fill="#dcdfef"/>
<rect x="82.21" y="789.33" width="8.55" height="8.45" fill="#dcdfef"/>
<rect x="91.76" y="789.33" width="8.55" height="8.45" fill="#bfc3e2"/>
<rect x="101.31" y="789.33" width="8.55" height="8.45" fill="#fbf8f8"/>
<rect x="110.87" y="789.33" width="8.55" height="8.45" fill="#fbf8f8"/>
<rect x="120.42" y="789.33" width="8.55" height="8.45" fill="#7e85c0"/>
<rect x="129.97" y="789.33" width="8.55" height="8.45" fill="#9ca1cf"/>
<rect x="139.52" y="789.33" width="8.55" height="8.45" fill="#bfc3e2"/>
<rect x="149.07" y="789.33" width="8.55" height="8.45" fill="#bfc3e2"/>
<rect x="158.62" y="789.33" width="8.55" height="8.45" fill="#f8e1e2"/>
<rect x="168.18" y="789.33" width="8.55" height="8.45" fill="#dcdfef"/>
<rect x="177.73" y="789.33" width="8.55" height="8.45" fill="#dcdfef"/>
<rect x="187.28" y="789.33" width="8.55" height="8.45" fill="#bfc3e2"/>
<rect x="196.83" y="789.33" width="8.55" height="8.45" fill="#bfc3e2"/>
<rect x="206.38" y="789.33" width="8.55" height="8.45" fill="#f8e1e2"/>
<rect x="215.94" y="789.33" width="8.55" height="8.45" fill="#bfc3e2"/>
<rect x="225.49" y="789.33" width="8.55" height="8.45" fill="#bfc3e2"/>
<rect x="235.04" y="789.33" width="8.55" height="8.45" fill="#bfc3e2"/>
<rect x="244.59" y="789.33" width="8.55" height="8.45" fill="#fbf8f8"/>
<rect x="254.14" y="789.33" width="8.55" height="8.45" fill="#bfc3e2"/>
<rect x="263.69" y="789.33" width="8.55" height="8.45" fill="#bfc3e2"/>
<rect x="273.25" y="789.33" width="8.55" height="8.45" fill="#bfc3e2"/>
<rect x="282.8" y="789.33" width="8.55" height="8.45" fill="#bfc3e2"/>
<rect x="292.35" y="789.33" width="8.55" height="8.45" fill="#fbf8f8"/>
<rect x="301.9" y="789.33" width="8.55" height="8.45" fill="#fbf8f8"/>
<rect x="311.45" y="789.33" width="8.55" height="8.45" fill="#fbf8f8"/>
<rect x="321" y="789.33" width="8.55" height="8.45" fill="#fbf8f8"/>
<rect x="330.56" y="789.33" width="8.55" height="8.45" fill="#dcdfef"/>
<rect x="340.11" y="789.33" width="8.55" height="8.45" fill="#9ca1cf"/>
<rect x="349.66" y="789.33" width="8.55" height="8.45" fill="#9ca1cf"/>
<rect x="359.21" y="789.33" width="8.55" height="8.45" fill="#9ca1cf"/>
<rect x="368.76" y="789.33" width="8.55" height="8.45" fill="#dcdfef"/>
<rect x="378.31" y="789.33" width="8.55" height="8.45" fill="#9ca1cf"/>
<rect x="387.87" y="789.33" width="8.55" height="8.45" fill="#9ca1cf"/>
<rect x="397.42" y="789.33" width="8.55" height="8.45" fill="#9ca1cf"/>
<rect x="406.97" y="789.33" width="8.55" height="8.45" fill="#7e85c0"/>
<rect x="416.52" y="789.33" width="8.55" height="8.45" fill="#9ca1cf"/>
<rect x="426.07" y="789.33" width="8.55" height="8.45" fill="#bfc3e2"/>
<rect x="435.62" y="789.33" width="8.55" height="8.45" fill="#fbf8f8"/>
<rect x="445.18" y="789.33" width="8.55" height="8.45" fill="#9ca1cf"/>
<rect x="454.73" y="789.33" width="8.55" height="8.45" fill="#f8e1e2"/>
<rect x="464.28" y="789.33" width="8.55" height="8.45" fill="#bfc3e2"/>
<rect x="473.83" y="789.33" width="8.55" height="8.45" fill="#2f3068"/>
<rect x="483.38" y="789.33" width="8.55" height="8.45" fill="#9ca1cf"/>
<rect x="492.93" y="789.33" width="8.55" height="8.45" fill="#7e85c0"/>
<rect x="502.49" y="789.33" width="8.55" height="8.45" fill="#9ca1cf"/>
<rect x="512.04" y="789.33" width="8.55" height="8.45" fill="#9ca1cf"/>
<rect x="521.59" y="789.33" width="8.55" height="8.45" fill="#9ca1cf"/>
<rect x="531.14" y="789.33" width="8.55" height="8.45" fill="#9ca1cf"/>
<rect x="540.69" y="789.33" width="8.55" height="8.45" fill="#bfc3e2"/>
<rect x="550.24" y="789.33" width="8.55" height="8.45" fill="#7e85c0"/>
<rect x="559.8" y="789.33" width="8.55" height="8.45" fill="#9ca1cf"/>
<rect x="569.35" y="789.33" width="8.55" height="8.45" fill="#9ca1cf"/>
<rect x="578.9" y="789.33" width="8.55" height="8.45" fill="#bfc3e2"/>
<rect x="15.35" y="798.77" width="8.55" height="8.45" fill="#9ca1cf"/>
<rect x="24.9" y="798.77" width="8.55" height="8.45" fill="#9ca1cf"/>
<rect x="34.45" y="798.77" width="8.55" height="8.45" fill="#bfc3e2"/>
<rect x="44.01" y="798.77" width="8.55" height="8.45" fill="#9ca1cf"/>
<rect x="53.56" y="798.77" width="8.55" height="8.45" fill="#7e85c0"/>
<rect x="63.11" y="798.77" width="8.55" height="8.45" fill="#7e85c0"/>
<rect x="72.66" y="798.77" width="8.55" height="8.45" fill="#dcdfef"/>
<rect x="82.21" y="798.77" width="8.55" height="8.45" fill="#9ca1cf"/>
<rect x="91.76" y="798.77" width="8.55" height="8.45" fill="#9ca1cf"/>
<rect x="101.31" y="798.77" width="8.55" height="8.45" fill="#bfc3e2"/>
<rect x="110.87" y="798.77" width="8.55" height="8.45" fill="#9ca1cf"/>
<rect x="120.42" y="798.77" width="8.55" height="8.45" fill="#2f3068"/>
<rect x="129.97" y="798.77" width="8.55" height="8.45" fill="#9ca1cf"/>
<rect x="139.52" y="798.77" width="8.55" height="8.45" fill="#9ca1cf"/>
<rect x="149.07" y="798.77" width="8.55" height="8.45" fill="#9ca1cf"/>
<rect x="158.62" y="798.77" width="8.55" height="8.45" fill="#9ca1cf"/>
<rect x="168.18" y="798.77" width="8.55" height="8.45" fill="#9ca1cf"/>
<rect x="177.73" y="798.77" width="8.55" height="8.45" fill="#7e85c0"/>
<rect x="187.28" y="798.77" width="8.55" height="8.45" fill="#7e85c0"/>
<rect x="196.83" y="798.77" width="8.55" height="8.45" fill="#9ca1cf"/>
<rect x="206.38" y="798.77" width="8.55" height="8.45" fill="#9ca1cf"/>
<rect x="215.94" y="798.77" width="8.55" height="8.45" fill="#9ca1cf"/>
<rect x="225.49" y="798.77" width="8.55" height="8.45" fill="#9ca1cf"/>
<rect x="235.04" y="798.77" width="8.55" height="8.45" fill="#9ca1cf"/>
<rect x="244.59" y="798.77" width="8.55" height="8.45" fill="#2f3068"/>
<rect x="254.14" y="798.77" width="8.55" height="8.45" fill="#2f3068"/>
<rect x="263.69" y="798.77" width="8.55" height="8.45" fill="#bfc3e2"/>
<rect x="273.25" y="798.77" width="8.55" height="8.45" fill="#7e85c0"/>
<rect x="282.8" y="798.77" width="8.55" height="8.45" fill="#7e85c0"/>
<rect x="292.35" y="798.77" width="8.55" height="8.45" fill="#7e85c0"/>
<rect x="301.9" y="798.77" width="8.55" height="8.45" fill="#7e85c0"/>
<rect x="311.45" y="798.77" width="8.55" height="8.45" fill="#9ca1cf"/>
<rect x="321" y="798.77" width="8.55" height="8.45" fill="#7e85c0"/>
<rect x="330.56" y="798.77" width="8.55" height="8.45" fill="#7e85c0"/>
<rect x="340.11" y="798.77" width="8.55" height="8.45" fill="#7e85c0"/>
<rect x="349.66" y="798.77" width="8.55" height="8.45" fill="#2f3068"/>
<rect x="359.21" y="798.77" width="8.55" height="8.45" fill="#2f3068"/>
<rect x="368.76" y="798.77" width="8.55" height="8.45" fill="#2f3068"/>
<rect x="378.31" y="798.77" width="8.55" height="8.45" fill="#7e85c0"/>
<rect x="387.87" y="798.77" width="8.55" height="8.45" fill="#9ca1cf"/>
<rect x="397.42" y="798.77" width="8.55" height="8.45" fill="#7e85c0"/>
<rect x="406.97" y="798.77" width="8.55" height="8.45" fill="#7e85c0"/>
<rect x="416.52" y="798.77" width="8.55" height="8.45" fill="#9ca1cf"/>
<rect x="426.07" y="798.77" width="8.55" height="8.45" fill="#9ca1cf"/>
<rect x="435.62" y="798.77" width="8.55" height="8.45" fill="#7e85c0"/>
<rect x="445.18" y="798.77" width="8.55" height="8.45" fill="#9ca1cf"/>
<rect x="454.73" y="798.77" width="8.55" height="8.45" fill="#9ca1cf"/>
<rect x="464.28" y="798.77" width="8.55" height="8.45" fill="#9ca1cf"/>
<rect x="473.83" y="798.77" width="8.55" height="8.45" fill="#2f3068"/>
<rect x="483.38" y="798.77" width="8.55" height="8.45" fill="#9ca1cf"/>
<rect x="492.93" y="798.77" width="8.55" height="8.45" fill="#2f3068"/>
<rect x="502.49" y="798.77" width="8.55" height="8.45" fill="#2f3068"/>
<rect x="512.04" y="798.77" width="8.55" height="8.45" fill="#7e85c0"/>
<rect x="521.59" y="798.77" width="8.55" height="8.45" fill="#7e85c0"/>
<rect x="531.14" y="798.77" width="8.55" height="8.45" fill="#7e85c0"/>
<rect x="540.69" y="798.77" width="8.55" height="8.45" fill="#bfc3e2"/>
<rect x="550.24" y="798.77" width="8.55" height="8.45" fill="#9ca1cf"/>
<rect x="559.8" y="798.77" width="8.55" height="8.45" fill="#9ca1cf"/>
<rect x="569.35" y="798.77" width="8.55" height="8.45" fill="#2f3068"/>
<rect x="578.9" y="798.77" width="8.55" height="8.45" fill="#9ca1cf"/>
<rect x="15.35" y="808.22" width="8.55" height="8.45" fill="#bfc3e2"/>
<rect x="24.9" y="808.22" width="8.55" height="8.45" fill="#dcdfef"/>
<rect x="34.45" y="808.22" width="8.55" height="8.45" fill="#9ca1cf"/>
<rect x="44.01" y="808.22" width="8.55" height="8.45" fill="#dcdfef"/>
<rect x="53.56" y="808.22" width="8.55" height="8.45" fill="#dcdfef"/>
<rect x="63.11" y="808.22" width="8.55" height="8.45" fill="#bfc3e2"/>
<rect x="72.66" y="808.22" width="8.55" height="8.45" fill="#fbf8f8"/>
<rect x="82.21" y="808.22" width="8.55" height="8.45" fill="#dcdfef"/>
<rect x="91.76" y="808.22" width="8.55" height="8.45" fill="#dcdfef"/>
<rect x="101.31" y="808.22" width="8.55" height="8.45" fill="#dcdfef"/>
<rect x="110.87" y="808.22" width="8.55" height="8.45" fill="#dcdfef"/>
<rect x="120.42" y="808.22" width="8.55" height="8.45" fill="#fbf8f8"/>
<rect x="129.97" y="808.22" width="8.55" height="8.45" fill="#f8e1e2"/>
<rect x="139.52" y="808.22" width="8.55" height="8.45" fill="#fbf8f8"/>
<rect x="149.07" y="808.22" width="8.55" height="8.45" fill="#f8e1e2"/>
<rect x="158.62" y="808.22" width="8.55" height="8.45" fill="#fbf8f8"/>
<rect x="168.18" y="808.22" width="8.55" height="8.45" fill="#f8e1e2"/>
<rect x="177.73" y="808.22" width="8.55" height="8.45" fill="#fbf8f8"/>
<rect x="187.28" y="808.22" width="8.55" height="8.45" fill="#fbf8f8"/>
<rect x="196.83" y="808.22" width="8.55" height="8.45" fill="#dcdfef"/>
<rect x="206.38" y="808.22" width="8.55" height="8.45" fill="#dcdfef"/>
<rect x="215.94" y="808.22" width="8.55" height="8.45" fill="#9ca1cf"/>
<rect x="225.49" y="808.22" width="8.55" height="8.45" fill="#bfc3e2"/>
<rect x="235.04" y="808.22" width="8.55" height="8.45" fill="#dcdfef"/>
<rect x="244.59" y="808.22" width="8.55" height="8.45" fill="#f8e1e2"/>
<rect x="254.14" y="808.22" width="8.55" height="8.45" fill="#dcdfef"/>
<rect x="263.69" y="808.22" width="8.55" height="8.45" fill="#dcdfef"/>
<rect x="273.25" y="808.22" width="8.55" height="8.45" fill="#dcdfef"/>
<rect x="282.8" y="808.22" width="8.55" height="8.45" fill="#fbf8f8"/>
<rect x="292.35" y="808.22" width="8.55" height="8.45" fill="#fbf8f8"/>
<rect x="301.9" y="808.22" width="8.55" height="8.45" fill="#f8e1e2"/>
<rect x="311.45" y="808.22" width="8.55" height="8.45" fill="#dcdfef"/>
<rect x="321" y="808.22" width="8.55" height="8.45" fill="#fbf8f8"/>
<rect x="330.56" y="808.22" width="8.55" height="8.45" fill="#f8e1e2"/>
<rect x="340.11" y="808.22" width="8.55" height="8.45" fill="#f8e1e2"/>
<rect x="349.66" y="808.22" width="8.55" height="8.45" fill="#dcdfef"/>
<rect x="359.21" y="808.22" width="8.55" height="8.45" fill="#f8e1e2"/>
<rect x="368.76" y="808.22" width="8.55" height="8.45" fill="#f8e1e2"/>
<rect x="378.31" y="808.22" width="8.55" height="8.45" fill="#dcdfef"/>
<rect x="387.87" y="808.22" width="8.55" height="8.45" fill="#f8e1e2"/>
<rect x="397.42" y="808.22" width="8.55" height="8.45" fill="#dcdfef"/>
<rect x="406.97" y="808.22" width="8.55" height="8.45" fill="#fbf8f8"/>
<rect x="416.52" y="808.22" width="8.55" height="8.45" fill="#dcdfef"/>
<rect x="426.07" y="808.22" width="8.55" height="8.45" fill="#dcdfef"/>
<rect x="435.62" y="808.22" width="8.55" height="8.45" fill="#f8e1e2"/>
<rect x="445.18" y="808.22" width="8.55" height="8.45" fill="#f8e1e2"/>
<rect x="454.73" y="808.22" width="8.55" height="8.45" fill="#f8e1e2"/>
<rect x="464.28" y="808.22" width="8.55" height="8.45" fill="#f8e1e2"/>
<rect x="473.83" y="808.22" width="8.55" height="8.45" fill="#dcdfef"/>
<rect x="483.38" y="808.22" width="8.55" height="8.45" fill="#f8e1e2"/>
<rect x="492.93" y="808.22" width="8.55" height="8.45" fill="#dcdfef"/>
<rect x="502.49" y="808.22" width="8.55" height="8.45" fill="#dcdfef"/>
<rect x="512.04" y="808.22" width="8.55" height="8.45" fill="#f8e1e2"/>
<rect x="521.59" y="808.22" width="8.55" height="8.45" fill="#dcdfef"/>
<rect x="531.14" y="808.22" width="8.55" height="8.45" fill="#f8e1e2"/>
<rect x="540.69" y="808.22" width="8.55" height="8.45" fill="#dcdfef"/>
<rect x="550.24" y="808.22" width="8.55" height="8.45" fill="#fbf8f8"/>
<rect x="559.8" y="808.22" width="8.55" height="8.45" fill="#9ca1cf"/>
<rect x="569.35" y="808.22" width="8.55" height="8.45" fill="#dcdfef"/>
<rect x="578.9" y="808.22" width="8.55" height="8.45" fill="#dcdfef"/>
<rect x="15.35" y="817.67" width="8.55" height="8.45" fill="#fbf8f8"/>
<rect x="24.9" y="817.67" width="8.55" height="8.45" fill="#f8e1e2"/>
<rect x="34.45" y="817.67" width="8.55" height="8.45" fill="#dcdfef"/>
<rect x="44.01" y="817.67" width="8.55" height="8.45" fill="#f8e1e2"/>
<rect x="53.56" y="817.67" width="8.55" height="8.45" fill="#f8e1e2"/>
<rect x="63.11" y="817.67" width="8.55" height="8.45" fill="#fbf8f8"/>
<rect x="72.66" y="817.67" width="8.55" height="8.45" fill="#f8e1e2"/>
<rect x="82.21" y="817.67" width="8.55" height="8.45" fill="#f8e1e2"/>
<rect x="91.76" y="817.67" width="8.55" height="8.45" fill="#f1c6c8"/>
<rect x="101.31" y="817.67" width="8.55" height="8.45" fill="#f1c6c8"/>
<rect x="110.87" y="817.67" width="8.55" height="8.45" fill="#f8e1e2"/>
<rect x="120.42" y="817.67" width="8.55" height="8.45" fill="#eaadb0"/>
<rect x="129.97" y="817.67" width="8.55" height="8.45" fill="#f1c6c8"/>
<rect x="139.52" y="817.67" width="8.55" height="8.45" fill="#eaadb0"/>
<rect x="149.07" y="817.67" width="8.55" height="8.45" fill="#eaadb0"/>
<rect x="158.62" y="817.67" width="8.55" height="8.45" fill="#f1c6c8"/>
<rect x="168.18" y="817.67" width="8.55" height="8.45" fill="#f1c6c8"/>
<rect x="177.73" y="817.67" width="8.55" height="8.45" fill="#f1c6c8"/>
<rect x="187.28" y="817.67" width="8.55" height="8.45" fill="#f8e1e2"/>
<rect x="196.83" y="817.67" width="8.55" height="8.45" fill="#f1c6c8"/>
<rect x="206.38" y="817.67" width="8.55" height="8.45" fill="#f1c6c8"/>
<rect x="215.94" y="817.67" width="8.55" height="8.45" fill="#dcdfef"/>
<rect x="225.49" y="817.67" width="8.55" height="8.45" fill="#f8e1e2"/>
<rect x="235.04" y="817.67" width="8.55" height="8.45" fill="#f8e1e2"/>
<rect x="244.59" y="817.67" width="8.55" height="8.45" fill="#eaadb0"/>
<rect x="254.14" y="817.67" width="8.55" height="8.45" fill="#eaadb0"/>
<rect x="263.69" y="817.67" width="8.55" height="8.45" fill="#f1c6c8"/>
<rect x="273.25" y="817.67" width="8.55" height="8.45" fill="#eaadb0"/>
<rect x="282.8" y="817.67" width="8.55" height="8.45" fill="#eaadb0"/>
<rect x="292.35" y="817.67" width="8.55" height="8.45" fill="#eaadb0"/>
<rect x="301.9" y="817.67" width="8.55" height="8.45" fill="#eaadb0"/>
<rect x="311.45" y="817.67" width="8.55" height="8.45" fill="#eaadb0"/>
<rect x="321" y="817.67" width="8.55" height="8.45" fill="#eaadb0"/>
<rect x="330.56" y="817.67" width="8.55" height="8.45" fill="#eaadb0"/>
<rect x="340.11" y="817.67" width="8.55" height="8.45" fill="#eaadb0"/>
<rect x="349.66" y="817.67" width="8.55" height="8.45" fill="#eaadb0"/>
<rect x="359.21" y="817.67" width="8.55" height="8.45" fill="#f1c6c8"/>
<rect x="368.76" y="817.67" width="8.55" height="8.45" fill="#eaadb0"/>
<rect x="378.31" y="817.67" width="8.55" height="8.45" fill="#eaadb0"/>
<rect x="387.87" y="817.67" width="8.55" height="8.45" fill="#eaadb0"/>
<rect x="397.42" y="817.67" width="8.55" height="8.45" fill="#eaadb0"/>
<rect x="406.97" y="817.67" width="8.55" height="8.45" fill="#f1c6c8"/>
<rect x="416.52" y="817.67" width="8.55" height="8.45" fill="#f1c6c8"/>
<rect x="426.07" y="817.67" width="8.55" height="8.45" fill="#f1c6c8"/>
<rect x="435.62" y="817.67" width="8.55" height="8.45" fill="#eaadb0"/>
<rect x="445.18" y="817.67" width="8.55" height="8.45" fill="#eaadb0"/>
<rect x="454.73" y="817.67" width="8.55" height="8.45" fill="#e08d91"/>
<rect x="464.28" y="817.67" width="8.55" height="8.45" fill="#eaadb0"/>
<rect x="473.83" y="817.67" width="8.55" height="8.45" fill="#eaadb0"/>
<rect x="483.38" y="817.67" width="8.55" height="8.45" fill="#eaadb0"/>
<rect x="492.93" y="817.67" width="8.55" height="8.45" fill="#f8e1e2"/>
<rect x="502.49" y="817.67" width="8.55" height="8.45" fill="#eaadb0"/>
<rect x="512.04" y="817.67" width="8.55" height="8.45" fill="#eaadb0"/>
<rect x="521.59" y="817.67" width="8.55" height="8.45" fill="#eaadb0"/>
<rect x="531.14" y="817.67" width="8.55" height="8.45" fill="#eaadb0"/>
<rect x="540.69" y="817.67" width="8.55" height="8.45" fill="#eaadb0"/>
<rect x="550.24" y="817.67" width="8.55" height="8.45" fill="#eaadb0"/>
<rect x="559.8" y="817.67" width="8.55" height="8.45" fill="#dcdfef"/>
<rect x="569.35" y="817.67" width="8.55" height="8.45" fill="#f1c6c8"/>
<rect x="578.9" y="817.67" width="8.55" height="8.45" fill="#f8e1e2"/>
<rect x="15.35" y="827.11" width="8.55" height="8.45" fill="#d6636a"/>
<rect x="24.9" y="827.11" width="8.55" height="8.45" fill="#e08d91"/>
<rect x="34.45" y="827.11" width="8.55" height="8.45" fill="#e08d91"/>
<rect x="44.01" y="827.11" width="8.55" height="8.45" fill="#eaadb0"/>
<rect x="53.56" y="827.11" width="8.55" height="8.45" fill="#e08d91"/>
<rect x="63.11" y="827.11" width="8.55" height="8.45" fill="#e08d91"/>
<rect x="72.66" y="827.11" width="8.55" height="8.45" fill="#e08d91"/>
<rect x="82.21" y="827.11" width="8.55" height="8.45" fill="#eaadb0"/>
<rect x="91.76" y="827.11" width="8.55" height="8.45" fill="#e08d91"/>
<rect x="101.31" y="827.11" width="8.55" height="8.45" fill="#eaadb0"/>
<rect x="110.87" y="827.11" width="8.55" height="8.45" fill="#eaadb0"/>
<rect x="120.42" y="827.11" width="8.55" height="8.45" fill="#eaadb0"/>
<rect x="129.97" y="827.11" width="8.55" height="8.45" fill="#eaadb0"/>
<rect x="139.52" y="827.11" width="8.55" height="8.45" fill="#e08d91"/>
<rect x="149.07" y="827.11" width="8.55" height="8.45" fill="#eaadb0"/>
<rect x="158.62" y="827.11" width="8.55" height="8.45" fill="#e08d91"/>
<rect x="168.18" y="827.11" width="8.55" height="8.45" fill="#eaadb0"/>
<rect x="177.73" y="827.11" width="8.55" height="8.45" fill="#eaadb0"/>
<rect x="187.28" y="827.11" width="8.55" height="8.45" fill="#e08d91"/>
<rect x="196.83" y="827.11" width="8.55" height="8.45" fill="#eaadb0"/>
<rect x="206.38" y="827.11" width="8.55" height="8.45" fill="#e08d91"/>
<rect x="215.94" y="827.11" width="8.55" height="8.45" fill="#f8e1e2"/>
<rect x="225.49" y="827.11" width="8.55" height="8.45" fill="#eaadb0"/>
<rect x="235.04" y="827.11" width="8.55" height="8.45" fill="#eaadb0"/>
<rect x="244.59" y="827.11" width="8.55" height="8.45" fill="#eaadb0"/>
<rect x="254.14" y="827.11" width="8.55" height="8.45" fill="#eaadb0"/>
<rect x="263.69" y="827.11" width="8.55" height="8.45" fill="#eaadb0"/>
<rect x="273.25" y="827.11" width="8.55" height="8.45" fill="#f1c6c8"/>
<rect x="282.8" y="827.11" width="8.55" height="8.45" fill="#eaadb0"/>
<rect x="292.35" y="827.11" width="8.55" height="8.45" fill="#e08d91"/>
<rect x="301.9" y="827.11" width="8.55" height="8.45" fill="#eaadb0"/>
<rect x="311.45" y="827.11" width="8.55" height="8.45" fill="#eaadb0"/>
<rect x="321" y="827.11" width="8.55" height="8.45" fill="#e08d91"/>
<rect x="330.56" y="827.11" width="8.55" height="8.45" fill="#eaadb0"/>
<rect x="340.11" y="827.11" width="8.55" height="8.45" fill="#eaadb0"/>
<rect x="349.66" y="827.11" width="8.55" height="8.45" fill="#eaadb0"/>
<rect x="359.21" y="827.11" width="8.55" height="8.45" fill="#eaadb0"/>
<rect x="368.76" y="827.11" width="8.55" height="8.45" fill="#f8e1e2"/>
<rect x="378.31" y="827.11" width="8.55" height="8.45" fill="#f8e1e2"/>
<rect x="387.87" y="827.11" width="8.55" height="8.45" fill="#f8e1e2"/>
<rect x="397.42" y="827.11" width="8.55" height="8.45" fill="#eaadb0"/>
<rect x="406.97" y="827.11" width="8.55" height="8.45" fill="#f8e1e2"/>
<rect x="416.52" y="827.11" width="8.55" height="8.45" fill="#f8e1e2"/>
<rect x="426.07" y="827.11" width="8.55" height="8.45" fill="#eaadb0"/>
<rect x="435.62" y="827.11" width="8.55" height="8.45" fill="#eaadb0"/>
<rect x="445.18" y="827.11" width="8.55" height="8.45" fill="#eaadb0"/>
<rect x="454.73" y="827.11" width="8.55" height="8.45" fill="#eaadb0"/>
<rect x="464.28" y="827.11" width="8.55" height="8.45" fill="#eaadb0"/>
<rect x="473.83" y="827.11" width="8.55" height="8.45" fill="#f8e1e2"/>
<rect x="483.38" y="827.11" width="8.55" height="8.45" fill="#f8e1e2"/>
<rect x="492.93" y="827.11" width="8.55" height="8.45" fill="#f8e1e2"/>
<rect x="502.49" y="827.11" width="8.55" height="8.45" fill="#f1c6c8"/>
<rect x="512.04" y="827.11" width="8.55" height="8.45" fill="#f1c6c8"/>
<rect x="521.59" y="827.11" width="8.55" height="8.45" fill="#fbf8f8"/>
<rect x="531.14" y="827.11" width="8.55" height="8.45" fill="#f1c6c8"/>
<rect x="540.69" y="827.11" width="8.55" height="8.45" fill="#fbf8f8"/>
<rect x="550.24" y="827.11" width="8.55" height="8.45" fill="#fbf8f8"/>
<rect x="559.8" y="827.11" width="8.55" height="8.45" fill="#f8e1e2"/>
<rect x="569.35" y="827.11" width="8.55" height="8.45" fill="#fbf8f8"/>
<rect x="578.9" y="827.11" width="8.55" height="8.45" fill="#f8e1e2"/>
<rect x="15.35" y="836.56" width="8.55" height="8.45" fill="#f8e1e2"/>
<rect x="24.9" y="836.56" width="8.55" height="8.45" fill="#fbf8f8"/>
<rect x="34.45" y="836.56" width="8.55" height="8.45" fill="#f8e1e2"/>
<rect x="44.01" y="836.56" width="8.55" height="8.45" fill="#dcdfef"/>
<rect x="53.56" y="836.56" width="8.55" height="8.45" fill="#bfc3e2"/>
<rect x="63.11" y="836.56" width="8.55" height="8.45" fill="#bfc3e2"/>
<rect x="72.66" y="836.56" width="8.55" height="8.45" fill="#bfc3e2"/>
<rect x="82.21" y="836.56" width="8.55" height="8.45" fill="#bfc3e2"/>
<rect x="91.76" y="836.56" width="8.55" height="8.45" fill="#bfc3e2"/>
<rect x="101.31" y="836.56" width="8.55" height="8.45" fill="#bfc3e2"/>
<rect x="110.87" y="836.56" width="8.55" height="8.45" fill="#bfc3e2"/>
<rect x="120.42" y="836.56" width="8.55" height="8.45" fill="#dcdfef"/>
<rect x="129.97" y="836.56" width="8.55" height="8.45" fill="#bfc3e2"/>
<rect x="139.52" y="836.56" width="8.55" height="8.45" fill="#dcdfef"/>
<rect x="149.07" y="836.56" width="8.55" height="8.45" fill="#bfc3e2"/>
<rect x="158.62" y="836.56" width="8.55" height="8.45" fill="#fbf8f8"/>
<rect x="168.18" y="836.56" width="8.55" height="8.45" fill="#dcdfef"/>
<rect x="177.73" y="836.56" width="8.55" height="8.45" fill="#dcdfef"/>
<rect x="187.28" y="836.56" width="8.55" height="8.45" fill="#dcdfef"/>
<rect x="196.83" y="836.56" width="8.55" height="8.45" fill="#f8e1e2"/>
<rect x="206.38" y="836.56" width="8.55" height="8.45" fill="#fbf8f8"/>
<rect x="215.94" y="836.56" width="8.55" height="8.45" fill="#bfc3e2"/>
<rect x="225.49" y="836.56" width="8.55" height="8.45" fill="#fbf8f8"/>
<rect x="235.04" y="836.56" width="8.55" height="8.45" fill="#fbf8f8"/>
<rect x="244.59" y="836.56" width="8.55" height="8.45" fill="#bfc3e2"/>
<rect x="254.14" y="836.56" width="8.55" height="8.45" fill="#fbf8f8"/>
<rect x="263.69" y="836.56" width="8.55" height="8.45" fill="#bfc3e2"/>
<rect x="273.25" y="836.56" width="8.55" height="8.45" fill="#fbf8f8"/>
<rect x="282.8" y="836.56" width="8.55" height="8.45" fill="#bfc3e2"/>
<rect x="292.35" y="836.56" width="8.55" height="8.45" fill="#dcdfef"/>
<rect x="301.9" y="836.56" width="8.55" height="8.45" fill="#9ca1cf"/>
<rect x="311.45" y="836.56" width="8.55" height="8.45" fill="#dcdfef"/>
<rect x="321" y="836.56" width="8.55" height="8.45" fill="#dcdfef"/>
<rect x="330.56" y="836.56" width="8.55" height="8.45" fill="#bfc3e2"/>
<rect x="340.11" y="836.56" width="8.55" height="8.45" fill="#bfc3e2"/>
<rect x="349.66" y="836.56" width="8.55" height="8.45" fill="#fbf8f8"/>
<rect x="359.21" y="836.56" width="8.55" height="8.45" fill="#dcdfef"/>
<rect x="368.76" y="836.56" width="8.55" height="8.45" fill="#9ca1cf"/>
<rect x="378.31" y="836.56" width="8.55" height="8.45" fill="#bfc3e2"/>
<rect x="387.87" y="836.56" width="8.55" height="8.45" fill="#dcdfef"/>
<rect x="397.42" y="836.56" width="8.55" height="8.45" fill="#bfc3e2"/>
<rect x="406.97" y="836.56" width="8.55" height="8.45" fill="#9ca1cf"/>
<rect x="416.52" y="836.56" width="8.55" height="8.45" fill="#9ca1cf"/>
<rect x="426.07" y="836.56" width="8.55" height="8.45" fill="#dcdfef"/>
<rect x="435.62" y="836.56" width="8.55" height="8.45" fill="#dcdfef"/>
<rect x="445.18" y="836.56" width="8.55" height="8.45" fill="#bfc3e2"/>
<rect x="454.73" y="836.56" width="8.55" height="8.45" fill="#dcdfef"/>
<rect x="464.28" y="836.56" width="8.55" height="8.45" fill="#bfc3e2"/>
<rect x="473.83" y="836.56" width="8.55" height="8.45" fill="#9ca1cf"/>
<rect x="483.38" y="836.56" width="8.55" height="8.45" fill="#9ca1cf"/>
<rect x="492.93" y="836.56" width="8.55" height="8.45" fill="#9ca1cf"/>
<rect x="502.49" y="836.56" width="8.55" height="8.45" fill="#9ca1cf"/>
<rect x="512.04" y="836.56" width="8.55" height="8.45" fill="#9ca1cf"/>
<rect x="521.59" y="836.56" width="8.55" height="8.45" fill="#9ca1cf"/>
<rect x="531.14" y="836.56" width="8.55" height="8.45" fill="#9ca1cf"/>
<rect x="540.69" y="836.56" width="8.55" height="8.45" fill="#9ca1cf"/>
<rect x="550.24" y="836.56" width="8.55" height="8.45" fill="#7e85c0"/>
<rect x="559.8" y="836.56" width="8.55" height="8.45" fill="#bfc3e2"/>
<rect x="569.35" y="836.56" width="8.55" height="8.45" fill="#9ca1cf"/>
<rect x="578.9" y="836.56" width="8.55" height="8.45" fill="#9ca1cf"/>
<rect x="15.35" y="846.01" width="8.55" height="8.45" fill="#bfc3e2"/>
<rect x="24.9" y="846.01" width="8.55" height="8.45" fill="#bfc3e2"/>
<rect x="34.45" y="846.01" width="8.55" height="8.45" fill="#9ca1cf"/>
<rect x="44.01" y="846.01" width="8.55" height="8.45" fill="#bfc3e2"/>
<rect x="53.56" y="846.01" width="8.55" height="8.45" fill="#bfc3e2"/>
<rect x="63.11" y="846.01" width="8.55" height="8.45" fill="#bfc3e2"/>
<rect x="72.66" y="846.01" width="8.55" height="8.45" fill="#9ca1cf"/>
<rect x="82.21" y="846.01" width="8.55" height="8.45" fill="#dcdfef"/>
<rect x="91.76" y="846.01" width="8.55" height="8.45" fill="#bfc3e2"/>
<rect x="101.31" y="846.01" width="8.55" height="8.45" fill="#bfc3e2"/>
<rect x="110.87" y="846.01" width="8.55" height="8.45" fill="#bfc3e2"/>
<rect x="120.42" y="846.01" width="8.55" height="8.45" fill="#bfc3e2"/>
<rect x="129.97" y="846.01" width="8.55" height="8.45" fill="#bfc3e2"/>
<rect x="139.52" y="846.01" width="8.55" height="8.45" fill="#9ca1cf"/>
<rect x="149.07" y="846.01" width="8.55" height="8.45" fill="#7e85c0"/>
<rect x="158.62" y="846.01" width="8.55" height="8.45" fill="#bfc3e2"/>
<rect x="168.18" y="846.01" width="8.55" height="8.45" fill="#bfc3e2"/>
<rect x="177.73" y="846.01" width="8.55" height="8.45" fill="#9ca1cf"/>
<rect x="187.28" y="846.01" width="8.55" height="8.45" fill="#bfc3e2"/>
<rect x="196.83" y="846.01" width="8.55" height="8.45" fill="#9ca1cf"/>
<rect x="206.38" y="846.01" width="8.55" height="8.45" fill="#9ca1cf"/>
<rect x="215.94" y="846.01" width="8.55" height="8.45" fill="#bfc3e2"/>
<rect x="225.49" y="846.01" width="8.55" height="8.45" fill="#9ca1cf"/>
<rect x="235.04" y="846.01" width="8.55" height="8.45" fill="#bfc3e2"/>
<rect x="244.59" y="846.01" width="8.55" height="8.45" fill="#9ca1cf"/>
<rect x="254.14" y="846.01" width="8.55" height="8.45" fill="#bfc3e2"/>
<rect x="263.69" y="846.01" width="8.55" height="8.45" fill="#bfc3e2"/>
<rect x="273.25" y="846.01" width="8.55" height="8.45" fill="#9ca1cf"/>
<rect x="282.8" y="846.01" width="8.55" height="8.45" fill="#9ca1cf"/>
<rect x="292.35" y="846.01" width="8.55" height="8.45" fill="#bfc3e2"/>
<rect x="301.9" y="846.01" width="8.55" height="8.45" fill="#bfc3e2"/>
<rect x="311.45" y="846.01" width="8.55" height="8.45" fill="#7e85c0"/>
<rect x="321" y="846.01" width="8.55" height="8.45" fill="#bfc3e2"/>
<rect x="330.56" y="846.01" width="8.55" height="8.45" fill="#bfc3e2"/>
<rect x="340.11" y="846.01" width="8.55" height="8.45" fill="#bfc3e2"/>
<rect x="349.66" y="846.01" width="8.55" height="8.45" fill="#bfc3e2"/>
<rect x="359.21" y="846.01" width="8.55" height="8.45" fill="#bfc3e2"/>
<rect x="368.76" y="846.01" width="8.55" height="8.45" fill="#bfc3e2"/>
<rect x="378.31" y="846.01" width="8.55" height="8.45" fill="#bfc3e2"/>
<rect x="387.87" y="846.01" width="8.55" height="8.45" fill="#9ca1cf"/>
<rect x="397.42" y="846.01" width="8.55" height="8.45" fill="#9ca1cf"/>
<rect x="406.97" y="846.01" width="8.55" height="8.45" fill="#9ca1cf"/>
<rect x="416.52" y="846.01" width="8.55" height="8.45" fill="#7e85c0"/>
<rect x="426.07" y="846.01" width="8.55" height="8.45" fill="#bfc3e2"/>
<rect x="435.62" y="846.01" width="8.55" height="8.45" fill="#bfc3e2"/>
<rect x="445.18" y="846.01" width="8.55" height="8.45" fill="#bfc3e2"/>
<rect x="454.73" y="846.01" width="8.55" height="8.45" fill="#9ca1cf"/>
<rect x="464.28" y="846.01" width="8.55" height="8.45" fill="#bfc3e2"/>
<rect x="473.83" y="846.01" width="8.55" height="8.45" fill="#9ca1cf"/>
<rect x="483.38" y="846.01" width="8.55" height="8.45" fill="#bfc3e2"/>
<rect x="492.93" y="846.01" width="8.55" height="8.45" fill="#bfc3e2"/>
<rect x="502.49" y="846.01" width="8.55" height="8.45" fill="#bfc3e2"/>
<rect x="512.04" y="846.01" width="8.55" height="8.45" fill="#9ca1cf"/>
<rect x="521.59" y="846.01" width="8.55" height="8.45" fill="#9ca1cf"/>
<rect x="531.14" y="846.01" width="8.55" height="8.45" fill="#9ca1cf"/>
<rect x="540.69" y="846.01" width="8.55" height="8.45" fill="#9ca1cf"/>
<rect x="550.24" y="846.01" width="8.55" height="8.45" fill="#2f3068"/>
<rect x="559.8" y="846.01" width="8.55" height="8.45" fill="#bfc3e2"/>
<rect x="569.35" y="846.01" width="8.55" height="8.45" fill="#9ca1cf"/>
<rect x="578.9" y="846.01" width="8.55" height="8.45" fill="#9ca1cf"/>
<rect x="15.35" y="855.45" width="8.55" height="8.45" fill="#bfc3e2"/>
<rect x="24.9" y="855.45" width="8.55" height="8.45" fill="#bfc3e2"/>
<rect x="34.45" y="855.45" width="8.55" height="8.45" fill="#dcdfef"/>
<rect x="44.01" y="855.45" width="8.55" height="8.45" fill="#7e85c0"/>
<rect x="53.56" y="855.45" width="8.55" height="8.45" fill="#6068ae"/>
<rect x="63.11" y="855.45" width="8.55" height="8.45" fill="#7e85c0"/>
<rect x="72.66" y="855.45" width="8.55" height="8.45" fill="#bfc3e2"/>
<rect x="82.21" y="855.45" width="8.55" height="8.45" fill="#9ca1cf"/>
<rect x="91.76" y="855.45" width="8.55" height="8.45" fill="#9ca1cf"/>
<rect x="101.31" y="855.45" width="8.55" height="8.45" fill="#9ca1cf"/>
<rect x="110.87" y="855.45" width="8.55" height="8.45" fill="#9ca1cf"/>
<rect x="120.42" y="855.45" width="8.55" height="8.45" fill="#9ca1cf"/>
<rect x="129.97" y="855.45" width="8.55" height="8.45" fill="#9ca1cf"/>
<rect x="139.52" y="855.45" width="8.55" height="8.45" fill="#9ca1cf"/>
<rect x="149.07" y="855.45" width="8.55" height="8.45" fill="#9ca1cf"/>
<rect x="158.62" y="855.45" width="8.55" height="8.45" fill="#7e85c0"/>
<rect x="168.18" y="855.45" width="8.55" height="8.45" fill="#7e85c0"/>
<rect x="177.73" y="855.45" width="8.55" height="8.45" fill="#7e85c0"/>
<rect x="187.28" y="855.45" width="8.55" height="8.45" fill="#7e85c0"/>
<rect x="196.83" y="855.45" width="8.55" height="8.45" fill="#7e85c0"/>
<rect x="206.38" y="855.45" width="8.55" height="8.45" fill="#7e85c0"/>
<rect x="215.94" y="855.45" width="8.55" height="8.45" fill="#7e85c0"/>
<rect x="225.49" y="855.45" width="8.55" height="8.45" fill="#9ca1cf"/>
<rect x="235.04" y="855.45" width="8.55" height="8.45" fill="#9ca1cf"/>
<rect x="244.59" y="855.45" width="8.55" height="8.45" fill="#9ca1cf"/>
<rect x="254.14" y="855.45" width="8.55" height="8.45" fill="#7e85c0"/>
<rect x="263.69" y="855.45" width="8.55" height="8.45" fill="#2f3068"/>
<rect x="273.25" y="855.45" width="8.55" height="8.45" fill="#2f3068"/>
<rect x="282.8" y="855.45" width="8.55" height="8.45" fill="#2f3068"/>
<rect x="292.35" y="855.45" width="8.55" height="8.45" fill="#2f3068"/>
<rect x="301.9" y="855.45" width="8.55" height="8.45" fill="#2f3068"/>
<rect x="311.45" y="855.45" width="8.55" height="8.45" fill="#2f3068"/>
<rect x="321" y="855.45" width="8.55" height="8.45" fill="#2f3068"/>
<rect x="330.56" y="855.45" width="8.55" height="8.45" fill="#7e85c0"/>
<rect x="340.11" y="855.45" width="8.55" height="8.45" fill="#7e85c0"/>
<rect x="349.66" y="855.45" width="8.55" height="8.45" fill="#2f3068"/>
<rect x="359.21" y="855.45" width="8.55" height="8.45" fill="#2f3068"/>
<rect x="368.76" y="855.45" width="8.55" height="8.45" fill="#7e85c0"/>
<rect x="378.31" y="855.45" width="8.55" height="8.45" fill="#7e85c0"/>
<rect x="387.87" y="855.45" width="8.55" height="8.45" fill="#7e85c0"/>
<rect x="397.42" y="855.45" width="8.55" height="8.45" fill="#7e85c0"/>
<rect x="406.97" y="855.45" width="8.55" height="8.45" fill="#2f3068"/>
<rect x="416.52" y="855.45" width="8.55" height="8.45" fill="#7e85c0"/>
<rect x="426.07" y="855.45" width="8.55" height="8.45" fill="#7e85c0"/>
<rect x="435.62" y="855.45" width="8.55" height="8.45" fill="#7e85c0"/>
<rect x="445.18" y="855.45" width="8.55" height="8.45" fill="#9ca1cf"/>
<rect x="454.73" y="855.45" width="8.55" height="8.45" fill="#9ca1cf"/>
<rect x="464.28" y="855.45" width="8.55" height="8.45" fill="#7e85c0"/>
<rect x="473.83" y="855.45" width="8.55" height="8.45" fill="#2f3068"/>
<rect x="483.38" y="855.45" width="8.55" height="8.45" fill="#2f3068"/>
<rect x="492.93" y="855.45" width="8.55" height="8.45" fill="#2f3068"/>
<rect x="502.49" y="855.45" width="8.55" height="8.45" fill="#2f3068"/>
<rect x="512.04" y="855.45" width="8.55" height="8.45" fill="#2f3068"/>
<rect x="521.59" y="855.45" width="8.55" height="8.45" fill="#2f3068"/>
<rect x="531.14" y="855.45" width="8.55" height="8.45" fill="#2f3068"/>
<rect x="540.69" y="855.45" width="8.55" height="8.45" fill="#2f3068"/>
<rect x="550.24" y="855.45" width="8.55" height="8.45" fill="#2f3068"/>
<rect x="559.8" y="855.45" width="8.55" height="8.45" fill="#9ca1cf"/>
<rect x="569.35" y="855.45" width="8.55" height="8.45" fill="#7e85c0"/>
<rect x="578.9" y="855.45" width="8.55" height="8.45" fill="#9ca1cf"/>
<rect x="14.35" y="864.9" width="574.1" height="1.9" fill="#d4d4d4"/>
<rect x="14.35" y="866.8" width="574.1" height="10.1" fill="#9d9d9d"/>
<rect x="15.35" y="867.8" width="8.55" height="8.1" fill="#8aa23a"/>
<rect x="24.9" y="867.8" width="8.55" height="8.1" fill="#6c9c3c"/>
<rect x="34.45" y="867.8" width="8.55" height="8.1" fill="#4a8e3d"/>
<rect x="44.01" y="867.8" width="8.55" height="8.1" fill="#d07c2d"/>
<rect x="53.56" y="867.8" width="8.55" height="8.1" fill="#c6a031"/>
<rect x="63.11" y="867.8" width="8.55" height="8.1" fill="#b5a334"/>
<rect x="72.66" y="867.8" width="8.55" height="8.1" fill="#6c9c3c"/>
<rect x="82.21" y="867.8" width="8.55" height="8.1" fill="#d0652b"/>
<rect x="91.76" y="867.8" width="8.55" height="8.1" fill="#4a8e3d"/>
<rect x="101.31" y="867.8" width="8.55" height="8.1" fill="#8aa23a"/>
<rect x="110.87" y="867.8" width="8.55" height="8.1" fill="#6c9c3c"/>
<rect x="120.42" y="867.8" width="8.55" height="8.1" fill="#d0652b"/>
<rect x="129.97" y="867.8" width="8.55" height="8.1" fill="#d07c2d"/>
<rect x="139.52" y="867.8" width="8.55" height="8.1" fill="#d07c2d"/>
<rect x="149.07" y="867.8" width="8.55" height="8.1" fill="#cc8f2f"/>
<rect x="158.62" y="867.8" width="8.55" height="8.1" fill="#c6a031"/>
<rect x="168.18" y="867.8" width="8.55" height="8.1" fill="#d07c2d"/>
<rect x="177.73" y="867.8" width="8.55" height="8.1" fill="#b5a334"/>
<rect x="187.28" y="867.8" width="8.55" height="8.1" fill="#cc8f2f"/>
<rect x="196.83" y="867.8" width="8.55" height="8.1" fill="#c6a031"/>
<rect x="206.38" y="867.8" width="8.55" height="8.1" fill="#cc8f2f"/>
<rect x="215.94" y="867.8" width="8.55" height="8.1" fill="#4a8e3d"/>
<rect x="225.49" y="867.8" width="8.55" height="8.1" fill="#8aa23a"/>
<rect x="235.04" y="867.8" width="8.55" height="8.1" fill="#8aa23a"/>
<rect x="244.59" y="867.8" width="8.55" height="8.1" fill="#d0652b"/>
<rect x="254.14" y="867.8" width="8.55" height="8.1" fill="#d07c2d"/>
<rect x="263.69" y="867.8" width="8.55" height="8.1" fill="#d0652b"/>
<rect x="273.25" y="867.8" width="8.55" height="8.1" fill="#d0652b"/>
<rect x="282.8" y="867.8" width="8.55" height="8.1" fill="#d07c2d"/>
<rect x="292.35" y="867.8" width="8.55" height="8.1" fill="#d0652b"/>
<rect x="301.9" y="867.8" width="8.55" height="8.1" fill="#d07c2d"/>
<rect x="311.45" y="867.8" width="8.55" height="8.1" fill="#c6a031"/>
<rect x="321" y="867.8" width="8.55" height="8.1" fill="#d07c2d"/>
<rect x="330.56" y="867.8" width="8.55" height="8.1" fill="#cc5a2d"/>
<rect x="340.11" y="867.8" width="8.55" height="8.1" fill="#c6a031"/>
<rect x="349.66" y="867.8" width="8.55" height="8.1" fill="#d07c2d"/>
<rect x="359.21" y="867.8" width="8.55" height="8.1" fill="#d07c2d"/>
<rect x="368.76" y="867.8" width="8.55" height="8.1" fill="#d0652b"/>
<rect x="378.31" y="867.8" width="8.55" height="8.1" fill="#d07c2d"/>
<rect x="387.87" y="867.8" width="8.55" height="8.1" fill="#cc5a2d"/>
<rect x="397.42" y="867.8" width="8.55" height="8.1" fill="#d0652b"/>
<rect x="406.97" y="867.8" width="8.55" height="8.1" fill="#cb4a2c"/>
<rect x="416.52" y="867.8" width="8.55" height="8.1" fill="#d0652b"/>
<rect x="426.07" y="867.8" width="8.55" height="8.1" fill="#d07c2d"/>
<rect x="435.62" y="867.8" width="8.55" height="8.1" fill="#cc8f2f"/>
<rect x="445.18" y="867.8" width="8.55" height="8.1" fill="#c6a031"/>
<rect x="454.73" y="867.8" width="8.55" height="8.1" fill="#d07c2d"/>
<rect x="464.28" y="867.8" width="8.55" height="8.1" fill="#c6a031"/>
<rect x="473.83" y="867.8" width="8.55" height="8.1" fill="#cb4a2c"/>
<rect x="483.38" y="867.8" width="8.55" height="8.1" fill="#d0652b"/>
<rect x="492.93" y="867.8" width="8.55" height="8.1" fill="#d0652b"/>
<rect x="502.49" y="867.8" width="8.55" height="8.1" fill="#d0652b"/>
<rect x="512.04" y="867.8" width="8.55" height="8.1" fill="#d0652b"/>
<rect x="521.59" y="867.8" width="8.55" height="8.1" fill="#cb4a2c"/>
<rect x="531.14" y="867.8" width="8.55" height="8.1" fill="#cb4a2c"/>
<rect x="540.69" y="867.8" width="8.55" height="8.1" fill="#d0652b"/>
<rect x="550.24" y="867.8" width="8.55" height="8.1" fill="#d0652b"/>
<rect x="559.8" y="867.8" width="8.55" height="8.1" fill="#d07c2d"/>
<rect x="569.35" y="867.8" width="8.55" height="8.1" fill="#d0652b"/>
<rect x="578.9" y="867.8" width="8.55" height="8.1" fill="#d0652b"/>
<rect x="6.1" y="581" width="7" height="18.89" fill="#c48bc4"/>
<rect x="6.1" y="599.89" width="7" height="94.47" fill="#7ab648"/>
<rect x="6.1" y="694.36" width="7" height="37.79" fill="#2b9fd4"/>
<rect x="6.1" y="732.15" width="7" height="47.23" fill="#f0883a"/>
<rect x="6.1" y="779.38" width="7" height="28.34" fill="#c4ab9a"/>
<rect x="6.1" y="807.72" width="7" height="18.89" fill="#b5303a"/>
<rect x="6.1" y="826.61" width="7" height="9.45" fill="#2aa198"/>
<rect x="6.1" y="836.06" width="7" height="28.34" fill="#c0916a"/>
<text transform="translate(591.6,588.82) scale(1,1.12)" font-size="8" fill="#222">Ktedonobacteraceae</text>
<polygon points="674.6,584.47 675.16,585.85 676.64,585.96 675.5,586.92 675.86,588.36 674.6,587.57 673.34,588.36 673.7,586.92 672.56,585.96 674.04,585.85" fill="#ee2a35"/>
<polygon points="678.8,584.47 679.36,585.85 680.84,585.96 679.7,586.92 680.06,588.36 678.8,587.57 677.54,588.36 677.9,586.92 676.76,585.96 678.24,585.85" fill="#ee2a35"/>
<polygon points="683,584.47 683.56,585.85 685.04,585.96 683.9,586.92 684.26,588.36 683,587.57 681.74,588.36 682.1,586.92 680.96,585.96 682.44,585.85" fill="#ee2a35"/>
<text transform="translate(591.6,598.27) scale(1,1.12)" font-size="8" fill="#222">JG30-KF-AS9</text>
<polygon points="674.6,593.92 675.16,595.3 676.64,595.41 675.5,596.36 675.86,597.81 674.6,597.02 673.34,597.81 673.7,596.36 672.56,595.41 674.04,595.3" fill="#ee2a35"/>
<polygon points="678.8,593.92 679.36,595.3 680.84,595.41 679.7,596.36 680.06,597.81 678.8,597.02 677.54,597.81 677.9,596.36 676.76,595.41 678.24,595.3" fill="#ee2a35"/>
<text transform="translate(591.6,607.72) scale(1,1.12)" font-size="8" fill="#222">Xanthobacteraceae</text>
<polygon points="674.6,603.37 675.16,604.75 676.64,604.85 675.5,605.81 675.86,607.26 674.6,606.47 673.34,607.26 673.7,605.81 672.56,604.85 674.04,604.75" fill="#3a5cb0"/>
<polygon points="678.8,603.37 679.36,604.75 680.84,604.85 679.7,605.81 680.06,607.26 678.8,606.47 677.54,607.26 677.9,605.81 676.76,604.85 678.24,604.75" fill="#3a5cb0"/>
<polygon points="683,603.37 683.56,604.75 685.04,604.85 683.9,605.81 684.26,607.26 683,606.47 681.74,607.26 682.1,605.81 680.96,604.85 682.44,604.75" fill="#3a5cb0"/>
<text transform="translate(591.6,617.16) scale(1,1.12)" font-size="8" fill="#222">Acetobacteraceae</text>
<text transform="translate(591.6,626.61) scale(1,1.12)" font-size="8" fill="#222">Sphingomonadaceae</text>
<polygon points="674.6,622.26 675.16,623.64 676.64,623.75 675.5,624.7 675.86,626.15 674.6,625.36 673.34,626.15 673.7,624.7 672.56,623.75 674.04,623.64" fill="#3a5cb0"/>
<polygon points="678.8,622.26 679.36,623.64 680.84,623.75 679.7,624.7 680.06,626.15 678.8,625.36 677.54,626.15 677.9,624.7 676.76,623.75 678.24,623.64" fill="#3a5cb0"/>
<text transform="translate(591.6,636.06) scale(1,1.12)" font-size="8" fill="#222">Beijerinckiaceae</text>
<polygon points="674.6,631.71 675.16,633.09 676.64,633.19 675.5,634.15 675.86,635.6 674.6,634.81 673.34,635.6 673.7,634.15 672.56,633.19 674.04,633.09" fill="#3a5cb0"/>
<polygon points="678.8,631.71 679.36,633.09 680.84,633.19 679.7,634.15 680.06,635.6 678.8,634.81 677.54,635.6 677.9,634.15 676.76,633.19 678.24,633.09" fill="#3a5cb0"/>
<polygon points="683,631.71 683.56,633.09 685.04,633.19 683.9,634.15 684.26,635.6 683,634.81 681.74,635.6 682.1,634.15 680.96,633.19 682.44,633.09" fill="#3a5cb0"/>
<text transform="translate(591.6,645.5) scale(1,1.12)" font-size="8" fill="#222">Caulobacteraceae</text>
<polygon points="674.6,641.15 675.16,642.53 676.64,642.64 675.5,643.6 675.86,645.04 674.6,644.25 673.34,645.04 673.7,643.6 672.56,642.64 674.04,642.53" fill="#3a5cb0"/>
<polygon points="678.8,641.15 679.36,642.53 680.84,642.64 679.7,643.6 680.06,645.04 678.8,644.25 677.54,645.04 677.9,643.6 676.76,642.64 678.24,642.53" fill="#3a5cb0"/>
<polygon points="683,641.15 683.56,642.53 685.04,642.64 683.9,643.6 684.26,645.04 683,644.25 681.74,645.04 682.1,643.6 680.96,642.64 682.44,642.53" fill="#3a5cb0"/>
<text transform="translate(591.6,654.95) scale(1,1.12)" font-size="8" fill="#222">Reyranellaceae</text>
<polygon points="674.6,650.6 675.16,651.98 676.64,652.09 675.5,653.04 675.86,654.49 674.6,653.7 673.34,654.49 673.7,653.04 672.56,652.09 674.04,651.98" fill="#3a5cb0"/>
<polygon points="678.8,650.6 679.36,651.98 680.84,652.09 679.7,653.04 680.06,654.49 678.8,653.7 677.54,654.49 677.9,653.04 676.76,652.09 678.24,651.98" fill="#3a5cb0"/>
<polygon points="683,650.6 683.56,651.98 685.04,652.09 683.9,653.04 684.26,654.49 683,653.7 681.74,654.49 682.1,653.04 680.96,652.09 682.44,651.98" fill="#3a5cb0"/>
<text transform="translate(591.6,664.4) scale(1,1.12)" font-size="8" fill="#222">Micropepsaceae</text>
<polygon points="674.6,660.05 675.16,661.43 676.64,661.53 675.5,662.49 675.86,663.94 674.6,663.15 673.34,663.94 673.7,662.49 672.56,661.53 674.04,661.43" fill="#3a5cb0"/>
<polygon points="678.8,660.05 679.36,661.43 680.84,661.53 679.7,662.49 680.06,663.94 678.8,663.15 677.54,663.94 677.9,662.49 676.76,661.53 678.24,661.43" fill="#3a5cb0"/>
<polygon points="683,660.05 683.56,661.43 685.04,661.53 683.9,662.49 684.26,663.94 683,663.15 681.74,663.94 682.1,662.49 680.96,661.53 682.44,661.43" fill="#3a5cb0"/>
<text transform="translate(591.6,673.84) scale(1,1.12)" font-size="8" fill="#222">Rhizobiaceae</text>
<polygon points="674.6,669.49 675.16,670.87 676.64,670.98 675.5,671.94 675.86,673.38 674.6,672.59 673.34,673.38 673.7,671.94 672.56,670.98 674.04,670.87" fill="#3a5cb0"/>
<polygon points="678.8,669.49 679.36,670.87 680.84,670.98 679.7,671.94 680.06,673.38 678.8,672.59 677.54,673.38 677.9,671.94 676.76,670.98 678.24,670.87" fill="#3a5cb0"/>
<polygon points="683,669.49 683.56,670.87 685.04,670.98 683.9,671.94 684.26,673.38 683,672.59 681.74,673.38 682.1,671.94 680.96,670.98 682.44,670.87" fill="#3a5cb0"/>
<text transform="translate(591.6,683.29) scale(1,1.12)" font-size="8" fill="#222">Devosiaceae</text>
<polygon points="674.6,678.94 675.16,680.32 676.64,680.43 675.5,681.38 675.86,682.83 674.6,682.04 673.34,682.83 673.7,681.38 672.56,680.43 674.04,680.32" fill="#3a5cb0"/>
<polygon points="678.8,678.94 679.36,680.32 680.84,680.43 679.7,681.38 680.06,682.83 678.8,682.04 677.54,682.83 677.9,681.38 676.76,680.43 678.24,680.32" fill="#3a5cb0"/>
<polygon points="683,678.94 683.56,680.32 685.04,680.43 683.9,681.38 684.26,682.83 683,682.04 681.74,682.83 682.1,681.38 680.96,680.43 682.44,680.32" fill="#3a5cb0"/>
<text transform="translate(591.6,692.74) scale(1,1.12)" font-size="8" fill="#222">Hyphomicrobiaceae</text>
<polygon points="674.6,688.39 675.16,689.77 676.64,689.87 675.5,690.83 675.86,692.28 674.6,691.49 673.34,692.28 673.7,690.83 672.56,689.87 674.04,689.77" fill="#3a5cb0"/>
<polygon points="678.8,688.39 679.36,689.77 680.84,689.87 679.7,690.83 680.06,692.28 678.8,691.49 677.54,692.28 677.9,690.83 676.76,689.87 678.24,689.77" fill="#3a5cb0"/>
<polygon points="683,688.39 683.56,689.77 685.04,689.87 683.9,690.83 684.26,692.28 683,691.49 681.74,692.28 682.1,690.83 680.96,689.87 682.44,689.77" fill="#3a5cb0"/>
<text transform="translate(591.6,702.18) scale(1,1.12)" font-size="8" fill="#222">SC-I-84</text>
<polygon points="674.6,697.83 675.16,699.21 676.64,699.32 675.5,700.28 675.86,701.72 674.6,700.93 673.34,701.72 673.7,700.28 672.56,699.32 674.04,699.21" fill="#3a5cb0"/>
<polygon points="678.8,697.83 679.36,699.21 680.84,699.32 679.7,700.28 680.06,701.72 678.8,700.93 677.54,701.72 677.9,700.28 676.76,699.32 678.24,699.21" fill="#3a5cb0"/>
<polygon points="683,697.83 683.56,699.21 685.04,699.32 683.9,700.28 684.26,701.72 683,700.93 681.74,701.72 682.1,700.28 680.96,699.32 682.44,699.21" fill="#3a5cb0"/>
<text transform="translate(591.6,711.63) scale(1,1.12)" font-size="8" fill="#222">Burkholderiaceae</text>
<polygon points="674.6,707.28 675.16,708.66 676.64,708.77 675.5,709.72 675.86,711.17 674.6,710.38 673.34,711.17 673.7,709.72 672.56,708.77 674.04,708.66" fill="#3a5cb0"/>
<polygon points="678.8,707.28 679.36,708.66 680.84,708.77 679.7,709.72 680.06,711.17 678.8,710.38 677.54,711.17 677.9,709.72 676.76,708.77 678.24,708.66" fill="#3a5cb0"/>
<polygon points="683,707.28 683.56,708.66 685.04,708.77 683.9,709.72 684.26,711.17 683,710.38 681.74,711.17 682.1,709.72 680.96,708.77 682.44,708.66" fill="#3a5cb0"/>
<text transform="translate(591.6,721.08) scale(1,1.12)" font-size="8" fill="#222">Nitrosomonadaceae</text>
<polygon points="674.6,716.73 675.16,718.11 676.64,718.21 675.5,719.17 675.86,720.62 674.6,719.83 673.34,720.62 673.7,719.17 672.56,718.21 674.04,718.11" fill="#3a5cb0"/>
<polygon points="678.8,716.73 679.36,718.11 680.84,718.21 679.7,719.17 680.06,720.62 678.8,719.83 677.54,720.62 677.9,719.17 676.76,718.21 678.24,718.11" fill="#3a5cb0"/>
<polygon points="683,716.73 683.56,718.11 685.04,718.21 683.9,719.17 684.26,720.62 683,719.83 681.74,720.62 682.1,719.17 680.96,718.21 682.44,718.11" fill="#3a5cb0"/>
<text transform="translate(591.6,730.52) scale(1,1.12)" font-size="8" fill="#222">TRA3-20</text>
<polygon points="674.6,726.17 675.16,727.55 676.64,727.66 675.5,728.62 675.86,730.06 674.6,729.27 673.34,730.06 673.7,728.62 672.56,727.66 674.04,727.55" fill="#3a5cb0"/>
<polygon points="678.8,726.17 679.36,727.55 680.84,727.66 679.7,728.62 680.06,730.06 678.8,729.27 677.54,730.06 677.9,728.62 676.76,727.66 678.24,727.55" fill="#3a5cb0"/>
<polygon points="683,726.17 683.56,727.55 685.04,727.66 683.9,728.62 684.26,730.06 683,729.27 681.74,730.06 682.1,728.62 680.96,727.66 682.44,727.55" fill="#3a5cb0"/>
<text transform="translate(591.6,739.97) scale(1,1.12)" font-size="8" fill="#222">Rhodanobacteraceae</text>
<text transform="translate(591.6,749.42) scale(1,1.12)" font-size="8" fill="#222">Xanthomonadaceae</text>
<polygon points="674.6,745.07 675.16,746.45 676.64,746.55 675.5,747.51 675.86,748.96 674.6,748.17 673.34,748.96 673.7,747.51 672.56,746.55 674.04,746.45" fill="#3a5cb0"/>
<polygon points="678.8,745.07 679.36,746.45 680.84,746.55 679.7,747.51 680.06,748.96 678.8,748.17 677.54,748.96 677.9,747.51 676.76,746.55 678.24,746.45" fill="#3a5cb0"/>
<polygon points="683,745.07 683.56,746.45 685.04,746.55 683.9,747.51 684.26,748.96 683,748.17 681.74,748.96 682.1,747.51 680.96,746.55 682.44,746.45" fill="#3a5cb0"/>
<text transform="translate(591.6,758.86) scale(1,1.12)" font-size="8" fill="#222">Moraxellaceae</text>
<text transform="translate(591.6,768.31) scale(1,1.12)" font-size="8" fill="#222">Diplorickettsiaceae</text>
<polygon points="674.6,763.96 675.16,765.34 676.64,765.45 675.5,766.4 675.86,767.85 674.6,767.06 673.34,767.85 673.7,766.4 672.56,765.45 674.04,765.34" fill="#3a5cb0"/>
<polygon points="678.8,763.96 679.36,765.34 680.84,765.45 679.7,766.4 680.06,767.85 678.8,767.06 677.54,767.85 677.9,766.4 676.76,765.45 678.24,765.34" fill="#3a5cb0"/>
<text transform="translate(591.6,777.76) scale(1,1.12)" font-size="8" fill="#222">Pseudomonadaceae</text>
<polygon points="674.6,773.41 675.16,774.79 676.64,774.89 675.5,775.85 675.86,777.3 674.6,776.51 673.34,777.3 673.7,775.85 672.56,774.89 674.04,774.79" fill="#3a5cb0"/>
<polygon points="678.8,773.41 679.36,774.79 680.84,774.89 679.7,775.85 680.06,777.3 678.8,776.51 677.54,777.3 677.9,775.85 676.76,774.89 678.24,774.79" fill="#3a5cb0"/>
<text transform="translate(591.6,787.2) scale(1,1.12)" font-size="8" fill="#222">Polyangiaceae</text>
<polygon points="674.6,782.85 675.16,784.23 676.64,784.34 675.5,785.3 675.86,786.74 674.6,785.95 673.34,786.74 673.7,785.3 672.56,784.34 674.04,784.23" fill="#3a5cb0"/>
<polygon points="678.8,782.85 679.36,784.23 680.84,784.34 679.7,785.3 680.06,786.74 678.8,785.95 677.54,786.74 677.9,785.3 676.76,784.34 678.24,784.23" fill="#3a5cb0"/>
<polygon points="683,782.85 683.56,784.23 685.04,784.34 683.9,785.3 684.26,786.74 683,785.95 681.74,786.74 682.1,785.3 680.96,784.34 682.44,784.23" fill="#3a5cb0"/>
<text transform="translate(591.6,796.65) scale(1,1.12)" font-size="8" fill="#222">Archangiaceae</text>
<text transform="translate(591.6,806.1) scale(1,1.12)" font-size="8" fill="#222">Myxococcaceae</text>
<polygon points="674.6,801.75 675.16,803.13 676.64,803.23 675.5,804.19 675.86,805.64 674.6,804.85 673.34,805.64 673.7,804.19 672.56,803.23 674.04,803.13" fill="#3a5cb0"/>
<polygon points="678.8,801.75 679.36,803.13 680.84,803.23 679.7,804.19 680.06,805.64 678.8,804.85 677.54,805.64 677.9,804.19 676.76,803.23 678.24,803.13" fill="#3a5cb0"/>
<polygon points="683,801.75 683.56,803.13 685.04,803.23 683.9,804.19 684.26,805.64 683,804.85 681.74,805.64 682.1,804.19 680.96,803.23 682.44,803.13" fill="#3a5cb0"/>
<text transform="translate(591.6,815.54) scale(1,1.12)" font-size="8" fill="#222">Isosphaeraceae</text>
<polygon points="674.6,811.19 675.16,812.57 676.64,812.68 675.5,813.64 675.86,815.08 674.6,814.29 673.34,815.08 673.7,813.64 672.56,812.68 674.04,812.57" fill="#ee2a35"/>
<polygon points="678.8,811.19 679.36,812.57 680.84,812.68 679.7,813.64 680.06,815.08 678.8,814.29 677.54,815.08 677.9,813.64 676.76,812.68 678.24,812.57" fill="#ee2a35"/>
<polygon points="683,811.19 683.56,812.57 685.04,812.68 683.9,813.64 684.26,815.08 683,814.29 681.74,815.08 682.1,813.64 680.96,812.68 682.44,812.57" fill="#ee2a35"/>
<text transform="translate(591.6,824.99) scale(1,1.12)" font-size="8" fill="#222">Gemmataceae</text>
<polygon points="674.6,820.64 675.16,822.02 676.64,822.13 675.5,823.08 675.86,824.53 674.6,823.74 673.34,824.53 673.7,823.08 672.56,822.13 674.04,822.02" fill="#ee2a35"/>
<polygon points="678.8,820.64 679.36,822.02 680.84,822.13 679.7,823.08 680.06,824.53 678.8,823.74 677.54,824.53 677.9,823.08 676.76,822.13 678.24,822.02" fill="#ee2a35"/>
<polygon points="683,820.64 683.56,822.02 685.04,822.13 683.9,823.08 684.26,824.53 683,823.74 681.74,824.53 682.1,823.08 680.96,822.13 682.44,822.02" fill="#ee2a35"/>
<text transform="translate(591.6,834.44) scale(1,1.12)" font-size="8" fill="#222">Gemmatimonadaceae</text>
<polygon points="674.6,830.09 675.16,831.47 676.64,831.57 675.5,832.53 675.86,833.98 674.6,833.19 673.34,833.98 673.7,832.53 672.56,831.57 674.04,831.47" fill="#3a5cb0"/>
<polygon points="678.8,830.09 679.36,831.47 680.84,831.57 679.7,832.53 680.06,833.98 678.8,833.19 677.54,833.98 677.9,832.53 676.76,831.57 678.24,831.47" fill="#3a5cb0"/>
<polygon points="683,830.09 683.56,831.47 685.04,831.57 683.9,832.53 684.26,833.98 683,833.19 681.74,833.98 682.1,832.53 680.96,831.57 682.44,831.47" fill="#3a5cb0"/>
<text transform="translate(591.6,843.88) scale(1,1.12)" font-size="8" fill="#222">Ilumatobacteraceae</text>
<polygon points="674.6,839.53 675.16,840.91 676.64,841.02 675.5,841.98 675.86,843.42 674.6,842.63 673.34,843.42 673.7,841.98 672.56,841.02 674.04,840.91" fill="#3a5cb0"/>
<polygon points="678.8,839.53 679.36,840.91 680.84,841.02 679.7,841.98 680.06,843.42 678.8,842.63 677.54,843.42 677.9,841.98 676.76,841.02 678.24,840.91" fill="#3a5cb0"/>
<polygon points="683,839.53 683.56,840.91 685.04,841.02 683.9,841.98 684.26,843.42 683,842.63 681.74,843.42 682.1,841.98 680.96,841.02 682.44,840.91" fill="#3a5cb0"/>
<text transform="translate(591.6,853.33) scale(1,1.12)" font-size="8" fill="#222">Acidimicrobiaceae</text>
<polygon points="674.6,848.98 675.16,850.36 676.64,850.47 675.5,851.42 675.86,852.87 674.6,852.08 673.34,852.87 673.7,851.42 672.56,850.47 674.04,850.36" fill="#3a5cb0"/>
<text transform="translate(591.6,862.78) scale(1,1.12)" font-size="8" fill="#222">Iamiaceae</text>
<polygon points="674.6,858.43 675.16,859.81 676.64,859.91 675.5,860.87 675.86,862.32 674.6,861.53 673.34,862.32 673.7,860.87 672.56,859.91 674.04,859.81" fill="#3a5cb0"/>
<polygon points="678.8,858.43 679.36,859.81 680.84,859.91 679.7,860.87 680.06,862.32 678.8,861.53 677.54,862.32 677.9,860.87 676.76,859.91 678.24,859.81" fill="#3a5cb0"/>
<polygon points="683,858.43 683.56,859.81 685.04,859.91 683.9,860.87 684.26,862.32 683,861.53 681.74,862.32 682.1,860.87 680.96,859.91 682.44,859.81" fill="#3a5cb0"/>
<path d="M29.18,580.4V571.5H38.73V580.4M19.63,580.4V569.2H33.95V571.5M57.83,580.4V574.5H67.38V580.4M48.28,580.4V570.4H62.61V574.5M105.59,580.4V575.3H115.14V580.4M96.04,580.4V573.2H110.37V575.3M86.49,580.4V572.3H103.2V573.2M76.94,580.4V567.4H94.85V572.3M55.44,570.4V564.3H85.89V567.4M26.79,569.2V559.7H70.67V564.3M124.69,580.4V558.6H134.25V580.4M143.8,580.4V570.1H153.35V580.4M172.45,580.4V572.6H182V580.4M162.9,580.4V568.7H177.23V572.6M191.56,580.4V566.3H201.11V580.4M170.06,568.7V565.2H196.33V566.3M229.76,580.4V570.4H239.31V580.4M220.21,580.4V565.4H234.54V570.4M210.66,580.4V562.2H227.37V565.4M183.2,565.2V558.4H219.02V562.2M148.57,570.1V553.5H201.11V558.4M129.47,558.6V550.4H174.84V553.5M48.73,559.7V545.3H152.16V550.4M248.87,580.4V561.5H258.42V580.4M277.52,580.4V570.3H287.07V580.4M267.97,580.4V565.4H282.3V570.3M306.18,580.4V568.3H315.73V580.4M296.62,580.4V564.8H310.95V568.3M275.13,565.4V561.5H303.79V564.8M334.83,580.4V565.4H344.38V580.4M325.28,580.4V559.3H339.61V565.4M289.46,561.5V557.5H332.44V559.3M353.93,580.4V569.2H363.49V580.4M373.04,580.4V568.4H382.59V580.4M392.14,580.4V563.7H401.69V580.4M377.81,568.4V559.7H396.92V563.7M411.24,580.4V565.4H420.8V580.4M439.9,580.4V572.2H449.45V580.4M430.35,580.4V571.4H444.68V572.2M459,580.4V568.4H468.55V580.4M437.51,571.4V564.3H463.78V568.4M416.02,565.4V559.3H450.64V564.3M387.37,559.7V557.2H433.33V559.3M358.71,569.2V554.4H410.35V557.2M310.95,557.5V551.7H384.53V554.4M253.64,561.5V549.5H347.74V551.7M478.11,580.4V562.6H487.66V580.4M497.21,580.4V561.9H506.76V580.4M525.86,580.4V563.2H535.42V580.4M516.31,580.4V557.7H530.64V563.2M501.99,561.9V556.6H523.48V557.7M482.88,562.6V554.2H512.73V556.6M544.97,580.4V555.4H554.52V580.4M573.62,580.4V560.5H583.17V580.4M564.07,580.4V552.6H578.4V560.5M549.74,555.4V548.5H571.23V552.6M497.81,554.2V547.5H560.49V548.5M300.69,549.5V543.5H529.15V547.5M100.44,545.3V525.4H414.92V543.5" stroke="#1a1a1a" stroke-width="1" fill="none"/>
<rect x="7" y="886.1" width="13.6" height="12.8" fill="#c48bc4"/>
<text x="23.3" y="895.3" font-size="9.3" text-anchor="start" font-weight="normal" fill="#222">Ktedonobacteria</text>
<rect x="7" y="901.9" width="13.6" height="12.8" fill="#7ab648"/>
<text x="23.3" y="911.1" font-size="9.3" text-anchor="start" font-weight="normal" fill="#222">Alphaproteobacteria</text>
<rect x="120.9" y="886.1" width="13.6" height="12.8" fill="#2b9fd4"/>
<text x="137.2" y="895.3" font-size="9.3" text-anchor="start" font-weight="normal" fill="#222">Betaproteobacteria</text>
<rect x="120.9" y="901.9" width="13.6" height="12.8" fill="#f0883a"/>
<text x="137.2" y="911.1" font-size="9.3" text-anchor="start" font-weight="normal" fill="#222">Gammaproteobacteria</text>
<rect x="245.3" y="886.1" width="13.6" height="12.8" fill="#c4ab9a"/>
<text x="261.6" y="895.3" font-size="9.3" text-anchor="start" font-weight="normal" fill="#222">Deltaproteobacteria</text>
<rect x="245.3" y="901.9" width="13.6" height="12.8" fill="#b5303a"/>
<text x="261.6" y="911.1" font-size="9.3" text-anchor="start" font-weight="normal" fill="#222">Planctomycetacia</text>
<rect x="364" y="886.1" width="13.6" height="12.8" fill="#2aa198"/>
<text x="380.3" y="895.3" font-size="9.3" text-anchor="start" font-weight="normal" fill="#222">Gemmatimonadetes</text>
<rect x="364" y="901.9" width="13.6" height="12.8" fill="#c0916a"/>
<text x="380.3" y="911.1" font-size="9.3" text-anchor="start" font-weight="normal" fill="#222">Acidimicrobiia</text>
<defs><linearGradient id="ra" x1="0" x2="1" y1="0" y2="0"><stop offset="0" stop-color="#1f2466"/><stop offset="0.06" stop-color="#2b3598"/><stop offset="0.5" stop-color="#ffffff"/><stop offset="1" stop-color="#c8282e"/></linearGradient><linearGradient id="ph" x1="0" x2="1" y1="0" y2="0"><stop offset="0" stop-color="#cf4a2a"/><stop offset="0.5" stop-color="#c9a132"/><stop offset="1" stop-color="#3f8f3d"/></linearGradient></defs>
<rect x="500.8" y="894.1" width="69.2" height="10.7" fill="url(#ra)"/>
<rect x="611.7" y="894.1" width="68.8" height="10.7" fill="url(#ph)"/>
<text x="500.6" y="891" font-size="9" text-anchor="start" font-weight="normal" fill="#222">RA</text>
<text x="611.7" y="891" font-size="9" text-anchor="start" font-weight="normal" fill="#222">pH</text>
<text x="500.8" y="913.6" font-size="9" text-anchor="middle" font-weight="normal" fill="#222">0</text>
<text x="535.4" y="913.6" font-size="9" text-anchor="middle" font-weight="normal" fill="#222">1</text>
<text x="570" y="913.6" font-size="9" text-anchor="middle" font-weight="normal" fill="#222">2</text>
<text x="611.7" y="913.6" font-size="9" text-anchor="middle" font-weight="normal" fill="#222">4</text>
<text x="634.63" y="913.6" font-size="9" text-anchor="middle" font-weight="normal" fill="#222">5</text>
<text x="657.57" y="913.6" font-size="9" text-anchor="middle" font-weight="normal" fill="#222">6</text>
<text x="680.5" y="913.6" font-size="9" text-anchor="middle" font-weight="normal" fill="#222">7</text>
</svg>
</body></html>
